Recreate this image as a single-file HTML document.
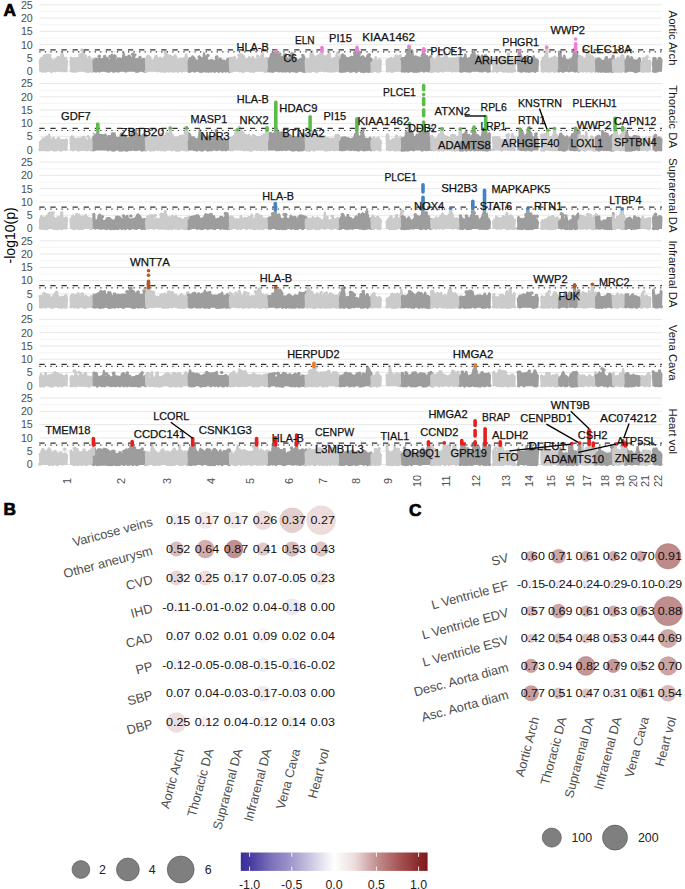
<!DOCTYPE html>
<html><head><meta charset="utf-8"><title>Figure</title>
<style>html,body{margin:0;padding:0;background:#fff;} body{width:685px;height:889px;overflow:hidden;font-family:'Liberation Sans', sans-serif;} svg{display:block;}</style>
</head><body>
<svg width="685" height="889" viewBox="0 0 685 889" font-family="'Liberation Sans', sans-serif"><line x1="39.4" x2="662.1" y1="71.26" y2="71.26" stroke="#e8e8e8" stroke-width="1.0"/>
<line x1="39.4" x2="662.1" y1="64.62" y2="64.62" stroke="#f1f1f1" stroke-width="0.8"/>
<line x1="39.4" x2="662.1" y1="57.98" y2="57.98" stroke="#e8e8e8" stroke-width="1.0"/>
<line x1="39.4" x2="662.1" y1="51.34" y2="51.34" stroke="#f1f1f1" stroke-width="0.8"/>
<line x1="39.4" x2="662.1" y1="44.70" y2="44.70" stroke="#e8e8e8" stroke-width="1.0"/>
<line x1="39.4" x2="662.1" y1="38.06" y2="38.06" stroke="#f1f1f1" stroke-width="0.8"/>
<line x1="39.4" x2="662.1" y1="31.42" y2="31.42" stroke="#e8e8e8" stroke-width="1.0"/>
<line x1="39.4" x2="662.1" y1="24.78" y2="24.78" stroke="#f1f1f1" stroke-width="0.8"/>
<line x1="39.4" x2="662.1" y1="18.14" y2="18.14" stroke="#e8e8e8" stroke-width="1.0"/>
<line x1="39.4" x2="662.1" y1="11.50" y2="11.50" stroke="#f1f1f1" stroke-width="0.8"/>
<line x1="39.4" x2="662.1" y1="4.86" y2="4.86" stroke="#e8e8e8" stroke-width="1.0"/>
<path d="M39.2,71.8 L38.7,60.8 L40.3,57.4 L41.2,57.1 L42.1,57.4 L43.0,57.5 L43.9,55.5 L44.8,54.0 L45.7,53.7 L46.6,54.0 L47.5,55.5 L48.4,55.1 L49.3,54.8 L50.2,55.1 L51.1,57.3 L52.0,57.9 L52.9,60.0 L53.8,58.7 L54.7,58.4 L55.6,58.4 L56.5,57.8 L57.5,57.6 L58.4,57.8 L59.3,58.8 L60.2,55.0 L61.1,50.7 L62.0,50.5 L62.9,50.7 L63.8,54.6 L64.7,58.2 L65.6,58.0 L66.5,58.2 L68.1,60.6 L67.5,71.8Z" fill="#cbcbcb"/>
<path d="M70.0,71.8 L69.4,60.5 L71.0,58.7 L71.9,59.0 L72.8,59.2 L73.8,57.7 L74.7,57.5 L75.6,57.7 L76.5,58.4 L77.4,57.2 L78.4,56.7 L79.3,54.7 L80.2,53.4 L81.1,53.2 L82.0,49.9 L83.0,49.6 L83.9,49.9 L84.8,54.6 L85.7,54.3 L86.6,54.6 L87.6,58.8 L88.5,58.8 L89.4,58.5 L90.3,58.5 L91.2,58.8 L92.2,58.6 L93.1,57.9 L94.0,57.6 L95.6,59.4 L95.0,71.8Z" fill="#cbcbcb"/>
<g fill="#cbcbcb"><circle cx="42.2" cy="71.0" r="1.75"/><circle cx="43.6" cy="70.9" r="1.75"/><circle cx="45.7" cy="71.1" r="1.75"/><circle cx="51.4" cy="71.4" r="1.75"/><circle cx="55.1" cy="70.8" r="1.75"/><circle cx="62.1" cy="70.8" r="1.75"/><circle cx="65.5" cy="70.8" r="1.75"/><circle cx="42.4" cy="58.7" r="1.75"/><circle cx="44.3" cy="56.2" r="1.75"/><circle cx="47.6" cy="55.2" r="1.75"/><circle cx="49.7" cy="55.4" r="1.75"/><circle cx="56.6" cy="59.4" r="1.75"/><circle cx="58.2" cy="57.6" r="1.75"/><circle cx="65.4" cy="58.5" r="1.75"/><circle cx="47.8" cy="55.9" r="1.75"/><circle cx="71.3" cy="70.8" r="1.75"/><circle cx="73.0" cy="71.1" r="1.75"/><circle cx="74.9" cy="71.0" r="1.75"/><circle cx="76.3" cy="70.9" r="1.75"/><circle cx="85.7" cy="71.0" r="1.75"/><circle cx="87.7" cy="71.3" r="1.75"/><circle cx="89.0" cy="71.3" r="1.75"/><circle cx="91.5" cy="71.0" r="1.75"/><circle cx="92.9" cy="70.9" r="1.75"/><circle cx="71.3" cy="58.3" r="1.75"/><circle cx="72.6" cy="60.1" r="1.75"/><circle cx="74.4" cy="58.9" r="1.75"/><circle cx="76.8" cy="58.7" r="1.75"/><circle cx="80.0" cy="55.1" r="1.75"/><circle cx="81.9" cy="50.0" r="1.75"/><circle cx="83.8" cy="51.9" r="1.75"/><circle cx="91.4" cy="60.2" r="1.75"/><circle cx="89.3" cy="57.5" r="1.75"/></g>
<path d="M92.9,71.8 L92.4,60.8 L94.0,59.0 L94.9,58.8 L95.8,59.1 L96.7,58.8 L97.6,58.2 L98.5,57.5 L99.4,57.3 L100.3,57.5 L101.2,60.2 L102.1,60.2 L103.0,59.4 L103.9,56.4 L104.8,56.1 L105.7,56.4 L106.7,57.2 L107.6,57.0 L108.5,57.2 L109.4,60.1 L110.3,54.9 L111.2,53.9 L112.1,53.6 L113.0,53.9 L113.9,55.2 L115.5,60.8 L114.9,71.8Z" fill="#9d9d9d"/>
<path d="M113.5,71.8 L113.0,55.8 L114.5,54.0 L115.4,54.3 L116.4,58.9 L117.3,57.5 L118.2,57.3 L119.1,57.5 L120.0,57.5 L120.9,57.8 L121.8,58.1 L122.7,52.3 L123.6,52.1 L124.5,52.3 L125.5,56.3 L126.4,56.3 L127.3,56.6 L128.2,57.6 L129.1,55.8 L130.0,55.6 L130.9,55.8 L131.8,57.3 L132.7,54.7 L133.6,54.5 L134.6,54.7 L135.5,58.6 L136.4,58.2 L137.3,57.9 L138.2,58.2 L139.1,58.0 L140.0,57.8 L140.9,58.0 L141.8,58.7 L142.8,58.4 L143.7,58.4 L144.6,58.7 L145.5,58.8 L146.4,58.6 L148.0,60.3 L147.4,71.8Z" fill="#9d9d9d"/>
<g fill="#9d9d9d"><circle cx="95.9" cy="70.9" r="1.75"/><circle cx="99.4" cy="70.9" r="1.75"/><circle cx="106.3" cy="70.8" r="1.75"/><circle cx="108.8" cy="71.3" r="1.75"/><circle cx="113.6" cy="71.3" r="1.75"/><circle cx="96.0" cy="59.2" r="1.75"/><circle cx="101.2" cy="59.9" r="1.75"/><circle cx="102.7" cy="59.5" r="1.75"/><circle cx="104.7" cy="56.6" r="1.75"/><circle cx="110.1" cy="56.4" r="1.75"/><circle cx="99.2" cy="56.3" r="1.75"/><circle cx="116.5" cy="70.8" r="1.75"/><circle cx="118.5" cy="71.0" r="1.75"/><circle cx="125.8" cy="71.0" r="1.75"/><circle cx="136.4" cy="71.3" r="1.75"/><circle cx="138.2" cy="71.0" r="1.75"/><circle cx="143.5" cy="70.8" r="1.75"/><circle cx="145.2" cy="71.2" r="1.75"/><circle cx="119.6" cy="59.5" r="1.75"/><circle cx="127.6" cy="57.4" r="1.75"/><circle cx="129.0" cy="56.2" r="1.75"/><circle cx="132.7" cy="54.3" r="1.75"/><circle cx="134.8" cy="54.9" r="1.75"/><circle cx="140.0" cy="57.4" r="1.75"/><circle cx="143.5" cy="59.5" r="1.75"/><circle cx="115.2" cy="56.5" r="1.75"/></g>
<path d="M145.3,71.8 L144.8,58.4 L146.4,55.5 L147.3,54.7 L148.3,54.5 L149.2,54.7 L150.1,56.0 L151.0,58.5 L152.0,59.9 L152.9,59.0 L153.8,58.8 L154.8,55.7 L155.7,55.4 L156.6,55.7 L157.5,56.3 L158.5,57.9 L159.4,56.8 L160.3,56.5 L161.3,56.8 L162.2,58.2 L163.1,57.8 L164.0,57.6 L165.0,50.9 L165.9,50.6 L167.5,52.4 L166.9,71.8Z" fill="#cbcbcb"/>
<path d="M165.5,71.8 L165.0,60.2 L166.6,54.3 L167.5,54.1 L168.5,54.3 L169.4,54.8 L170.3,54.5 L171.3,54.8 L172.2,56.4 L173.1,55.8 L174.1,54.5 L175.0,54.2 L175.9,54.5 L176.9,55.8 L177.8,59.1 L178.8,58.3 L179.7,58.1 L180.6,57.8 L181.6,58.1 L182.5,58.2 L183.4,57.2 L184.4,56.9 L185.3,53.5 L186.2,53.2 L187.2,53.5 L188.1,58.8 L189.1,58.6 L190.6,60.3 L190.1,71.8Z" fill="#cbcbcb"/>
<g fill="#cbcbcb"><circle cx="146.1" cy="71.2" r="1.75"/><circle cx="157.2" cy="70.8" r="1.75"/><circle cx="161.0" cy="71.1" r="1.75"/><circle cx="163.4" cy="71.1" r="1.75"/><circle cx="165.0" cy="71.2" r="1.75"/><circle cx="150.0" cy="58.1" r="1.75"/><circle cx="152.3" cy="62.0" r="1.75"/><circle cx="156.1" cy="56.4" r="1.75"/><circle cx="165.1" cy="52.5" r="1.75"/><circle cx="164.8" cy="57.3" r="1.75"/><circle cx="168.6" cy="71.0" r="1.75"/><circle cx="172.0" cy="71.0" r="1.75"/><circle cx="174.4" cy="70.9" r="1.75"/><circle cx="177.8" cy="71.2" r="1.75"/><circle cx="181.9" cy="71.1" r="1.75"/><circle cx="188.7" cy="71.0" r="1.75"/><circle cx="166.4" cy="55.8" r="1.75"/><circle cx="183.4" cy="59.2" r="1.75"/><circle cx="171.7" cy="57.8" r="1.75"/></g>
<path d="M188.0,71.8 L187.5,61.3 L189.1,57.2 L190.0,56.9 L191.0,57.2 L192.0,59.4 L192.9,57.1 L193.9,56.8 L194.9,57.1 L195.9,59.1 L196.8,59.4 L197.8,59.8 L198.8,55.9 L199.7,55.6 L201.3,57.3 L200.8,71.8Z" fill="#9d9d9d"/>
<path d="M199.3,71.8 L198.8,61.3 L200.4,59.0 L201.3,58.8 L202.2,59.0 L203.1,52.5 L204.0,52.3 L204.9,52.5 L205.8,56.0 L206.7,55.7 L207.6,56.0 L208.5,59.9 L209.4,59.6 L210.3,59.3 L211.2,59.1 L212.1,59.3 L213.1,59.4 L214.0,59.6 L214.9,60.2 L215.8,56.1 L216.7,55.9 L217.6,56.1 L218.5,59.7 L219.4,57.7 L220.3,57.5 L221.2,57.7 L222.1,59.8 L223.0,59.5 L223.9,59.6 L224.8,59.8 L225.7,60.6 L226.6,58.0 L227.5,57.7 L228.4,58.0 L229.3,57.1 L230.2,56.9 L231.8,58.6 L231.3,71.8Z" fill="#9d9d9d"/>
<g fill="#9d9d9d"><circle cx="189.3" cy="71.3" r="1.75"/><circle cx="190.8" cy="70.8" r="1.75"/><circle cx="194.5" cy="71.0" r="1.75"/><circle cx="191.2" cy="59.0" r="1.75"/><circle cx="192.7" cy="57.1" r="1.75"/><circle cx="199.1" cy="57.0" r="1.75"/><circle cx="200.1" cy="71.3" r="1.75"/><circle cx="202.2" cy="71.3" r="1.75"/><circle cx="205.8" cy="71.1" r="1.75"/><circle cx="207.9" cy="71.0" r="1.75"/><circle cx="209.1" cy="71.1" r="1.75"/><circle cx="211.3" cy="71.0" r="1.75"/><circle cx="214.7" cy="71.3" r="1.75"/><circle cx="218.7" cy="71.3" r="1.75"/><circle cx="222.4" cy="71.2" r="1.75"/><circle cx="226.0" cy="71.0" r="1.75"/><circle cx="229.4" cy="71.3" r="1.75"/><circle cx="202.3" cy="58.8" r="1.75"/><circle cx="207.9" cy="55.5" r="1.75"/><circle cx="216.6" cy="57.5" r="1.75"/><circle cx="220.1" cy="59.4" r="1.75"/><circle cx="216.8" cy="57.0" r="1.75"/></g>
<path d="M229.2,71.8 L228.7,60.2 L230.2,57.3 L231.1,57.1 L232.1,57.3 L233.0,56.8 L233.9,56.3 L234.8,56.0 L235.7,56.3 L236.6,59.6 L237.5,59.0 L238.4,55.9 L239.3,55.6 L240.2,55.9 L241.8,60.3 L241.3,71.8Z" fill="#cbcbcb"/>
<path d="M239.8,71.8 L239.3,57.3 L240.9,54.5 L241.8,54.3 L242.7,54.5 L243.6,54.8 L244.5,55.0 L245.5,58.3 L246.4,58.5 L247.3,58.3 L248.2,56.2 L249.1,55.9 L250.0,56.2 L250.9,57.6 L251.9,55.9 L252.8,55.7 L253.7,55.9 L254.6,58.2 L255.5,58.5 L256.4,58.3 L257.3,58.1 L258.2,58.3 L259.2,58.9 L260.1,54.9 L261.0,54.2 L261.9,52.6 L262.8,52.4 L263.7,52.6 L264.6,58.4 L265.6,57.4 L266.5,57.2 L267.4,57.4 L268.3,57.5 L269.2,57.2 L270.8,59.0 L270.3,71.8Z" fill="#cbcbcb"/>
<g fill="#cbcbcb"><circle cx="231.8" cy="71.1" r="1.75"/><circle cx="239.6" cy="70.8" r="1.75"/><circle cx="230.6" cy="58.4" r="1.75"/><circle cx="232.1" cy="58.5" r="1.75"/><circle cx="239.0" cy="55.2" r="1.75"/><circle cx="242.4" cy="71.2" r="1.75"/><circle cx="244.3" cy="71.1" r="1.75"/><circle cx="250.4" cy="70.9" r="1.75"/><circle cx="252.0" cy="70.8" r="1.75"/><circle cx="253.5" cy="71.3" r="1.75"/><circle cx="264.8" cy="71.3" r="1.75"/><circle cx="266.1" cy="71.0" r="1.75"/><circle cx="268.2" cy="70.8" r="1.75"/><circle cx="241.0" cy="54.8" r="1.75"/><circle cx="259.0" cy="59.5" r="1.75"/><circle cx="266.5" cy="58.4" r="1.75"/><circle cx="257.6" cy="56.2" r="1.75"/></g>
<path d="M268.2,71.8 L267.6,59.2 L269.2,57.3 L270.1,53.8 L271.0,52.5 L271.9,52.3 L272.8,52.5 L273.7,53.4 L274.6,53.1 L275.6,53.4 L276.5,54.4 L277.4,54.9 L278.3,53.8 L279.2,53.5 L280.1,53.8 L281.0,57.2 L281.9,57.1 L283.5,58.8 L282.9,71.8Z" fill="#9d9d9d"/>
<path d="M281.5,71.8 L281.0,59.7 L282.5,57.6 L283.4,55.7 L284.3,53.6 L285.2,53.3 L286.2,53.6 L287.1,56.4 L288.0,58.1 L288.9,58.3 L289.8,54.3 L290.7,53.3 L291.6,52.5 L292.5,52.2 L293.4,52.5 L294.3,53.5 L295.2,58.0 L296.1,59.1 L297.0,59.5 L297.9,59.3 L298.8,58.8 L299.7,58.3 L300.6,58.0 L301.6,57.8 L302.5,55.7 L303.4,55.4 L304.3,55.7 L305.2,59.2 L306.1,59.9 L307.7,61.8 L307.1,71.8Z" fill="#9d9d9d"/>
<g fill="#9d9d9d"><circle cx="268.8" cy="70.8" r="1.75"/><circle cx="271.0" cy="70.9" r="1.75"/><circle cx="273.0" cy="71.2" r="1.75"/><circle cx="278.3" cy="70.8" r="1.75"/><circle cx="279.8" cy="70.8" r="1.75"/><circle cx="282.1" cy="70.8" r="1.75"/><circle cx="274.3" cy="53.5" r="1.75"/><circle cx="276.4" cy="54.1" r="1.75"/><circle cx="279.9" cy="54.1" r="1.75"/><circle cx="281.9" cy="57.2" r="1.75"/><circle cx="282.2" cy="70.8" r="1.75"/><circle cx="284.7" cy="70.9" r="1.75"/><circle cx="286.5" cy="70.8" r="1.75"/><circle cx="289.8" cy="71.3" r="1.75"/><circle cx="293.3" cy="70.8" r="1.75"/><circle cx="295.3" cy="71.0" r="1.75"/><circle cx="297.0" cy="71.3" r="1.75"/><circle cx="302.9" cy="71.1" r="1.75"/><circle cx="304.6" cy="71.2" r="1.75"/><circle cx="282.5" cy="58.6" r="1.75"/><circle cx="284.6" cy="54.9" r="1.75"/><circle cx="290.0" cy="56.5" r="1.75"/><circle cx="291.9" cy="54.0" r="1.75"/><circle cx="295.4" cy="58.7" r="1.75"/><circle cx="302.8" cy="55.4" r="1.75"/><circle cx="305.9" cy="60.3" r="1.75"/><circle cx="303.6" cy="57.5" r="1.75"/></g>
<path d="M305.0,71.8 L304.5,60.0 L306.1,58.3 L307.0,58.4 L308.0,58.3 L309.0,58.0 L309.9,51.3 L310.9,49.8 L311.9,49.5 L312.8,49.8 L313.8,54.6 L314.7,57.9 L315.7,56.0 L316.7,54.9 L317.6,54.6 L318.6,54.9 L320.2,58.2 L319.6,71.8Z" fill="#cbcbcb"/>
<path d="M318.3,71.8 L317.8,55.8 L319.4,54.0 L320.3,52.4 L321.2,52.2 L322.1,52.4 L323.0,55.6 L323.9,55.4 L324.9,55.3 L325.8,55.5 L326.7,54.5 L327.6,53.8 L328.5,51.4 L329.4,51.1 L330.3,51.4 L331.2,57.9 L332.2,58.0 L333.1,58.2 L334.0,57.3 L334.9,57.0 L335.8,53.5 L336.7,53.2 L337.6,53.5 L338.5,57.4 L339.5,58.6 L340.4,58.4 L341.9,60.1 L341.4,71.8Z" fill="#cbcbcb"/>
<g fill="#cbcbcb"><circle cx="307.6" cy="71.3" r="1.75"/><circle cx="310.3" cy="71.3" r="1.75"/><circle cx="311.5" cy="70.8" r="1.75"/><circle cx="315.9" cy="71.2" r="1.75"/><circle cx="317.8" cy="71.0" r="1.75"/><circle cx="313.4" cy="56.3" r="1.75"/><circle cx="324.5" cy="70.8" r="1.75"/><circle cx="328.1" cy="70.9" r="1.75"/><circle cx="330.7" cy="70.9" r="1.75"/><circle cx="331.9" cy="70.8" r="1.75"/><circle cx="333.9" cy="70.9" r="1.75"/><circle cx="339.4" cy="71.0" r="1.75"/><circle cx="319.8" cy="55.5" r="1.75"/><circle cx="321.2" cy="52.9" r="1.75"/><circle cx="322.8" cy="57.5" r="1.75"/><circle cx="324.7" cy="57.1" r="1.75"/><circle cx="333.8" cy="58.7" r="1.75"/><circle cx="337.7" cy="53.2" r="1.75"/><circle cx="339.1" cy="58.3" r="1.75"/><circle cx="340.1" cy="56.2" r="1.75"/></g>
<path d="M339.3,71.8 L338.8,60.3 L340.4,58.0 L341.3,54.2 L342.3,53.9 L343.2,54.2 L344.1,55.7 L345.1,56.0 L346.0,56.6 L347.0,57.3 L347.9,57.6 L348.9,57.6 L349.8,57.9 L351.4,60.9 L350.9,71.8Z" fill="#9d9d9d"/>
<path d="M349.4,71.8 L348.9,58.2 L350.5,56.1 L351.4,55.8 L352.3,56.1 L353.2,55.8 L354.2,51.8 L355.1,49.6 L356.0,48.9 L357.0,48.6 L357.9,48.9 L358.8,49.4 L359.8,51.2 L360.7,56.6 L361.6,55.8 L362.6,55.5 L363.5,55.8 L364.4,56.7 L365.4,57.7 L366.3,55.5 L367.2,54.0 L368.2,53.8 L369.1,54.0 L370.0,55.4 L371.0,57.8 L371.9,58.1 L373.5,60.2 L373.0,71.8Z" fill="#9d9d9d"/>
<g fill="#9d9d9d"><circle cx="340.5" cy="71.0" r="1.75"/><circle cx="342.2" cy="71.2" r="1.75"/><circle cx="344.0" cy="70.9" r="1.75"/><circle cx="345.8" cy="70.8" r="1.75"/><circle cx="350.1" cy="71.0" r="1.75"/><circle cx="342.6" cy="55.1" r="1.75"/><circle cx="344.3" cy="56.2" r="1.75"/><circle cx="346.0" cy="58.4" r="1.75"/><circle cx="347.8" cy="59.3" r="1.75"/><circle cx="349.8" cy="58.2" r="1.75"/><circle cx="350.8" cy="71.0" r="1.75"/><circle cx="352.4" cy="70.8" r="1.75"/><circle cx="356.3" cy="71.4" r="1.75"/><circle cx="361.5" cy="71.3" r="1.75"/><circle cx="363.8" cy="71.4" r="1.75"/><circle cx="365.2" cy="71.1" r="1.75"/><circle cx="367.5" cy="71.1" r="1.75"/><circle cx="368.8" cy="71.3" r="1.75"/><circle cx="371.3" cy="70.9" r="1.75"/><circle cx="354.6" cy="53.0" r="1.75"/><circle cx="359.8" cy="52.9" r="1.75"/><circle cx="369.3" cy="54.7" r="1.75"/><circle cx="362.9" cy="57.1" r="1.75"/></g>
<path d="M370.9,71.8 L370.3,62.7 L371.9,60.9 L372.8,59.7 L373.8,59.4 L374.7,56.2 L375.6,56.0 L376.6,56.2 L377.5,60.5 L378.4,58.5 L379.4,58.2 L380.3,58.5 L381.9,60.3 L381.4,71.8Z" fill="#cbcbcb"/>
<path d="M386.0,71.8 L385.5,60.3 L387.1,58.5 L388.0,58.8 L389.0,59.9 L389.9,59.0 L390.9,58.0 L391.9,57.7 L392.8,58.0 L393.8,57.4 L394.7,56.2 L395.7,55.9 L396.6,56.2 L397.6,57.1 L398.5,55.7 L399.5,55.5 L400.4,55.7 L401.4,58.9 L402.3,59.9 L403.9,61.7 L403.4,71.8Z" fill="#cbcbcb"/>
<g fill="#cbcbcb"><circle cx="372.2" cy="70.9" r="1.75"/><circle cx="373.4" cy="70.8" r="1.75"/><circle cx="377.6" cy="71.3" r="1.75"/><circle cx="379.6" cy="71.1" r="1.75"/><circle cx="379.4" cy="59.9" r="1.75"/><circle cx="387.5" cy="70.9" r="1.75"/><circle cx="391.3" cy="71.3" r="1.75"/><circle cx="393.0" cy="71.1" r="1.75"/><circle cx="388.8" cy="59.8" r="1.75"/><circle cx="391.2" cy="58.6" r="1.75"/><circle cx="396.3" cy="56.0" r="1.75"/><circle cx="400.2" cy="56.1" r="1.75"/><circle cx="402.1" cy="61.2" r="1.75"/></g>
<path d="M401.3,71.8 L400.8,58.6 L402.3,56.9 L403.3,57.1 L404.2,57.0 L405.1,55.8 L406.1,54.0 L407.0,49.7 L408.0,49.5 L408.9,49.7 L409.8,54.2 L410.8,54.5 L412.3,56.9 L411.8,71.8Z" fill="#9d9d9d"/>
<path d="M410.4,71.8 L409.9,57.2 L411.4,50.8 L412.4,50.5 L413.3,50.8 L414.2,57.3 L415.1,55.9 L416.0,55.6 L416.9,55.9 L417.8,57.0 L418.7,56.7 L419.7,57.0 L420.6,56.6 L421.5,56.3 L422.4,51.0 L423.3,50.8 L424.2,51.0 L425.1,52.9 L426.0,55.1 L427.0,55.4 L427.9,56.4 L428.8,56.6 L429.7,55.4 L430.6,55.1 L431.5,55.4 L433.1,58.1 L432.6,71.8Z" fill="#9d9d9d"/>
<g fill="#9d9d9d"><circle cx="402.3" cy="71.1" r="1.75"/><circle cx="404.6" cy="71.1" r="1.75"/><circle cx="405.7" cy="70.8" r="1.75"/><circle cx="408.2" cy="71.3" r="1.75"/><circle cx="409.6" cy="70.8" r="1.75"/><circle cx="402.1" cy="58.9" r="1.75"/><circle cx="413.0" cy="71.0" r="1.75"/><circle cx="414.7" cy="71.2" r="1.75"/><circle cx="416.6" cy="71.2" r="1.75"/><circle cx="418.9" cy="70.9" r="1.75"/><circle cx="423.9" cy="71.1" r="1.75"/><circle cx="427.9" cy="70.8" r="1.75"/><circle cx="429.8" cy="70.8" r="1.75"/><circle cx="431.4" cy="71.0" r="1.75"/><circle cx="411.6" cy="50.7" r="1.75"/><circle cx="415.4" cy="57.1" r="1.75"/><circle cx="416.6" cy="58.0" r="1.75"/><circle cx="418.4" cy="57.9" r="1.75"/><circle cx="424.4" cy="50.6" r="1.75"/><circle cx="426.4" cy="56.5" r="1.75"/><circle cx="422.5" cy="55.3" r="1.75"/></g>
<path d="M430.5,71.8 L430.0,60.1 L431.5,57.4 L432.5,57.1 L433.4,57.4 L434.3,58.6 L435.2,58.9 L436.1,56.4 L437.1,55.0 L438.0,52.3 L438.9,52.0 L439.8,52.3 L440.8,58.6 L441.7,57.1 L442.6,56.9 L444.2,58.6 L443.7,71.8Z" fill="#cbcbcb"/>
<path d="M442.3,71.8 L441.8,58.8 L443.4,57.0 L444.3,52.7 L445.2,52.4 L446.1,52.7 L447.0,55.4 L447.9,56.6 L448.8,59.1 L449.7,59.0 L450.6,58.8 L451.5,59.0 L452.4,57.4 L453.4,57.1 L454.3,57.4 L455.2,57.4 L456.1,57.1 L457.0,57.4 L457.9,58.2 L458.8,58.4 L459.7,58.7 L460.6,59.0 L462.2,60.8 L461.7,71.8Z" fill="#cbcbcb"/>
<g fill="#cbcbcb"><circle cx="431.3" cy="71.3" r="1.75"/><circle cx="433.5" cy="71.0" r="1.75"/><circle cx="437.4" cy="71.0" r="1.75"/><circle cx="438.7" cy="70.9" r="1.75"/><circle cx="442.7" cy="71.1" r="1.75"/><circle cx="431.6" cy="59.2" r="1.75"/><circle cx="438.8" cy="51.6" r="1.75"/><circle cx="440.8" cy="59.3" r="1.75"/><circle cx="452.4" cy="71.0" r="1.75"/><circle cx="456.0" cy="70.8" r="1.75"/><circle cx="459.9" cy="70.8" r="1.75"/><circle cx="448.7" cy="59.6" r="1.75"/><circle cx="450.3" cy="58.9" r="1.75"/><circle cx="458.2" cy="58.0" r="1.75"/></g>
<path d="M459.6,71.8 L459.0,57.9 L460.6,56.1 L461.5,56.4 L462.5,57.5 L463.4,57.2 L464.4,53.5 L465.3,53.2 L466.2,53.5 L467.2,58.2 L468.1,58.2 L469.7,60.0 L469.2,71.8Z" fill="#9d9d9d"/>
<path d="M467.7,71.8 L467.2,58.9 L468.8,57.1 L469.7,57.1 L470.6,54.1 L471.6,53.2 L472.5,52.9 L473.5,50.9 L474.4,50.6 L475.3,50.9 L476.3,57.3 L477.2,57.6 L478.2,57.0 L479.1,56.7 L480.0,56.7 L481.0,56.4 L481.9,56.6 L482.9,56.9 L483.8,54.9 L484.7,54.4 L485.7,54.1 L486.6,54.4 L487.6,55.6 L488.5,58.3 L489.4,58.5 L491.0,60.2 L490.5,71.8Z" fill="#9d9d9d"/>
<g fill="#9d9d9d"><circle cx="460.7" cy="71.1" r="1.75"/><circle cx="462.4" cy="71.1" r="1.75"/><circle cx="466.1" cy="70.8" r="1.75"/><circle cx="468.4" cy="71.1" r="1.75"/><circle cx="470.3" cy="70.9" r="1.75"/><circle cx="479.9" cy="70.8" r="1.75"/><circle cx="482.2" cy="71.0" r="1.75"/><circle cx="487.4" cy="71.1" r="1.75"/><circle cx="489.1" cy="71.0" r="1.75"/><circle cx="469.1" cy="58.9" r="1.75"/><circle cx="482.3" cy="56.2" r="1.75"/><circle cx="489.1" cy="60.3" r="1.75"/><circle cx="477.9" cy="56.0" r="1.75"/></g>
<path d="M492.6,71.8 L492.0,62.3 L493.6,56.5 L494.5,56.3 L495.5,56.1 L496.4,55.9 L497.4,56.1 L498.3,58.5 L499.2,58.2 L500.2,58.5 L501.1,57.6 L502.1,57.0 L503.0,56.7 L503.9,56.4 L504.9,56.1 L505.8,56.4 L506.8,57.9 L507.7,53.1 L508.6,52.8 L509.6,53.1 L510.5,58.6 L511.4,58.3 L512.4,58.4 L513.3,58.5 L514.3,58.3 L515.8,60.0 L515.3,71.8Z" fill="#cbcbcb"/>
<g fill="#cbcbcb"><circle cx="493.2" cy="71.1" r="1.75"/><circle cx="497.1" cy="71.2" r="1.75"/><circle cx="503.0" cy="71.0" r="1.75"/><circle cx="505.2" cy="71.0" r="1.75"/><circle cx="507.1" cy="70.8" r="1.75"/><circle cx="508.3" cy="71.2" r="1.75"/><circle cx="510.6" cy="70.9" r="1.75"/><circle cx="512.2" cy="71.2" r="1.75"/><circle cx="514.6" cy="70.8" r="1.75"/><circle cx="508.3" cy="54.1" r="1.75"/><circle cx="510.7" cy="59.6" r="1.75"/><circle cx="511.4" cy="58.6" r="1.75"/></g>
<path d="M517.4,71.8 L516.8,57.0 L518.4,54.7 L519.3,53.8 L520.2,53.5 L521.1,53.8 L522.0,55.0 L522.9,57.9 L523.8,58.3 L524.7,56.8 L525.6,56.5 L526.5,55.2 L527.5,54.9 L528.4,55.2 L529.3,59.2 L530.2,59.3 L531.1,59.0 L532.0,58.1 L532.9,55.5 L533.8,55.3 L534.7,55.5 L535.6,58.5 L536.5,58.3 L537.4,58.5 L539.0,60.5 L538.4,71.8Z" fill="#9d9d9d"/>
<g fill="#9d9d9d"><circle cx="520.5" cy="71.1" r="1.75"/><circle cx="522.1" cy="71.0" r="1.75"/><circle cx="525.8" cy="71.0" r="1.75"/><circle cx="527.4" cy="70.8" r="1.75"/><circle cx="529.1" cy="71.2" r="1.75"/><circle cx="531.4" cy="70.8" r="1.75"/><circle cx="534.9" cy="71.3" r="1.75"/><circle cx="531.5" cy="60.6" r="1.75"/><circle cx="527.7" cy="57.3" r="1.75"/></g>
<path d="M540.7,71.8 L540.2,61.4 L541.8,58.7 L542.7,58.4 L543.6,58.2 L544.6,53.5 L545.5,53.3 L546.4,53.5 L547.4,57.1 L548.3,57.6 L549.2,58.2 L550.2,57.9 L551.1,57.2 L552.0,57.0 L553.0,56.6 L553.9,55.8 L554.8,55.5 L555.7,55.8 L556.7,56.9 L557.6,57.1 L558.5,57.6 L559.5,57.8 L561.1,60.5 L560.5,71.8Z" fill="#cbcbcb"/>
<g fill="#cbcbcb"><circle cx="543.3" cy="71.2" r="1.75"/><circle cx="547.5" cy="70.9" r="1.75"/><circle cx="549.1" cy="71.0" r="1.75"/><circle cx="551.0" cy="70.8" r="1.75"/><circle cx="554.6" cy="71.2" r="1.75"/><circle cx="558.3" cy="71.1" r="1.75"/><circle cx="543.6" cy="58.1" r="1.75"/><circle cx="551.4" cy="59.1" r="1.75"/></g>
<path d="M558.4,71.8 L557.9,52.0 L559.5,50.3 L560.4,50.5 L561.4,52.1 L562.3,58.2 L563.3,54.8 L564.2,54.5 L565.2,54.8 L566.1,58.8 L567.1,58.5 L568.7,60.3 L568.1,71.8Z" fill="#9d9d9d"/>
<path d="M568.4,71.8 L567.9,59.8 L569.5,58.1 L570.4,58.4 L571.4,57.4 L572.3,56.0 L573.3,48.0 L574.2,47.7 L575.2,48.0 L576.1,50.6 L577.1,51.6 L578.0,55.3 L578.9,55.0 L580.5,56.8 L580.0,71.8Z" fill="#9d9d9d"/>
<g fill="#9d9d9d"><circle cx="559.1" cy="70.8" r="1.75"/><circle cx="563.0" cy="71.3" r="1.75"/><circle cx="569.2" cy="70.8" r="1.75"/><circle cx="575.0" cy="71.1" r="1.75"/><circle cx="577.3" cy="70.8" r="1.75"/><circle cx="578.6" cy="70.9" r="1.75"/><circle cx="576.8" cy="53.5" r="1.75"/></g>
<path d="M577.9,71.8 L577.4,58.9 L578.9,55.1 L579.9,54.8 L580.9,55.1 L581.8,55.8 L582.8,56.1 L583.7,57.4 L585.3,59.1 L584.8,71.8Z" fill="#cbcbcb"/>
<path d="M583.3,71.8 L582.8,61.3 L584.4,57.8 L585.3,57.6 L586.2,52.1 L587.2,51.9 L588.1,52.1 L589.0,57.1 L589.9,56.3 L590.9,56.0 L591.8,55.9 L592.7,55.6 L593.7,55.9 L594.6,57.9 L595.5,58.3 L596.4,58.5 L598.0,61.1 L597.5,71.8Z" fill="#cbcbcb"/>
<g fill="#cbcbcb"><circle cx="579.3" cy="70.8" r="1.75"/><circle cx="582.9" cy="71.0" r="1.75"/><circle cx="586.6" cy="71.1" r="1.75"/><circle cx="590.3" cy="70.9" r="1.75"/><circle cx="591.8" cy="71.0" r="1.75"/><circle cx="595.3" cy="71.2" r="1.75"/><circle cx="588.2" cy="53.5" r="1.75"/><circle cx="590.0" cy="56.2" r="1.75"/><circle cx="591.4" cy="57.0" r="1.75"/><circle cx="595.6" cy="59.0" r="1.75"/></g>
<path d="M595.4,71.8 L594.9,60.2 L596.4,58.4 L597.5,57.6 L598.7,57.2 L599.8,57.6 L601.3,59.7 L600.8,71.8Z" fill="#9d9d9d"/>
<path d="M599.4,71.8 L598.8,60.4 L600.4,58.6 L601.3,58.9 L602.3,60.0 L603.2,59.8 L604.1,59.5 L605.0,56.5 L605.9,56.2 L606.8,55.9 L607.8,56.2 L608.7,61.4 L609.6,58.2 L610.5,57.9 L611.4,58.2 L612.3,56.2 L613.3,56.0 L614.8,57.7 L614.3,71.8Z" fill="#9d9d9d"/>
<g fill="#9d9d9d"><circle cx="598.4" cy="71.0" r="1.75"/><circle cx="600.6" cy="71.1" r="1.75"/><circle cx="602.0" cy="71.0" r="1.75"/><circle cx="604.4" cy="71.1" r="1.75"/><circle cx="606.1" cy="71.3" r="1.75"/><circle cx="608.0" cy="71.1" r="1.75"/><circle cx="609.2" cy="71.1" r="1.75"/><circle cx="611.8" cy="71.3" r="1.75"/><circle cx="613.4" cy="70.9" r="1.75"/><circle cx="602.6" cy="62.0" r="1.75"/><circle cx="609.6" cy="60.2" r="1.75"/><circle cx="613.1" cy="56.3" r="1.75"/></g>
<path d="M612.2,71.8 L611.7,60.9 L613.3,59.0 L614.3,58.6 L615.4,59.0 L616.4,58.2 L617.5,56.8 L618.5,56.5 L620.1,58.2 L619.6,71.8Z" fill="#cbcbcb"/>
<path d="M618.4,71.8 L617.8,61.4 L619.4,59.6 L620.3,55.4 L621.3,54.2 L622.2,53.9 L623.2,54.2 L624.1,55.4 L625.1,58.7 L626.0,58.4 L627.6,60.2 L627.0,71.8Z" fill="#cbcbcb"/>
<g fill="#cbcbcb"><circle cx="615.7" cy="71.0" r="1.75"/><circle cx="617.7" cy="71.3" r="1.75"/><circle cx="613.4" cy="61.1" r="1.75"/><circle cx="619.5" cy="71.0" r="1.75"/><circle cx="621.3" cy="71.3" r="1.75"/><circle cx="625.3" cy="71.3" r="1.75"/></g>
<path d="M624.9,71.8 L624.4,60.6 L626.0,58.8 L626.9,55.7 L627.9,55.5 L628.8,55.7 L629.8,59.4 L630.7,56.0 L631.7,55.7 L633.2,57.5 L632.7,71.8Z" fill="#9d9d9d"/>
<path d="M631.4,71.8 L630.8,60.5 L632.4,58.8 L633.4,58.9 L634.5,59.2 L635.5,59.6 L636.5,59.6 L637.5,59.3 L638.6,57.2 L639.6,56.9 L641.2,58.6 L640.6,71.8Z" fill="#9d9d9d"/>
<g fill="#9d9d9d"><circle cx="626.2" cy="71.1" r="1.75"/><circle cx="628.0" cy="57.1" r="1.75"/><circle cx="629.6" cy="59.4" r="1.75"/><circle cx="634.8" cy="71.3" r="1.75"/><circle cx="636.3" cy="71.4" r="1.75"/><circle cx="638.5" cy="70.8" r="1.75"/><circle cx="632.2" cy="60.6" r="1.75"/><circle cx="634.2" cy="61.4" r="1.75"/></g>
<path d="M640.7,71.8 L640.2,62.5 L641.7,60.7 L642.6,58.3 L643.6,57.4 L644.5,57.1 L645.4,56.5 L646.3,56.3 L647.2,56.5 L648.1,59.9 L649.0,59.6 L649.9,59.4 L651.5,61.1 L651.0,71.8Z" fill="#cbcbcb"/>
<g fill="#cbcbcb"><circle cx="641.9" cy="71.1" r="1.75"/><circle cx="643.7" cy="71.2" r="1.75"/><circle cx="647.0" cy="70.9" r="1.75"/><circle cx="649.0" cy="71.0" r="1.75"/><circle cx="643.7" cy="59.1" r="1.75"/><circle cx="647.2" cy="56.7" r="1.75"/></g>
<path d="M652.5,71.8 L651.9,62.6 L653.5,56.9 L654.4,56.7 L655.4,56.9 L656.3,60.3 L657.3,59.6 L658.2,59.3 L659.1,57.4 L660.1,57.2 L661.0,57.4 L662.6,59.4 L662.0,71.8Z" fill="#9d9d9d"/>
<g fill="#9d9d9d"><circle cx="653.6" cy="71.1" r="1.75"/><circle cx="655.1" cy="71.3" r="1.75"/><circle cx="657.1" cy="70.9" r="1.75"/><circle cx="653.8" cy="59.0" r="1.75"/><circle cx="655.2" cy="58.9" r="1.75"/><circle cx="659.4" cy="58.4" r="1.75"/></g>
<line x1="39.3" x2="662" y1="49.80" y2="49.80" stroke="#333" stroke-width="1.25" stroke-dasharray="5.3 5.787"/>
<line x1="39.3" x2="662" y1="51.87" y2="51.87" stroke="#333" stroke-width="1.2" stroke-dasharray="1.2 4.3435"/>
<text x="32.8" y="75.06" font-size="10.7" fill="#4d4d4d" text-anchor="end">0</text>
<text x="32.8" y="61.78" font-size="10.7" fill="#4d4d4d" text-anchor="end">5</text>
<text x="32.8" y="48.50" font-size="10.7" fill="#4d4d4d" text-anchor="end">10</text>
<text x="32.8" y="35.22" font-size="10.7" fill="#4d4d4d" text-anchor="end">15</text>
<text x="32.8" y="21.94" font-size="10.7" fill="#4d4d4d" text-anchor="end">20</text>
<text x="32.8" y="8.66" font-size="10.7" fill="#4d4d4d" text-anchor="end">25</text>
<line x1="39.4" x2="662.1" y1="149.90" y2="149.90" stroke="#e8e8e8" stroke-width="1.0"/>
<line x1="39.4" x2="662.1" y1="143.26" y2="143.26" stroke="#f1f1f1" stroke-width="0.8"/>
<line x1="39.4" x2="662.1" y1="136.62" y2="136.62" stroke="#e8e8e8" stroke-width="1.0"/>
<line x1="39.4" x2="662.1" y1="129.98" y2="129.98" stroke="#f1f1f1" stroke-width="0.8"/>
<line x1="39.4" x2="662.1" y1="123.34" y2="123.34" stroke="#e8e8e8" stroke-width="1.0"/>
<line x1="39.4" x2="662.1" y1="116.70" y2="116.70" stroke="#f1f1f1" stroke-width="0.8"/>
<line x1="39.4" x2="662.1" y1="110.06" y2="110.06" stroke="#e8e8e8" stroke-width="1.0"/>
<line x1="39.4" x2="662.1" y1="103.42" y2="103.42" stroke="#f1f1f1" stroke-width="0.8"/>
<line x1="39.4" x2="662.1" y1="96.78" y2="96.78" stroke="#e8e8e8" stroke-width="1.0"/>
<line x1="39.4" x2="662.1" y1="90.14" y2="90.14" stroke="#f1f1f1" stroke-width="0.8"/>
<line x1="39.4" x2="662.1" y1="83.50" y2="83.50" stroke="#e8e8e8" stroke-width="1.0"/>
<path d="M39.2,150.4 L38.7,142.3 L40.3,140.3 L41.2,140.1 L42.1,137.6 L43.0,137.4 L43.9,137.6 L44.8,137.7 L45.7,135.8 L46.6,135.6 L47.5,135.8 L48.4,133.7 L49.3,133.4 L50.2,133.7 L51.1,139.0 L52.0,138.8 L52.9,137.8 L53.8,137.6 L54.7,137.8 L55.6,139.3 L56.5,138.4 L57.5,138.2 L58.4,138.4 L59.3,139.4 L60.2,139.6 L61.1,139.6 L62.0,139.5 L62.9,139.2 L63.8,138.9 L64.7,139.2 L65.6,138.3 L66.5,138.0 L68.1,139.8 L67.5,150.4Z" fill="#cbcbcb"/>
<path d="M70.0,150.4 L69.4,138.3 L71.0,135.5 L71.9,135.3 L72.8,135.5 L73.8,136.1 L74.7,138.6 L75.6,138.9 L76.5,138.5 L77.4,137.5 L78.4,137.3 L79.3,137.5 L80.2,138.5 L81.1,136.8 L82.0,136.6 L83.0,135.8 L83.9,135.5 L84.8,135.8 L85.7,138.2 L86.6,138.5 L87.6,139.7 L88.5,137.6 L89.4,137.3 L90.3,137.6 L91.2,138.4 L92.2,138.1 L93.1,132.2 L94.0,132.0 L95.6,133.7 L95.0,150.4Z" fill="#cbcbcb"/>
<g fill="#cbcbcb"><circle cx="40.0" cy="149.8" r="1.75"/><circle cx="42.1" cy="149.5" r="1.75"/><circle cx="44.0" cy="149.5" r="1.75"/><circle cx="45.4" cy="149.8" r="1.75"/><circle cx="47.2" cy="149.7" r="1.75"/><circle cx="49.0" cy="149.8" r="1.75"/><circle cx="53.2" cy="149.6" r="1.75"/><circle cx="54.4" cy="149.9" r="1.75"/><circle cx="56.2" cy="149.8" r="1.75"/><circle cx="60.4" cy="149.9" r="1.75"/><circle cx="61.7" cy="149.7" r="1.75"/><circle cx="65.8" cy="149.4" r="1.75"/><circle cx="53.2" cy="138.6" r="1.75"/><circle cx="58.6" cy="138.6" r="1.75"/><circle cx="61.7" cy="140.7" r="1.75"/><circle cx="46.3" cy="138.6" r="1.75"/><circle cx="72.9" cy="149.7" r="1.75"/><circle cx="78.3" cy="150.0" r="1.75"/><circle cx="81.7" cy="149.6" r="1.75"/><circle cx="85.5" cy="149.6" r="1.75"/><circle cx="87.4" cy="149.8" r="1.75"/><circle cx="91.6" cy="149.9" r="1.75"/><circle cx="75.0" cy="139.8" r="1.75"/><circle cx="76.3" cy="140.1" r="1.75"/><circle cx="80.2" cy="139.4" r="1.75"/><circle cx="87.2" cy="142.0" r="1.75"/><circle cx="90.9" cy="140.3" r="1.75"/><circle cx="88.0" cy="136.7" r="1.75"/></g>
<path d="M92.9,150.4 L92.4,137.7 L94.0,135.9 L94.9,135.6 L95.8,134.7 L96.7,134.4 L97.6,133.6 L98.5,133.3 L99.4,133.6 L100.3,134.0 L101.2,133.8 L102.1,134.0 L103.0,134.1 L103.9,134.4 L104.8,135.5 L105.7,135.9 L106.7,136.8 L107.6,137.0 L108.5,135.8 L109.4,135.0 L110.3,134.8 L111.2,135.0 L112.1,134.2 L113.0,134.0 L113.9,134.2 L115.5,139.0 L114.9,150.4Z" fill="#9d9d9d"/>
<path d="M113.5,150.4 L113.0,134.0 L114.5,132.2 L115.4,132.5 L116.4,136.6 L117.3,136.9 L118.2,136.7 L119.1,136.9 L120.0,133.1 L120.9,132.8 L121.8,133.1 L122.7,136.6 L123.6,134.5 L124.5,134.2 L125.5,134.5 L126.4,135.6 L127.3,137.5 L128.2,137.2 L129.1,137.5 L130.0,136.3 L130.9,133.3 L131.8,132.3 L132.7,129.1 L133.6,128.8 L134.6,129.1 L135.5,129.8 L136.4,130.1 L137.3,133.0 L138.2,136.5 L139.1,136.6 L140.0,136.3 L140.9,136.6 L141.8,136.9 L142.8,134.1 L143.7,133.9 L144.6,134.1 L145.5,134.5 L146.4,134.3 L148.0,136.0 L147.4,150.4Z" fill="#9d9d9d"/>
<g fill="#9d9d9d"><circle cx="94.1" cy="149.8" r="1.75"/><circle cx="108.1" cy="149.8" r="1.75"/><circle cx="112.4" cy="150.0" r="1.75"/><circle cx="113.8" cy="149.7" r="1.75"/><circle cx="94.0" cy="137.6" r="1.75"/><circle cx="96.0" cy="135.3" r="1.75"/><circle cx="101.2" cy="135.7" r="1.75"/><circle cx="105.2" cy="135.3" r="1.75"/><circle cx="108.5" cy="136.7" r="1.75"/><circle cx="112.5" cy="133.8" r="1.75"/><circle cx="96.8" cy="136.4" r="1.75"/><circle cx="114.6" cy="149.8" r="1.75"/><circle cx="119.8" cy="149.9" r="1.75"/><circle cx="121.8" cy="150.0" r="1.75"/><circle cx="123.6" cy="149.5" r="1.75"/><circle cx="125.6" cy="149.9" r="1.75"/><circle cx="127.3" cy="149.9" r="1.75"/><circle cx="130.6" cy="149.6" r="1.75"/><circle cx="135.0" cy="149.4" r="1.75"/><circle cx="136.4" cy="149.6" r="1.75"/><circle cx="141.9" cy="149.9" r="1.75"/><circle cx="143.3" cy="149.5" r="1.75"/><circle cx="145.7" cy="149.8" r="1.75"/><circle cx="122.1" cy="134.0" r="1.75"/><circle cx="128.9" cy="138.8" r="1.75"/><circle cx="132.8" cy="131.3" r="1.75"/><circle cx="136.0" cy="130.3" r="1.75"/><circle cx="138.0" cy="136.5" r="1.75"/><circle cx="140.3" cy="136.3" r="1.75"/><circle cx="143.9" cy="135.1" r="1.75"/><circle cx="136.5" cy="134.1" r="1.75"/></g>
<path d="M145.3,150.4 L144.8,138.5 L146.4,136.4 L147.3,136.2 L148.3,136.4 L149.2,137.7 L150.1,135.8 L151.0,135.6 L152.0,135.8 L152.9,138.3 L153.8,136.7 L154.8,136.4 L155.7,136.6 L156.6,136.3 L157.5,136.6 L158.5,137.6 L159.4,133.9 L160.3,133.6 L161.3,133.9 L162.2,136.9 L163.1,134.9 L164.0,134.6 L165.0,134.9 L165.9,136.9 L167.5,138.6 L166.9,150.4Z" fill="#cbcbcb"/>
<path d="M165.5,150.4 L165.0,133.2 L166.6,131.5 L167.5,131.8 L168.5,133.1 L169.4,134.6 L170.3,134.2 L171.3,133.6 L172.2,133.3 L173.1,133.6 L174.1,136.0 L175.0,136.7 L175.9,136.6 L176.9,136.4 L177.8,136.6 L178.8,135.4 L179.7,135.1 L180.6,135.0 L181.6,135.3 L182.5,135.3 L183.4,135.1 L184.4,130.3 L185.3,129.4 L186.2,129.1 L187.2,129.4 L188.1,130.7 L189.1,133.5 L190.6,137.6 L190.1,150.4Z" fill="#cbcbcb"/>
<g fill="#cbcbcb"><circle cx="146.8" cy="149.6" r="1.75"/><circle cx="150.5" cy="150.0" r="1.75"/><circle cx="152.0" cy="149.7" r="1.75"/><circle cx="153.8" cy="149.7" r="1.75"/><circle cx="157.6" cy="149.4" r="1.75"/><circle cx="161.0" cy="149.8" r="1.75"/><circle cx="163.3" cy="149.6" r="1.75"/><circle cx="164.9" cy="150.0" r="1.75"/><circle cx="150.5" cy="137.9" r="1.75"/><circle cx="153.4" cy="138.0" r="1.75"/><circle cx="157.8" cy="137.1" r="1.75"/><circle cx="161.1" cy="134.4" r="1.75"/><circle cx="155.6" cy="136.8" r="1.75"/><circle cx="171.9" cy="149.8" r="1.75"/><circle cx="176.0" cy="149.9" r="1.75"/><circle cx="178.0" cy="149.9" r="1.75"/><circle cx="179.5" cy="150.0" r="1.75"/><circle cx="183.3" cy="149.6" r="1.75"/><circle cx="185.4" cy="149.7" r="1.75"/><circle cx="187.2" cy="149.9" r="1.75"/><circle cx="181.6" cy="136.3" r="1.75"/><circle cx="185.5" cy="130.5" r="1.75"/><circle cx="187.3" cy="136.0" r="1.75"/></g>
<path d="M188.0,150.4 L187.5,138.5 L189.1,134.0 L190.0,133.7 L191.0,134.0 L192.0,137.4 L192.9,137.9 L193.9,137.7 L194.9,137.4 L195.9,137.7 L196.8,138.6 L197.8,137.4 L198.8,128.5 L199.7,128.2 L201.3,130.0 L200.8,150.4Z" fill="#9d9d9d"/>
<path d="M199.3,150.4 L198.8,140.4 L200.4,136.6 L201.3,135.9 L202.2,135.6 L203.1,135.3 L204.0,135.6 L204.9,136.2 L205.8,138.2 L206.7,135.8 L207.6,135.6 L208.5,135.6 L209.4,135.3 L210.3,135.6 L211.2,136.2 L212.1,136.4 L213.1,137.5 L214.0,136.0 L214.9,135.8 L215.8,131.4 L216.7,131.1 L217.6,131.4 L218.5,136.8 L219.4,137.6 L220.3,138.7 L221.2,138.4 L222.1,138.7 L223.0,139.4 L223.9,139.6 L224.8,139.8 L225.7,140.0 L226.6,139.0 L227.5,138.7 L228.4,138.5 L229.3,138.7 L230.2,138.5 L231.8,140.2 L231.3,150.4Z" fill="#9d9d9d"/>
<g fill="#9d9d9d"><circle cx="194.8" cy="149.6" r="1.75"/><circle cx="196.9" cy="150.0" r="1.75"/><circle cx="188.8" cy="133.9" r="1.75"/><circle cx="193.2" cy="137.7" r="1.75"/><circle cx="200.7" cy="149.7" r="1.75"/><circle cx="202.4" cy="149.9" r="1.75"/><circle cx="207.8" cy="149.9" r="1.75"/><circle cx="209.7" cy="149.5" r="1.75"/><circle cx="211.3" cy="149.7" r="1.75"/><circle cx="216.7" cy="149.5" r="1.75"/><circle cx="222.3" cy="149.7" r="1.75"/><circle cx="225.8" cy="149.8" r="1.75"/><circle cx="202.1" cy="136.4" r="1.75"/><circle cx="206.1" cy="139.2" r="1.75"/><circle cx="215.0" cy="135.4" r="1.75"/><circle cx="216.3" cy="130.7" r="1.75"/><circle cx="218.8" cy="138.3" r="1.75"/><circle cx="220.3" cy="138.9" r="1.75"/><circle cx="223.7" cy="139.6" r="1.75"/><circle cx="214.7" cy="136.6" r="1.75"/></g>
<path d="M229.2,150.4 L228.7,138.2 L230.2,136.4 L231.1,136.7 L232.1,136.3 L233.0,135.0 L233.9,134.7 L234.8,131.8 L235.7,131.2 L236.6,130.9 L237.5,130.2 L238.4,127.9 L239.3,127.7 L240.2,127.9 L241.8,138.1 L241.3,150.4Z" fill="#cbcbcb"/>
<path d="M239.8,150.4 L239.3,129.4 L240.9,127.7 L241.8,128.0 L242.7,130.9 L243.6,136.6 L244.5,135.3 L245.5,135.1 L246.4,135.2 L247.3,135.0 L248.2,134.0 L249.1,133.7 L250.0,134.0 L250.9,136.1 L251.9,137.6 L252.8,135.9 L253.7,135.1 L254.6,134.9 L255.5,135.1 L256.4,135.7 L257.3,137.2 L258.2,136.1 L259.2,135.8 L260.1,136.1 L261.0,137.9 L261.9,136.6 L262.8,135.5 L263.7,135.3 L264.6,135.1 L265.6,135.3 L266.5,135.0 L267.4,135.1 L268.3,134.9 L269.2,135.1 L270.8,137.5 L270.3,150.4Z" fill="#cbcbcb"/>
<g fill="#cbcbcb"><circle cx="230.5" cy="149.8" r="1.75"/><circle cx="232.4" cy="149.8" r="1.75"/><circle cx="235.9" cy="133.0" r="1.75"/><circle cx="237.6" cy="130.6" r="1.75"/><circle cx="239.2" cy="127.5" r="1.75"/><circle cx="244.2" cy="149.8" r="1.75"/><circle cx="246.5" cy="149.5" r="1.75"/><circle cx="248.2" cy="149.5" r="1.75"/><circle cx="250.0" cy="149.9" r="1.75"/><circle cx="251.6" cy="149.9" r="1.75"/><circle cx="257.5" cy="149.6" r="1.75"/><circle cx="261.3" cy="149.6" r="1.75"/><circle cx="265.0" cy="149.7" r="1.75"/><circle cx="243.1" cy="133.0" r="1.75"/><circle cx="244.8" cy="135.5" r="1.75"/><circle cx="246.2" cy="135.6" r="1.75"/><circle cx="253.4" cy="135.4" r="1.75"/><circle cx="257.5" cy="137.8" r="1.75"/><circle cx="259.3" cy="137.5" r="1.75"/><circle cx="261.1" cy="137.6" r="1.75"/><circle cx="263.2" cy="136.7" r="1.75"/><circle cx="264.3" cy="134.7" r="1.75"/><circle cx="262.4" cy="136.6" r="1.75"/></g>
<path d="M268.2,150.4 L267.6,133.8 L269.2,132.1 L270.1,132.3 L271.0,133.5 L271.9,135.1 L272.8,133.5 L273.7,131.9 L274.6,131.4 L275.6,131.1 L276.5,130.2 L277.4,130.0 L278.3,130.2 L279.2,131.2 L280.1,132.1 L281.0,131.9 L281.9,131.7 L283.5,133.4 L282.9,150.4Z" fill="#9d9d9d"/>
<path d="M281.5,150.4 L281.0,134.4 L282.5,131.9 L283.4,131.7 L284.3,131.9 L285.2,133.7 L286.2,133.3 L287.1,133.1 L288.0,133.3 L288.9,134.2 L289.8,134.0 L290.7,134.2 L291.6,134.9 L292.5,136.7 L293.4,136.2 L294.3,135.9 L295.2,136.2 L296.1,136.2 L297.0,135.9 L297.9,132.8 L298.8,132.5 L299.7,132.8 L300.6,136.3 L301.6,135.1 L302.5,134.8 L303.4,135.0 L304.3,135.2 L305.2,135.8 L306.1,136.7 L307.7,138.4 L307.1,150.4Z" fill="#9d9d9d"/>
<g fill="#9d9d9d"><circle cx="276.8" cy="149.8" r="1.75"/><circle cx="279.7" cy="149.6" r="1.75"/><circle cx="282.2" cy="149.4" r="1.75"/><circle cx="271.0" cy="133.4" r="1.75"/><circle cx="272.7" cy="134.9" r="1.75"/><circle cx="276.6" cy="130.4" r="1.75"/><circle cx="281.6" cy="133.1" r="1.75"/><circle cx="286.0" cy="149.6" r="1.75"/><circle cx="291.7" cy="149.8" r="1.75"/><circle cx="293.6" cy="150.0" r="1.75"/><circle cx="295.0" cy="149.6" r="1.75"/><circle cx="297.2" cy="149.6" r="1.75"/><circle cx="298.6" cy="149.9" r="1.75"/><circle cx="300.5" cy="149.7" r="1.75"/><circle cx="302.3" cy="149.8" r="1.75"/><circle cx="306.2" cy="149.5" r="1.75"/><circle cx="284.0" cy="134.0" r="1.75"/><circle cx="293.2" cy="138.2" r="1.75"/><circle cx="302.8" cy="134.5" r="1.75"/><circle cx="304.3" cy="136.0" r="1.75"/><circle cx="306.1" cy="136.2" r="1.75"/><circle cx="285.4" cy="134.1" r="1.75"/></g>
<path d="M305.0,150.4 L304.5,135.1 L306.1,133.4 L307.0,133.1 L308.0,132.4 L309.0,132.1 L309.9,132.4 L310.9,131.0 L311.9,130.7 L312.8,131.0 L313.8,136.6 L314.7,136.1 L315.7,135.8 L316.7,136.1 L317.6,137.4 L318.6,137.7 L320.2,140.6 L319.6,150.4Z" fill="#cbcbcb"/>
<path d="M318.3,150.4 L317.8,135.3 L319.4,133.6 L320.3,133.8 L321.2,135.5 L322.1,135.8 L323.0,135.5 L323.9,135.3 L324.9,135.2 L325.8,135.5 L326.7,137.0 L327.6,137.3 L328.5,137.5 L329.4,137.3 L330.3,137.5 L331.2,139.2 L332.2,138.3 L333.1,138.1 L334.0,138.3 L334.9,134.3 L335.8,134.0 L336.7,134.3 L337.6,134.6 L338.5,134.4 L339.5,134.6 L340.4,136.0 L341.9,141.2 L341.4,150.4Z" fill="#cbcbcb"/>
<g fill="#cbcbcb"><circle cx="306.4" cy="149.7" r="1.75"/><circle cx="308.3" cy="149.9" r="1.75"/><circle cx="309.6" cy="149.9" r="1.75"/><circle cx="314.0" cy="149.9" r="1.75"/><circle cx="306.0" cy="133.9" r="1.75"/><circle cx="308.1" cy="133.6" r="1.75"/><circle cx="313.8" cy="136.7" r="1.75"/><circle cx="315.9" cy="136.5" r="1.75"/><circle cx="325.0" cy="149.7" r="1.75"/><circle cx="326.5" cy="149.9" r="1.75"/><circle cx="328.4" cy="149.6" r="1.75"/><circle cx="330.6" cy="149.5" r="1.75"/><circle cx="334.4" cy="149.8" r="1.75"/><circle cx="338.0" cy="149.6" r="1.75"/><circle cx="332.4" cy="139.1" r="1.75"/><circle cx="337.8" cy="135.3" r="1.75"/><circle cx="322.7" cy="137.0" r="1.75"/></g>
<path d="M339.3,150.4 L338.8,141.9 L340.4,139.9 L341.3,136.7 L342.3,136.4 L343.2,136.2 L344.1,136.4 L345.1,136.1 L346.0,136.4 L347.0,137.8 L347.9,138.5 L348.9,138.2 L349.8,138.4 L351.4,140.2 L350.9,150.4Z" fill="#9d9d9d"/>
<path d="M349.4,150.4 L348.9,140.6 L350.5,138.2 L351.4,138.0 L352.3,137.6 L353.2,137.3 L354.2,133.2 L355.1,132.9 L356.0,132.7 L357.0,132.4 L357.9,132.7 L358.8,135.4 L359.8,136.4 L360.7,133.2 L361.6,130.6 L362.6,130.3 L363.5,130.6 L364.4,133.7 L365.4,138.1 L366.3,137.8 L367.2,138.1 L368.2,138.2 L369.1,136.9 L370.0,136.6 L371.0,136.9 L371.9,139.1 L373.5,140.8 L373.0,150.4Z" fill="#9d9d9d"/>
<g fill="#9d9d9d"><circle cx="340.7" cy="149.6" r="1.75"/><circle cx="342.5" cy="149.7" r="1.75"/><circle cx="344.1" cy="149.6" r="1.75"/><circle cx="348.0" cy="138.8" r="1.75"/><circle cx="349.5" cy="139.7" r="1.75"/><circle cx="350.5" cy="149.4" r="1.75"/><circle cx="354.3" cy="149.4" r="1.75"/><circle cx="356.1" cy="149.5" r="1.75"/><circle cx="358.3" cy="149.9" r="1.75"/><circle cx="359.5" cy="149.5" r="1.75"/><circle cx="363.4" cy="149.8" r="1.75"/><circle cx="365.0" cy="149.8" r="1.75"/><circle cx="367.3" cy="149.5" r="1.75"/><circle cx="371.0" cy="149.7" r="1.75"/><circle cx="352.1" cy="139.6" r="1.75"/><circle cx="361.6" cy="132.5" r="1.75"/><circle cx="363.2" cy="130.3" r="1.75"/><circle cx="360.0" cy="137.0" r="1.75"/></g>
<path d="M370.9,150.4 L370.3,140.7 L371.9,139.0 L372.8,136.5 L373.8,136.2 L374.7,136.5 L375.6,137.9 L376.6,137.6 L377.5,136.9 L378.4,136.6 L379.4,136.9 L380.3,139.0 L381.9,140.8 L381.4,150.4Z" fill="#cbcbcb"/>
<path d="M386.0,150.4 L385.5,134.9 L387.1,133.1 L388.0,133.4 L389.0,134.0 L389.9,140.3 L390.9,140.0 L391.9,140.3 L392.8,139.7 L393.8,139.2 L394.7,137.6 L395.7,136.7 L396.6,136.4 L397.6,136.7 L398.5,138.1 L399.5,135.7 L400.4,135.4 L401.4,135.7 L402.3,138.3 L403.9,140.1 L403.4,150.4Z" fill="#cbcbcb"/>
<g fill="#cbcbcb"><circle cx="374.1" cy="149.8" r="1.75"/><circle cx="379.7" cy="149.9" r="1.75"/><circle cx="389.3" cy="149.8" r="1.75"/><circle cx="390.7" cy="149.6" r="1.75"/><circle cx="395.1" cy="150.0" r="1.75"/><circle cx="396.8" cy="149.6" r="1.75"/><circle cx="398.4" cy="149.7" r="1.75"/><circle cx="400.6" cy="149.8" r="1.75"/><circle cx="402.1" cy="150.0" r="1.75"/><circle cx="392.7" cy="139.7" r="1.75"/><circle cx="396.4" cy="136.3" r="1.75"/></g>
<path d="M401.3,150.4 L400.8,138.7 L402.3,136.9 L403.3,136.8 L404.2,136.8 L405.1,133.2 L406.1,133.0 L407.0,132.9 L408.0,133.2 L408.9,133.5 L409.8,133.2 L410.8,133.5 L412.3,136.3 L411.8,150.4Z" fill="#9d9d9d"/>
<path d="M410.4,150.4 L409.9,136.5 L411.4,132.0 L412.4,131.7 L413.3,132.0 L414.2,136.0 L415.1,136.3 L416.0,133.7 L416.9,133.4 L417.8,133.7 L418.7,133.0 L419.7,132.8 L420.6,133.0 L421.5,132.3 L422.4,132.0 L423.3,131.7 L424.2,129.9 L425.1,129.7 L426.0,129.9 L427.0,133.2 L427.9,132.9 L428.8,133.2 L429.7,136.1 L430.6,136.4 L431.5,137.0 L433.1,138.7 L432.6,150.4Z" fill="#9d9d9d"/>
<g fill="#9d9d9d"><circle cx="402.2" cy="149.9" r="1.75"/><circle cx="404.3" cy="150.0" r="1.75"/><circle cx="405.9" cy="149.5" r="1.75"/><circle cx="407.6" cy="150.0" r="1.75"/><circle cx="409.8" cy="149.4" r="1.75"/><circle cx="406.4" cy="132.8" r="1.75"/><circle cx="410.1" cy="133.2" r="1.75"/><circle cx="413.6" cy="149.7" r="1.75"/><circle cx="422.2" cy="149.9" r="1.75"/><circle cx="426.1" cy="149.5" r="1.75"/><circle cx="428.1" cy="149.6" r="1.75"/><circle cx="431.7" cy="149.4" r="1.75"/><circle cx="420.8" cy="133.4" r="1.75"/><circle cx="424.1" cy="130.3" r="1.75"/><circle cx="428.3" cy="133.8" r="1.75"/><circle cx="429.9" cy="138.3" r="1.75"/><circle cx="431.7" cy="136.8" r="1.75"/><circle cx="425.6" cy="136.2" r="1.75"/></g>
<path d="M430.5,150.4 L430.0,139.4 L431.5,135.9 L432.5,135.7 L433.4,135.9 L434.3,138.0 L435.2,137.7 L436.1,138.0 L437.1,137.4 L438.0,133.2 L438.9,133.0 L439.8,133.2 L440.8,131.4 L441.7,131.1 L442.6,131.4 L444.2,137.3 L443.7,150.4Z" fill="#cbcbcb"/>
<path d="M442.3,150.4 L441.8,137.8 L443.4,134.9 L444.3,134.6 L445.2,134.9 L446.1,135.8 L447.0,135.6 L447.9,135.8 L448.8,137.3 L449.7,137.0 L450.6,134.4 L451.5,134.1 L452.4,134.4 L453.4,137.8 L454.3,135.4 L455.2,135.2 L456.1,135.4 L457.0,136.2 L457.9,135.8 L458.8,135.2 L459.7,134.3 L460.6,134.0 L462.2,135.8 L461.7,150.4Z" fill="#cbcbcb"/>
<g fill="#cbcbcb"><circle cx="433.3" cy="149.8" r="1.75"/><circle cx="435.0" cy="149.4" r="1.75"/><circle cx="436.7" cy="149.6" r="1.75"/><circle cx="439.1" cy="149.9" r="1.75"/><circle cx="442.2" cy="149.6" r="1.75"/><circle cx="431.4" cy="136.8" r="1.75"/><circle cx="435.1" cy="139.5" r="1.75"/><circle cx="437.4" cy="138.4" r="1.75"/><circle cx="443.1" cy="149.9" r="1.75"/><circle cx="446.9" cy="149.5" r="1.75"/><circle cx="450.9" cy="149.6" r="1.75"/><circle cx="452.3" cy="149.7" r="1.75"/><circle cx="454.6" cy="149.9" r="1.75"/><circle cx="455.8" cy="149.7" r="1.75"/><circle cx="457.6" cy="149.7" r="1.75"/><circle cx="459.3" cy="149.5" r="1.75"/><circle cx="443.3" cy="135.5" r="1.75"/><circle cx="448.4" cy="138.4" r="1.75"/><circle cx="452.2" cy="135.6" r="1.75"/><circle cx="454.4" cy="135.8" r="1.75"/></g>
<path d="M459.6,150.4 L459.0,135.7 L460.6,133.9 L461.5,134.2 L462.5,134.1 L463.4,133.0 L464.4,132.8 L465.3,129.5 L466.2,129.2 L467.2,129.5 L468.1,136.9 L469.7,138.6 L469.2,150.4Z" fill="#9d9d9d"/>
<path d="M467.7,150.4 L467.2,138.1 L468.8,136.3 L469.7,136.6 L470.6,136.0 L471.6,134.4 L472.5,131.7 L473.5,131.4 L474.4,131.7 L475.3,134.3 L476.3,134.8 L477.2,134.5 L478.2,134.5 L479.1,134.8 L480.0,136.4 L481.0,135.3 L481.9,129.3 L482.9,129.1 L483.8,129.3 L484.7,129.2 L485.7,129.5 L486.6,130.8 L487.6,134.3 L488.5,132.2 L489.4,131.9 L491.0,133.7 L490.5,150.4Z" fill="#9d9d9d"/>
<g fill="#9d9d9d"><circle cx="460.4" cy="149.9" r="1.75"/><circle cx="462.6" cy="149.9" r="1.75"/><circle cx="466.2" cy="149.9" r="1.75"/><circle cx="467.8" cy="149.5" r="1.75"/><circle cx="470.6" cy="149.8" r="1.75"/><circle cx="474.7" cy="149.7" r="1.75"/><circle cx="476.3" cy="149.5" r="1.75"/><circle cx="478.2" cy="149.8" r="1.75"/><circle cx="480.4" cy="149.4" r="1.75"/><circle cx="482.3" cy="149.6" r="1.75"/><circle cx="484.2" cy="149.8" r="1.75"/><circle cx="485.8" cy="149.7" r="1.75"/><circle cx="487.5" cy="150.0" r="1.75"/><circle cx="489.8" cy="149.5" r="1.75"/><circle cx="472.2" cy="131.6" r="1.75"/><circle cx="474.7" cy="132.5" r="1.75"/><circle cx="476.4" cy="135.3" r="1.75"/><circle cx="480.2" cy="138.5" r="1.75"/><circle cx="483.9" cy="129.6" r="1.75"/><circle cx="487.8" cy="135.5" r="1.75"/><circle cx="468.9" cy="135.4" r="1.75"/></g>
<path d="M492.6,150.4 L492.0,137.5 L493.6,135.8 L494.5,136.0 L495.5,136.5 L496.4,136.2 L497.4,136.5 L498.3,136.8 L499.2,136.5 L500.2,136.8 L501.1,139.0 L502.1,138.8 L503.0,138.5 L503.9,138.8 L504.9,139.2 L505.8,138.9 L506.8,135.2 L507.7,135.0 L508.6,135.2 L509.6,138.6 L510.5,138.3 L511.4,132.9 L512.4,132.6 L513.3,132.9 L514.3,137.6 L515.8,140.4 L515.3,150.4Z" fill="#cbcbcb"/>
<g fill="#cbcbcb"><circle cx="493.5" cy="149.5" r="1.75"/><circle cx="501.4" cy="150.0" r="1.75"/><circle cx="508.7" cy="149.5" r="1.75"/><circle cx="510.8" cy="149.5" r="1.75"/><circle cx="514.0" cy="149.4" r="1.75"/><circle cx="497.6" cy="137.7" r="1.75"/><circle cx="507.0" cy="135.2" r="1.75"/><circle cx="508.6" cy="135.1" r="1.75"/><circle cx="514.1" cy="139.5" r="1.75"/><circle cx="514.2" cy="137.8" r="1.75"/></g>
<path d="M517.4,150.4 L516.8,137.9 L518.4,135.7 L519.3,134.3 L520.2,134.1 L521.1,134.3 L522.0,132.6 L522.9,132.4 L523.8,132.6 L524.7,135.5 L525.6,135.2 L526.5,132.9 L527.5,132.6 L528.4,127.6 L529.3,127.3 L530.2,127.6 L531.1,131.9 L532.0,132.2 L532.9,136.6 L533.8,136.8 L534.7,133.2 L535.6,133.0 L536.5,133.2 L537.4,136.8 L539.0,139.6 L538.4,150.4Z" fill="#9d9d9d"/>
<g fill="#9d9d9d"><circle cx="521.7" cy="149.6" r="1.75"/><circle cx="524.1" cy="149.4" r="1.75"/><circle cx="525.9" cy="149.8" r="1.75"/><circle cx="529.1" cy="149.6" r="1.75"/><circle cx="531.4" cy="149.9" r="1.75"/><circle cx="521.9" cy="132.2" r="1.75"/><circle cx="526.0" cy="136.0" r="1.75"/><circle cx="529.1" cy="127.7" r="1.75"/><circle cx="532.5" cy="138.7" r="1.75"/><circle cx="536.2" cy="134.1" r="1.75"/><circle cx="527.4" cy="135.4" r="1.75"/></g>
<path d="M540.7,150.4 L540.2,136.0 L541.8,134.3 L542.7,134.5 L543.6,134.8 L544.6,136.1 L545.5,133.1 L546.4,132.8 L547.4,133.1 L548.3,137.3 L549.2,137.0 L550.2,136.9 L551.1,136.3 L552.0,136.0 L553.0,132.4 L553.9,132.2 L554.8,132.4 L555.7,133.5 L556.7,133.8 L557.6,134.5 L558.5,138.1 L559.5,139.3 L561.1,141.2 L560.5,150.4Z" fill="#cbcbcb"/>
<g fill="#cbcbcb"><circle cx="541.9" cy="149.9" r="1.75"/><circle cx="543.9" cy="150.0" r="1.75"/><circle cx="549.6" cy="149.4" r="1.75"/><circle cx="552.6" cy="149.7" r="1.75"/><circle cx="554.5" cy="149.4" r="1.75"/><circle cx="556.6" cy="149.8" r="1.75"/><circle cx="541.7" cy="135.2" r="1.75"/><circle cx="543.7" cy="135.2" r="1.75"/><circle cx="545.5" cy="134.5" r="1.75"/><circle cx="547.5" cy="134.7" r="1.75"/><circle cx="550.8" cy="137.5" r="1.75"/><circle cx="556.4" cy="136.0" r="1.75"/></g>
<path d="M558.4,150.4 L557.9,137.6 L559.5,133.3 L560.4,133.0 L561.4,133.3 L562.3,135.2 L563.3,135.0 L564.2,135.2 L565.2,137.9 L566.1,135.4 L567.1,135.1 L568.7,136.8 L568.1,150.4Z" fill="#9d9d9d"/>
<path d="M568.4,150.4 L567.9,138.5 L569.5,136.7 L570.4,135.9 L571.4,133.3 L572.3,133.1 L573.3,133.3 L574.2,129.7 L575.2,129.1 L576.1,128.8 L577.1,129.1 L578.0,129.7 L578.9,129.5 L580.5,131.3 L580.0,150.4Z" fill="#9d9d9d"/>
<g fill="#9d9d9d"><circle cx="559.3" cy="149.5" r="1.75"/><circle cx="561.1" cy="149.5" r="1.75"/><circle cx="563.0" cy="150.0" r="1.75"/><circle cx="564.9" cy="149.9" r="1.75"/><circle cx="561.0" cy="134.3" r="1.75"/><circle cx="565.2" cy="138.3" r="1.75"/><circle cx="571.6" cy="149.6" r="1.75"/><circle cx="573.2" cy="149.4" r="1.75"/><circle cx="574.9" cy="149.7" r="1.75"/><circle cx="577.5" cy="149.6" r="1.75"/><circle cx="579.2" cy="150.0" r="1.75"/><circle cx="576.8" cy="130.0" r="1.75"/></g>
<path d="M577.9,150.4 L577.4,136.0 L578.9,134.3 L579.9,134.6 L580.9,139.3 L581.8,138.3 L582.8,135.2 L583.7,135.0 L585.3,136.7 L584.8,150.4Z" fill="#cbcbcb"/>
<path d="M583.3,150.4 L582.8,140.3 L584.4,137.6 L585.3,131.0 L586.2,130.8 L587.2,131.0 L588.1,137.8 L589.0,138.8 L589.9,138.4 L590.9,138.1 L591.8,137.1 L592.7,136.8 L593.7,137.1 L594.6,138.2 L595.5,137.5 L596.4,137.2 L598.0,139.0 L597.5,150.4Z" fill="#cbcbcb"/>
<g fill="#cbcbcb"><circle cx="579.1" cy="135.8" r="1.75"/><circle cx="581.2" cy="139.3" r="1.75"/><circle cx="582.5" cy="136.3" r="1.75"/><circle cx="584.4" cy="149.9" r="1.75"/><circle cx="585.8" cy="149.8" r="1.75"/><circle cx="593.5" cy="150.0" r="1.75"/><circle cx="595.5" cy="149.9" r="1.75"/><circle cx="591.5" cy="137.1" r="1.75"/></g>
<path d="M595.4,150.4 L594.9,137.2 L596.4,135.5 L597.5,135.5 L598.7,135.9 L599.8,137.4 L601.3,139.6 L600.8,150.4Z" fill="#9d9d9d"/>
<path d="M599.4,150.4 L598.8,139.2 L600.4,136.4 L601.3,133.1 L602.3,131.9 L603.2,131.7 L604.1,131.9 L605.0,133.1 L605.9,133.1 L606.8,132.8 L607.8,133.1 L608.7,133.7 L609.6,136.3 L610.5,136.6 L611.4,134.3 L612.3,134.0 L613.3,134.3 L614.8,136.4 L614.3,150.4Z" fill="#9d9d9d"/>
<g fill="#9d9d9d"><circle cx="598.8" cy="149.9" r="1.75"/><circle cx="598.7" cy="136.2" r="1.75"/><circle cx="600.4" cy="149.6" r="1.75"/><circle cx="604.2" cy="149.6" r="1.75"/><circle cx="606.3" cy="149.5" r="1.75"/><circle cx="607.8" cy="149.5" r="1.75"/><circle cx="609.8" cy="149.5" r="1.75"/><circle cx="611.3" cy="149.9" r="1.75"/><circle cx="613.1" cy="150.0" r="1.75"/><circle cx="602.4" cy="131.8" r="1.75"/><circle cx="605.7" cy="133.8" r="1.75"/><circle cx="611.5" cy="136.5" r="1.75"/></g>
<path d="M612.2,150.4 L611.7,137.0 L613.3,133.2 L614.3,132.9 L615.4,129.8 L616.4,129.4 L617.5,129.8 L618.5,135.6 L620.1,138.9 L619.6,150.4Z" fill="#cbcbcb"/>
<path d="M618.4,150.4 L617.8,137.2 L619.4,134.3 L620.3,134.0 L621.3,134.3 L622.2,134.0 L623.2,133.7 L624.1,127.7 L625.1,127.4 L626.0,127.7 L627.6,137.2 L627.0,150.4Z" fill="#cbcbcb"/>
<g fill="#cbcbcb"><circle cx="613.5" cy="149.4" r="1.75"/><circle cx="615.5" cy="149.4" r="1.75"/><circle cx="615.5" cy="130.0" r="1.75"/><circle cx="619.8" cy="149.5" r="1.75"/><circle cx="621.0" cy="149.8" r="1.75"/><circle cx="623.5" cy="149.6" r="1.75"/><circle cx="625.2" cy="149.7" r="1.75"/><circle cx="624.7" cy="129.1" r="1.75"/></g>
<path d="M624.9,150.4 L624.4,137.0 L626.0,131.0 L626.9,130.7 L627.9,131.0 L628.8,135.4 L629.8,136.8 L630.7,136.6 L631.7,136.8 L633.2,139.7 L632.7,150.4Z" fill="#9d9d9d"/>
<path d="M631.4,150.4 L630.8,138.4 L632.4,136.6 L633.4,135.4 L634.5,135.0 L635.5,135.4 L636.5,136.2 L637.5,135.8 L638.6,135.5 L639.6,135.8 L641.2,140.0 L640.6,150.4Z" fill="#9d9d9d"/>
<g fill="#9d9d9d"><circle cx="626.4" cy="149.9" r="1.75"/><circle cx="627.6" cy="149.9" r="1.75"/><circle cx="629.5" cy="150.0" r="1.75"/><circle cx="631.4" cy="149.9" r="1.75"/><circle cx="632.6" cy="149.5" r="1.75"/><circle cx="634.2" cy="149.5" r="1.75"/><circle cx="638.8" cy="149.4" r="1.75"/><circle cx="634.2" cy="136.5" r="1.75"/><circle cx="636.2" cy="136.8" r="1.75"/></g>
<path d="M640.7,150.4 L640.2,139.5 L641.7,137.8 L642.6,137.8 L643.6,138.0 L644.5,137.2 L645.4,136.9 L646.3,137.2 L647.2,137.9 L648.1,137.8 L649.0,137.5 L649.9,137.8 L651.5,140.6 L651.0,150.4Z" fill="#cbcbcb"/>
<g fill="#cbcbcb"><circle cx="642.1" cy="149.4" r="1.75"/><circle cx="643.8" cy="149.4" r="1.75"/><circle cx="647.2" cy="149.9" r="1.75"/><circle cx="645.6" cy="138.7" r="1.75"/><circle cx="649.4" cy="137.4" r="1.75"/></g>
<path d="M652.5,150.4 L651.9,139.7 L653.5,135.2 L654.4,134.9 L655.4,135.2 L656.3,138.2 L657.3,138.8 L658.2,138.5 L659.1,137.6 L660.1,137.4 L661.0,137.3 L662.6,139.1 L662.0,150.4Z" fill="#9d9d9d"/>
<g fill="#9d9d9d"><circle cx="655.7" cy="149.9" r="1.75"/><circle cx="656.9" cy="149.7" r="1.75"/><circle cx="658.9" cy="149.4" r="1.75"/><circle cx="660.7" cy="149.7" r="1.75"/><circle cx="655.5" cy="135.5" r="1.75"/><circle cx="656.9" cy="138.5" r="1.75"/><circle cx="658.8" cy="138.0" r="1.75"/></g>
<line x1="39.3" x2="662" y1="128.44" y2="128.44" stroke="#333" stroke-width="1.25" stroke-dasharray="5.3 5.787"/>
<line x1="39.3" x2="662" y1="130.51" y2="130.51" stroke="#333" stroke-width="1.2" stroke-dasharray="1.2 4.3435"/>
<text x="32.8" y="153.70" font-size="10.7" fill="#4d4d4d" text-anchor="end">0</text>
<text x="32.8" y="140.42" font-size="10.7" fill="#4d4d4d" text-anchor="end">5</text>
<text x="32.8" y="127.14" font-size="10.7" fill="#4d4d4d" text-anchor="end">10</text>
<text x="32.8" y="113.86" font-size="10.7" fill="#4d4d4d" text-anchor="end">15</text>
<text x="32.8" y="100.58" font-size="10.7" fill="#4d4d4d" text-anchor="end">20</text>
<text x="32.8" y="87.30" font-size="10.7" fill="#4d4d4d" text-anchor="end">25</text>
<line x1="39.4" x2="662.1" y1="228.54" y2="228.54" stroke="#e8e8e8" stroke-width="1.0"/>
<line x1="39.4" x2="662.1" y1="221.90" y2="221.90" stroke="#f1f1f1" stroke-width="0.8"/>
<line x1="39.4" x2="662.1" y1="215.26" y2="215.26" stroke="#e8e8e8" stroke-width="1.0"/>
<line x1="39.4" x2="662.1" y1="208.62" y2="208.62" stroke="#f1f1f1" stroke-width="0.8"/>
<line x1="39.4" x2="662.1" y1="201.98" y2="201.98" stroke="#e8e8e8" stroke-width="1.0"/>
<line x1="39.4" x2="662.1" y1="195.34" y2="195.34" stroke="#f1f1f1" stroke-width="0.8"/>
<line x1="39.4" x2="662.1" y1="188.70" y2="188.70" stroke="#e8e8e8" stroke-width="1.0"/>
<line x1="39.4" x2="662.1" y1="182.06" y2="182.06" stroke="#f1f1f1" stroke-width="0.8"/>
<line x1="39.4" x2="662.1" y1="175.42" y2="175.42" stroke="#e8e8e8" stroke-width="1.0"/>
<line x1="39.4" x2="662.1" y1="168.78" y2="168.78" stroke="#f1f1f1" stroke-width="0.8"/>
<line x1="39.4" x2="662.1" y1="162.14" y2="162.14" stroke="#e8e8e8" stroke-width="1.0"/>
<path d="M39.2,229.0 L38.7,220.7 L40.3,215.3 L41.2,215.1 L42.1,215.3 L43.0,216.7 L43.9,216.5 L44.8,216.7 L45.7,215.9 L46.6,214.4 L47.5,214.2 L48.4,214.4 L49.3,212.9 L50.2,212.6 L51.1,211.5 L52.0,211.2 L52.9,211.5 L53.8,216.3 L54.7,216.6 L55.6,218.0 L56.5,217.7 L57.5,217.4 L58.4,217.7 L59.3,217.6 L60.2,214.1 L61.1,213.6 L62.0,213.4 L62.9,213.6 L63.8,217.8 L64.7,217.0 L65.6,216.4 L66.5,216.2 L68.1,217.9 L67.5,229.0Z" fill="#cbcbcb"/>
<path d="M70.0,229.0 L69.4,218.8 L71.0,217.1 L71.9,214.7 L72.8,214.5 L73.8,214.7 L74.7,216.6 L75.6,213.1 L76.5,212.9 L77.4,213.1 L78.4,213.8 L79.3,213.5 L80.2,213.8 L81.1,216.8 L82.0,217.0 L83.0,216.9 L83.9,216.6 L84.8,213.9 L85.7,213.7 L86.6,213.9 L87.6,216.6 L88.5,216.9 L89.4,217.9 L90.3,217.7 L91.2,217.9 L92.2,217.9 L93.1,214.6 L94.0,214.4 L95.6,216.1 L95.0,229.0Z" fill="#cbcbcb"/>
<g fill="#cbcbcb"><circle cx="40.4" cy="228.1" r="1.75"/><circle cx="42.5" cy="228.2" r="1.75"/><circle cx="43.7" cy="228.3" r="1.75"/><circle cx="46.1" cy="228.5" r="1.75"/><circle cx="47.2" cy="228.4" r="1.75"/><circle cx="53.0" cy="228.1" r="1.75"/><circle cx="54.8" cy="228.5" r="1.75"/><circle cx="56.9" cy="228.4" r="1.75"/><circle cx="58.1" cy="228.6" r="1.75"/><circle cx="60.1" cy="228.1" r="1.75"/><circle cx="61.9" cy="228.5" r="1.75"/><circle cx="65.5" cy="228.1" r="1.75"/><circle cx="49.5" cy="213.2" r="1.75"/><circle cx="53.2" cy="213.0" r="1.75"/><circle cx="58.2" cy="217.5" r="1.75"/><circle cx="61.8" cy="213.0" r="1.75"/><circle cx="48.9" cy="215.1" r="1.75"/><circle cx="73.1" cy="228.2" r="1.75"/><circle cx="74.8" cy="228.4" r="1.75"/><circle cx="78.4" cy="228.6" r="1.75"/><circle cx="79.9" cy="228.5" r="1.75"/><circle cx="82.2" cy="228.5" r="1.75"/><circle cx="91.1" cy="228.4" r="1.75"/><circle cx="87.2" cy="218.0" r="1.75"/><circle cx="89.3" cy="218.6" r="1.75"/><circle cx="82.9" cy="217.0" r="1.75"/></g>
<path d="M92.9,229.0 L92.4,216.2 L94.0,214.4 L94.9,214.7 L95.8,220.1 L96.7,219.3 L97.6,215.6 L98.5,215.4 L99.4,215.6 L100.3,215.9 L101.2,216.2 L102.1,217.2 L103.0,219.3 L103.9,220.3 L104.8,220.0 L105.7,218.6 L106.7,217.1 L107.6,216.9 L108.5,217.1 L109.4,217.0 L110.3,217.3 L111.2,218.4 L112.1,219.0 L113.0,219.7 L113.9,220.0 L115.5,222.5 L114.9,229.0Z" fill="#9d9d9d"/>
<path d="M113.5,229.0 L113.0,221.3 L114.5,219.3 L115.4,215.7 L116.4,215.4 L117.3,215.7 L118.2,217.6 L119.1,217.4 L120.0,217.6 L120.9,218.3 L121.8,218.5 L122.7,218.2 L123.6,216.0 L124.5,215.7 L125.5,216.0 L126.4,215.0 L127.3,214.8 L128.2,215.0 L129.1,218.5 L130.0,218.7 L130.9,218.9 L131.8,217.9 L132.7,217.7 L133.6,217.9 L134.6,217.6 L135.5,216.2 L136.4,215.1 L137.3,214.8 L138.2,214.9 L139.1,214.6 L140.0,214.9 L140.9,215.6 L141.8,217.4 L142.8,219.1 L143.7,218.1 L144.6,217.9 L145.5,218.1 L146.4,219.4 L148.0,221.4 L147.4,229.0Z" fill="#9d9d9d"/>
<g fill="#9d9d9d"><circle cx="95.4" cy="228.1" r="1.75"/><circle cx="99.3" cy="228.1" r="1.75"/><circle cx="101.5" cy="228.3" r="1.75"/><circle cx="104.5" cy="228.1" r="1.75"/><circle cx="106.7" cy="228.4" r="1.75"/><circle cx="110.2" cy="228.4" r="1.75"/><circle cx="111.9" cy="228.5" r="1.75"/><circle cx="93.8" cy="214.5" r="1.75"/><circle cx="99.7" cy="215.3" r="1.75"/><circle cx="102.4" cy="216.8" r="1.75"/><circle cx="114.4" cy="228.6" r="1.75"/><circle cx="116.1" cy="228.3" r="1.75"/><circle cx="118.0" cy="228.4" r="1.75"/><circle cx="121.9" cy="228.6" r="1.75"/><circle cx="125.4" cy="228.5" r="1.75"/><circle cx="129.4" cy="228.2" r="1.75"/><circle cx="130.7" cy="228.2" r="1.75"/><circle cx="134.4" cy="228.1" r="1.75"/><circle cx="136.4" cy="228.2" r="1.75"/><circle cx="141.9" cy="228.4" r="1.75"/><circle cx="143.6" cy="228.1" r="1.75"/><circle cx="145.2" cy="228.2" r="1.75"/><circle cx="114.3" cy="220.9" r="1.75"/><circle cx="118.4" cy="217.2" r="1.75"/><circle cx="119.9" cy="218.1" r="1.75"/><circle cx="121.5" cy="219.6" r="1.75"/><circle cx="123.6" cy="216.1" r="1.75"/><circle cx="129.3" cy="219.7" r="1.75"/><circle cx="137.9" cy="215.0" r="1.75"/><circle cx="143.5" cy="220.1" r="1.75"/><circle cx="130.8" cy="216.0" r="1.75"/></g>
<path d="M145.3,229.0 L144.8,221.5 L146.4,215.9 L147.3,215.4 L148.3,215.1 L149.2,214.5 L150.1,214.2 L151.0,214.5 L152.0,215.0 L152.9,214.7 L153.8,215.0 L154.8,219.5 L155.7,217.7 L156.6,217.4 L157.5,217.7 L158.5,218.4 L159.4,217.9 L160.3,212.9 L161.3,212.6 L162.2,212.9 L163.1,213.2 L164.0,212.4 L165.0,212.1 L165.9,212.4 L167.5,214.4 L166.9,229.0Z" fill="#cbcbcb"/>
<path d="M165.5,229.0 L165.0,219.1 L166.6,217.4 L167.5,216.2 L168.5,215.9 L169.4,216.2 L170.3,217.8 L171.3,214.9 L172.2,214.6 L173.1,214.9 L174.1,216.6 L175.0,215.2 L175.9,215.0 L176.9,215.2 L177.8,216.8 L178.8,218.0 L179.7,218.3 L180.6,218.7 L181.6,218.5 L182.5,218.7 L183.4,218.8 L184.4,219.0 L185.3,217.3 L186.2,217.1 L187.2,216.8 L188.1,215.9 L189.1,215.6 L190.6,217.4 L190.1,229.0Z" fill="#cbcbcb"/>
<g fill="#cbcbcb"><circle cx="148.6" cy="228.1" r="1.75"/><circle cx="153.9" cy="228.3" r="1.75"/><circle cx="159.0" cy="228.3" r="1.75"/><circle cx="161.3" cy="228.1" r="1.75"/><circle cx="162.9" cy="228.1" r="1.75"/><circle cx="165.3" cy="228.1" r="1.75"/><circle cx="151.7" cy="215.8" r="1.75"/><circle cx="153.8" cy="217.0" r="1.75"/><circle cx="161.1" cy="214.4" r="1.75"/><circle cx="165.2" cy="211.8" r="1.75"/><circle cx="155.0" cy="215.5" r="1.75"/><circle cx="166.2" cy="228.2" r="1.75"/><circle cx="168.5" cy="228.5" r="1.75"/><circle cx="170.1" cy="228.1" r="1.75"/><circle cx="172.2" cy="228.4" r="1.75"/><circle cx="175.7" cy="228.1" r="1.75"/><circle cx="178.0" cy="228.5" r="1.75"/><circle cx="179.7" cy="228.2" r="1.75"/><circle cx="183.7" cy="228.3" r="1.75"/><circle cx="185.5" cy="228.4" r="1.75"/><circle cx="186.9" cy="228.6" r="1.75"/><circle cx="179.7" cy="218.8" r="1.75"/><circle cx="185.3" cy="218.6" r="1.75"/><circle cx="170.7" cy="217.9" r="1.75"/></g>
<path d="M188.0,229.0 L187.5,220.2 L189.1,218.5 L190.0,217.2 L191.0,216.9 L192.0,216.2 L192.9,215.3 L193.9,215.0 L194.9,215.3 L195.9,215.2 L196.8,214.5 L197.8,214.2 L198.8,214.5 L199.7,215.8 L201.3,219.9 L200.8,229.0Z" fill="#9d9d9d"/>
<path d="M199.3,229.0 L198.8,219.6 L200.4,217.9 L201.3,217.9 L202.2,217.4 L203.1,217.1 L204.0,214.5 L204.9,213.4 L205.8,213.1 L206.7,213.4 L207.6,214.1 L208.5,214.8 L209.4,213.6 L210.3,213.3 L211.2,213.6 L212.1,214.8 L213.1,215.4 L214.0,215.1 L214.9,215.4 L215.8,218.5 L216.7,217.9 L217.6,217.7 L218.5,217.9 L219.4,217.8 L220.3,217.5 L221.2,217.4 L222.1,217.7 L223.0,217.6 L223.9,217.3 L224.8,214.0 L225.7,212.5 L226.6,212.2 L227.5,212.2 L228.4,212.5 L229.3,217.6 L230.2,217.3 L231.8,219.1 L231.3,229.0Z" fill="#9d9d9d"/>
<g fill="#9d9d9d"><circle cx="188.8" cy="228.4" r="1.75"/><circle cx="190.7" cy="228.1" r="1.75"/><circle cx="197.1" cy="228.2" r="1.75"/><circle cx="191.2" cy="217.5" r="1.75"/><circle cx="196.8" cy="216.0" r="1.75"/><circle cx="200.3" cy="228.2" r="1.75"/><circle cx="201.9" cy="228.4" r="1.75"/><circle cx="203.8" cy="228.1" r="1.75"/><circle cx="207.4" cy="228.2" r="1.75"/><circle cx="209.4" cy="228.1" r="1.75"/><circle cx="212.8" cy="228.1" r="1.75"/><circle cx="214.8" cy="228.5" r="1.75"/><circle cx="220.6" cy="228.3" r="1.75"/><circle cx="224.1" cy="228.2" r="1.75"/><circle cx="225.8" cy="228.1" r="1.75"/><circle cx="227.4" cy="228.6" r="1.75"/><circle cx="229.6" cy="228.2" r="1.75"/><circle cx="202.0" cy="219.3" r="1.75"/><circle cx="208.0" cy="215.3" r="1.75"/><circle cx="211.1" cy="214.6" r="1.75"/><circle cx="218.2" cy="219.4" r="1.75"/><circle cx="220.6" cy="217.6" r="1.75"/><circle cx="221.8" cy="217.5" r="1.75"/><circle cx="224.0" cy="218.7" r="1.75"/><circle cx="225.4" cy="213.6" r="1.75"/><circle cx="229.2" cy="218.8" r="1.75"/><circle cx="206.4" cy="215.7" r="1.75"/></g>
<path d="M229.2,229.0 L228.7,219.0 L230.2,215.4 L231.1,215.2 L232.1,215.4 L233.0,216.0 L233.9,217.1 L234.8,217.9 L235.7,218.2 L236.6,218.4 L237.5,218.1 L238.4,218.4 L239.3,218.5 L240.2,218.3 L241.8,220.0 L241.3,229.0Z" fill="#cbcbcb"/>
<path d="M239.8,229.0 L239.3,216.4 L240.9,214.7 L241.8,214.9 L242.7,218.0 L243.6,217.7 L244.5,217.4 L245.5,217.2 L246.4,217.4 L247.3,216.8 L248.2,216.2 L249.1,215.9 L250.0,216.2 L250.9,213.8 L251.9,213.6 L252.8,213.8 L253.7,218.8 L254.6,216.7 L255.5,213.1 L256.4,212.9 L257.3,213.0 L258.2,213.2 L259.2,216.3 L260.1,216.1 L261.0,216.3 L261.9,216.2 L262.8,216.5 L263.7,217.8 L264.6,217.5 L265.6,217.8 L266.5,217.5 L267.4,217.8 L268.3,217.4 L269.2,217.2 L270.8,218.9 L270.3,229.0Z" fill="#cbcbcb"/>
<g fill="#cbcbcb"><circle cx="230.2" cy="228.1" r="1.75"/><circle cx="231.8" cy="228.1" r="1.75"/><circle cx="237.3" cy="228.4" r="1.75"/><circle cx="239.2" cy="220.5" r="1.75"/><circle cx="240.6" cy="228.4" r="1.75"/><circle cx="246.5" cy="228.5" r="1.75"/><circle cx="250.3" cy="228.1" r="1.75"/><circle cx="253.5" cy="228.6" r="1.75"/><circle cx="255.3" cy="228.6" r="1.75"/><circle cx="257.5" cy="228.1" r="1.75"/><circle cx="259.5" cy="228.4" r="1.75"/><circle cx="261.2" cy="228.1" r="1.75"/><circle cx="263.0" cy="228.5" r="1.75"/><circle cx="268.5" cy="228.1" r="1.75"/><circle cx="244.9" cy="218.4" r="1.75"/><circle cx="249.9" cy="218.2" r="1.75"/><circle cx="257.4" cy="214.5" r="1.75"/><circle cx="258.9" cy="216.6" r="1.75"/><circle cx="261.0" cy="216.3" r="1.75"/><circle cx="268.5" cy="218.8" r="1.75"/><circle cx="260.1" cy="217.6" r="1.75"/></g>
<path d="M268.2,229.0 L267.6,219.5 L269.2,216.5 L270.1,216.2 L271.0,216.5 L271.9,213.9 L272.8,213.6 L273.7,213.9 L274.6,213.9 L275.6,213.6 L276.5,213.9 L277.4,214.1 L278.3,213.5 L279.2,213.2 L280.1,213.5 L281.0,217.6 L281.9,217.9 L283.5,219.6 L282.9,229.0Z" fill="#9d9d9d"/>
<path d="M281.5,229.0 L281.0,219.5 L282.5,217.8 L283.4,218.0 L284.3,213.3 L285.2,213.1 L286.2,213.3 L287.1,217.6 L288.0,217.8 L288.9,218.2 L289.8,214.9 L290.7,214.6 L291.6,214.9 L292.5,215.9 L293.4,216.1 L294.3,217.6 L295.2,217.4 L296.1,217.6 L297.0,218.8 L297.9,215.8 L298.8,215.6 L299.7,215.8 L300.6,215.2 L301.6,214.9 L302.5,215.2 L303.4,215.7 L304.3,215.4 L305.2,215.7 L306.1,215.7 L307.7,217.5 L307.1,229.0Z" fill="#9d9d9d"/>
<g fill="#9d9d9d"><circle cx="269.4" cy="228.1" r="1.75"/><circle cx="270.9" cy="228.1" r="1.75"/><circle cx="276.4" cy="228.3" r="1.75"/><circle cx="278.5" cy="228.2" r="1.75"/><circle cx="279.9" cy="228.2" r="1.75"/><circle cx="269.3" cy="218.2" r="1.75"/><circle cx="272.6" cy="213.7" r="1.75"/><circle cx="282.4" cy="228.5" r="1.75"/><circle cx="284.5" cy="228.5" r="1.75"/><circle cx="286.1" cy="228.3" r="1.75"/><circle cx="291.4" cy="228.3" r="1.75"/><circle cx="295.1" cy="228.4" r="1.75"/><circle cx="297.3" cy="228.4" r="1.75"/><circle cx="302.6" cy="228.5" r="1.75"/><circle cx="284.2" cy="214.5" r="1.75"/><circle cx="285.8" cy="214.7" r="1.75"/><circle cx="295.0" cy="217.6" r="1.75"/><circle cx="300.3" cy="215.9" r="1.75"/><circle cx="302.2" cy="216.3" r="1.75"/><circle cx="302.0" cy="216.9" r="1.75"/></g>
<path d="M305.0,229.0 L304.5,221.3 L306.1,219.5 L307.0,219.8 L308.0,219.0 L309.0,218.7 L309.9,219.0 L310.9,218.9 L311.9,216.2 L312.8,215.9 L313.8,216.2 L314.7,217.5 L315.7,217.8 L316.7,217.7 L317.6,218.0 L318.6,218.6 L320.2,221.5 L319.6,229.0Z" fill="#cbcbcb"/>
<path d="M318.3,229.0 L317.8,220.0 L319.4,218.2 L320.3,218.5 L321.2,219.0 L322.1,219.3 L323.0,219.3 L323.9,211.8 L324.9,211.5 L325.8,211.8 L326.7,219.8 L327.6,219.9 L328.5,219.8 L329.4,219.3 L330.3,219.0 L331.2,219.3 L332.2,216.4 L333.1,216.1 L334.0,216.4 L334.9,219.5 L335.8,219.1 L336.7,217.0 L337.6,216.8 L338.5,217.0 L339.5,217.4 L340.4,217.7 L341.9,221.4 L341.4,229.0Z" fill="#cbcbcb"/>
<g fill="#cbcbcb"><circle cx="307.8" cy="228.6" r="1.75"/><circle cx="310.2" cy="228.6" r="1.75"/><circle cx="311.8" cy="228.1" r="1.75"/><circle cx="315.5" cy="228.6" r="1.75"/><circle cx="317.4" cy="228.2" r="1.75"/><circle cx="306.4" cy="220.1" r="1.75"/><circle cx="308.3" cy="219.9" r="1.75"/><circle cx="309.8" cy="219.3" r="1.75"/><circle cx="317.3" cy="217.9" r="1.75"/><circle cx="319.3" cy="228.4" r="1.75"/><circle cx="324.7" cy="228.3" r="1.75"/><circle cx="330.4" cy="228.1" r="1.75"/><circle cx="332.0" cy="228.5" r="1.75"/><circle cx="337.9" cy="228.5" r="1.75"/><circle cx="339.8" cy="228.2" r="1.75"/><circle cx="319.1" cy="218.9" r="1.75"/><circle cx="326.9" cy="219.4" r="1.75"/><circle cx="330.1" cy="221.2" r="1.75"/><circle cx="332.2" cy="216.2" r="1.75"/><circle cx="335.7" cy="219.8" r="1.75"/><circle cx="327.0" cy="217.2" r="1.75"/></g>
<path d="M339.3,229.0 L338.8,220.1 L340.4,216.3 L341.3,216.1 L342.3,213.9 L343.2,213.6 L344.1,213.9 L345.1,216.8 L346.0,216.4 L347.0,214.0 L347.9,213.7 L348.9,214.0 L349.8,217.0 L351.4,218.7 L350.9,229.0Z" fill="#9d9d9d"/>
<path d="M349.4,229.0 L348.9,220.2 L350.5,218.4 L351.4,218.7 L352.3,218.8 L353.2,218.4 L354.2,217.4 L355.1,217.2 L356.0,217.4 L357.0,218.0 L357.9,213.0 L358.8,212.7 L359.8,213.0 L360.7,213.9 L361.6,212.5 L362.6,212.2 L363.5,212.5 L364.4,213.4 L365.4,214.3 L366.3,212.4 L367.2,212.1 L368.2,212.4 L369.1,217.5 L370.0,217.2 L371.0,217.1 L371.9,217.3 L373.5,219.1 L373.0,229.0Z" fill="#9d9d9d"/>
<g fill="#9d9d9d"><circle cx="340.4" cy="228.4" r="1.75"/><circle cx="345.7" cy="228.2" r="1.75"/><circle cx="347.8" cy="228.2" r="1.75"/><circle cx="349.9" cy="228.1" r="1.75"/><circle cx="342.4" cy="214.4" r="1.75"/><circle cx="352.5" cy="228.3" r="1.75"/><circle cx="359.7" cy="228.1" r="1.75"/><circle cx="362.0" cy="228.3" r="1.75"/><circle cx="363.9" cy="228.4" r="1.75"/><circle cx="365.1" cy="228.6" r="1.75"/><circle cx="367.6" cy="228.1" r="1.75"/><circle cx="370.8" cy="228.3" r="1.75"/><circle cx="350.7" cy="218.7" r="1.75"/><circle cx="356.1" cy="217.1" r="1.75"/><circle cx="365.2" cy="214.7" r="1.75"/><circle cx="366.8" cy="211.7" r="1.75"/><circle cx="367.5" cy="216.1" r="1.75"/></g>
<path d="M370.9,229.0 L370.3,217.5 L371.9,215.0 L372.8,214.8 L373.8,215.0 L374.7,216.2 L375.6,217.2 L376.6,216.9 L377.5,217.2 L378.4,217.7 L379.4,217.6 L380.3,217.9 L381.9,220.0 L381.4,229.0Z" fill="#cbcbcb"/>
<path d="M386.0,229.0 L385.5,221.5 L387.1,219.0 L388.0,218.1 L389.0,217.0 L389.9,216.7 L390.9,217.0 L391.9,217.9 L392.8,218.3 L393.8,218.0 L394.7,217.0 L395.7,214.9 L396.6,214.7 L397.6,214.9 L398.5,217.8 L399.5,217.2 L400.4,209.1 L401.4,208.8 L402.3,209.1 L403.9,216.0 L403.4,229.0Z" fill="#cbcbcb"/>
<g fill="#cbcbcb"><circle cx="373.5" cy="228.4" r="1.75"/><circle cx="377.7" cy="228.2" r="1.75"/><circle cx="379.7" cy="228.6" r="1.75"/><circle cx="377.6" cy="217.3" r="1.75"/><circle cx="389.4" cy="228.2" r="1.75"/><circle cx="391.0" cy="228.4" r="1.75"/><circle cx="392.6" cy="228.5" r="1.75"/><circle cx="395.1" cy="228.4" r="1.75"/><circle cx="396.8" cy="228.1" r="1.75"/><circle cx="402.4" cy="228.2" r="1.75"/><circle cx="391.1" cy="216.7" r="1.75"/><circle cx="396.6" cy="215.6" r="1.75"/><circle cx="402.7" cy="211.2" r="1.75"/></g>
<path d="M401.3,229.0 L400.8,220.2 L402.3,215.7 L403.3,215.4 L404.2,215.7 L405.1,218.3 L406.1,218.2 L407.0,218.0 L408.0,216.5 L408.9,216.2 L409.8,216.5 L410.8,218.8 L412.3,221.1 L411.8,229.0Z" fill="#9d9d9d"/>
<path d="M410.4,229.0 L409.9,221.5 L411.4,219.8 L412.4,220.0 L413.3,218.4 L414.2,215.0 L415.1,214.7 L416.0,214.9 L416.9,214.7 L417.8,214.9 L418.7,215.6 L419.7,215.4 L420.6,215.0 L421.5,210.7 L422.4,210.4 L423.3,210.7 L424.2,212.0 L425.1,211.9 L426.0,211.7 L427.0,211.9 L427.9,213.1 L428.8,218.4 L429.7,218.1 L430.6,217.8 L431.5,218.1 L433.1,219.9 L432.6,229.0Z" fill="#9d9d9d"/>
<g fill="#9d9d9d"><circle cx="402.0" cy="228.4" r="1.75"/><circle cx="404.4" cy="228.4" r="1.75"/><circle cx="406.3" cy="228.2" r="1.75"/><circle cx="408.2" cy="228.3" r="1.75"/><circle cx="410.1" cy="228.1" r="1.75"/><circle cx="402.2" cy="216.9" r="1.75"/><circle cx="404.2" cy="217.4" r="1.75"/><circle cx="413.3" cy="228.1" r="1.75"/><circle cx="420.4" cy="228.5" r="1.75"/><circle cx="422.2" cy="228.3" r="1.75"/><circle cx="425.9" cy="228.5" r="1.75"/><circle cx="430.0" cy="228.2" r="1.75"/><circle cx="431.5" cy="228.1" r="1.75"/><circle cx="413.5" cy="220.2" r="1.75"/><circle cx="415.3" cy="214.7" r="1.75"/><circle cx="422.3" cy="210.1" r="1.75"/><circle cx="426.1" cy="212.7" r="1.75"/><circle cx="429.7" cy="220.1" r="1.75"/><circle cx="428.4" cy="216.7" r="1.75"/></g>
<path d="M430.5,229.0 L430.0,219.7 L431.5,217.9 L432.5,218.0 L433.4,218.3 L434.3,218.2 L435.2,216.5 L436.1,216.2 L437.1,216.5 L438.0,218.1 L438.9,216.7 L439.8,215.2 L440.8,214.8 L441.7,212.5 L442.6,212.2 L444.2,214.0 L443.7,229.0Z" fill="#cbcbcb"/>
<path d="M442.3,229.0 L441.8,216.2 L443.4,214.4 L444.3,214.7 L445.2,215.8 L446.1,215.5 L447.0,215.4 L447.9,214.0 L448.8,213.8 L449.7,213.4 L450.6,212.3 L451.5,212.0 L452.4,212.3 L453.4,213.5 L454.3,217.6 L455.2,217.4 L456.1,217.4 L457.0,217.3 L457.9,217.6 L458.8,218.3 L459.7,217.4 L460.6,217.2 L462.2,218.9 L461.7,229.0Z" fill="#cbcbcb"/>
<g fill="#cbcbcb"><circle cx="435.6" cy="228.2" r="1.75"/><circle cx="439.1" cy="228.1" r="1.75"/><circle cx="443.2" cy="228.2" r="1.75"/><circle cx="452.7" cy="228.1" r="1.75"/><circle cx="457.9" cy="228.3" r="1.75"/><circle cx="444.9" cy="216.5" r="1.75"/><circle cx="459.8" cy="219.0" r="1.75"/></g>
<path d="M459.6,229.0 L459.0,218.0 L460.6,216.2 L461.5,216.5 L462.5,217.1 L463.4,218.2 L464.4,218.8 L465.3,217.2 L466.2,216.3 L467.2,216.1 L468.1,216.3 L469.7,218.4 L469.2,229.0Z" fill="#9d9d9d"/>
<path d="M467.7,229.0 L467.2,220.5 L468.8,218.7 L469.7,216.5 L470.6,214.2 L471.6,213.9 L472.5,212.0 L473.5,211.7 L474.4,212.0 L475.3,215.4 L476.3,215.1 L477.2,214.9 L478.2,215.2 L479.1,218.6 L480.0,218.5 L481.0,216.8 L481.9,214.6 L482.9,213.8 L483.8,213.5 L484.7,213.8 L485.7,212.7 L486.6,212.4 L487.6,212.7 L488.5,217.7 L489.4,218.0 L491.0,221.2 L490.5,229.0Z" fill="#9d9d9d"/>
<g fill="#9d9d9d"><circle cx="460.7" cy="228.2" r="1.75"/><circle cx="462.5" cy="228.4" r="1.75"/><circle cx="466.3" cy="228.2" r="1.75"/><circle cx="468.3" cy="228.4" r="1.75"/><circle cx="460.4" cy="216.1" r="1.75"/><circle cx="466.3" cy="215.9" r="1.75"/><circle cx="468.6" cy="228.3" r="1.75"/><circle cx="470.8" cy="228.2" r="1.75"/><circle cx="479.7" cy="228.2" r="1.75"/><circle cx="482.0" cy="228.3" r="1.75"/><circle cx="484.1" cy="228.2" r="1.75"/><circle cx="485.7" cy="228.2" r="1.75"/><circle cx="487.5" cy="228.2" r="1.75"/><circle cx="469.1" cy="218.8" r="1.75"/><circle cx="472.4" cy="211.8" r="1.75"/><circle cx="474.3" cy="212.9" r="1.75"/><circle cx="483.8" cy="213.4" r="1.75"/><circle cx="486.1" cy="218.5" r="1.75"/></g>
<path d="M492.6,229.0 L492.0,221.8 L493.6,218.8 L494.5,218.5 L495.5,218.8 L496.4,218.1 L497.4,217.8 L498.3,217.3 L499.2,217.0 L500.2,217.3 L501.1,218.0 L502.1,215.5 L503.0,215.3 L503.9,215.5 L504.9,216.6 L505.8,214.1 L506.8,213.8 L507.7,214.1 L508.6,216.1 L509.6,214.6 L510.5,214.4 L511.4,214.6 L512.4,215.6 L513.3,215.9 L514.3,219.0 L515.8,220.7 L515.3,229.0Z" fill="#cbcbcb"/>
<g fill="#cbcbcb"><circle cx="497.3" cy="228.3" r="1.75"/><circle cx="500.7" cy="228.2" r="1.75"/><circle cx="507.1" cy="228.4" r="1.75"/><circle cx="508.8" cy="228.5" r="1.75"/><circle cx="512.2" cy="228.5" r="1.75"/><circle cx="514.3" cy="228.6" r="1.75"/><circle cx="500.7" cy="219.7" r="1.75"/><circle cx="503.3" cy="217.1" r="1.75"/><circle cx="506.9" cy="213.8" r="1.75"/><circle cx="514.3" cy="220.3" r="1.75"/><circle cx="496.4" cy="217.2" r="1.75"/></g>
<path d="M517.4,229.0 L516.8,217.4 L518.4,215.6 L519.3,215.9 L520.2,218.0 L521.1,217.7 L522.0,218.0 L522.9,218.3 L523.8,217.7 L524.7,216.8 L525.6,214.6 L526.5,214.3 L527.5,214.6 L528.4,212.7 L529.3,212.4 L530.2,212.5 L531.1,212.2 L532.0,212.5 L532.9,215.2 L533.8,214.8 L534.7,214.6 L535.6,214.8 L536.5,218.3 L537.4,218.6 L539.0,222.2 L538.4,229.0Z" fill="#9d9d9d"/>
<g fill="#9d9d9d"><circle cx="518.1" cy="228.2" r="1.75"/><circle cx="520.2" cy="228.2" r="1.75"/><circle cx="522.4" cy="228.5" r="1.75"/><circle cx="526.0" cy="228.4" r="1.75"/><circle cx="527.4" cy="228.4" r="1.75"/><circle cx="528.9" cy="228.5" r="1.75"/><circle cx="531.5" cy="228.5" r="1.75"/><circle cx="532.8" cy="228.2" r="1.75"/><circle cx="525.9" cy="214.8" r="1.75"/><circle cx="527.6" cy="214.2" r="1.75"/><circle cx="533.1" cy="217.4" r="1.75"/><circle cx="537.2" cy="216.3" r="1.75"/></g>
<path d="M540.7,229.0 L540.2,222.6 L541.8,219.2 L542.7,218.9 L543.6,219.2 L544.6,219.7 L545.5,219.6 L546.4,218.6 L547.4,217.3 L548.3,216.1 L549.2,215.8 L550.2,216.1 L551.1,217.1 L552.0,216.2 L553.0,216.0 L553.9,216.2 L554.8,217.5 L555.7,217.2 L556.7,217.5 L557.6,218.1 L558.5,219.3 L559.5,220.1 L561.1,221.8 L560.5,229.0Z" fill="#cbcbcb"/>
<g fill="#cbcbcb"><circle cx="541.8" cy="228.3" r="1.75"/><circle cx="543.8" cy="228.3" r="1.75"/><circle cx="547.0" cy="228.2" r="1.75"/><circle cx="549.5" cy="228.5" r="1.75"/><circle cx="550.8" cy="228.2" r="1.75"/><circle cx="552.7" cy="228.6" r="1.75"/><circle cx="555.0" cy="228.3" r="1.75"/><circle cx="545.6" cy="220.0" r="1.75"/><circle cx="552.8" cy="216.4" r="1.75"/><circle cx="555.0" cy="219.4" r="1.75"/><circle cx="557.1" cy="218.0" r="1.75"/><circle cx="558.5" cy="219.7" r="1.75"/></g>
<path d="M558.4,229.0 L557.9,221.8 L559.5,219.9 L560.4,219.6 L561.4,213.0 L562.3,212.8 L563.3,213.0 L564.2,218.2 L565.2,214.5 L566.1,214.3 L567.1,214.5 L568.7,222.2 L568.1,229.0Z" fill="#9d9d9d"/>
<path d="M568.4,229.0 L567.9,221.2 L569.5,219.5 L570.4,219.6 L571.4,218.5 L572.3,217.2 L573.3,216.9 L574.2,217.2 L575.2,216.3 L576.1,214.8 L577.1,212.8 L578.0,212.5 L578.9,212.8 L580.5,218.4 L580.0,229.0Z" fill="#9d9d9d"/>
<g fill="#9d9d9d"><circle cx="561.5" cy="228.1" r="1.75"/><circle cx="565.2" cy="228.2" r="1.75"/><circle cx="567.0" cy="228.6" r="1.75"/><circle cx="561.3" cy="213.8" r="1.75"/><circle cx="563.0" cy="215.3" r="1.75"/><circle cx="569.6" cy="228.6" r="1.75"/><circle cx="571.6" cy="228.4" r="1.75"/><circle cx="575.3" cy="228.4" r="1.75"/><circle cx="577.2" cy="228.1" r="1.75"/><circle cx="573.2" cy="216.6" r="1.75"/></g>
<path d="M577.9,229.0 L577.4,220.4 L578.9,218.7 L579.9,214.8 L580.9,214.5 L581.8,214.8 L582.8,215.0 L583.7,215.3 L585.3,220.4 L584.8,229.0Z" fill="#cbcbcb"/>
<path d="M583.3,229.0 L582.8,220.0 L584.4,216.0 L585.3,215.7 L586.2,216.0 L587.2,216.8 L588.1,213.8 L589.0,213.5 L589.9,213.8 L590.9,216.8 L591.8,216.5 L592.7,216.8 L593.7,215.3 L594.6,214.6 L595.5,213.1 L596.4,212.8 L598.0,214.5 L597.5,229.0Z" fill="#cbcbcb"/>
<g fill="#cbcbcb"><circle cx="581.0" cy="228.2" r="1.75"/><circle cx="583.1" cy="228.0" r="1.75"/><circle cx="586.1" cy="228.3" r="1.75"/><circle cx="588.0" cy="228.1" r="1.75"/><circle cx="592.2" cy="228.4" r="1.75"/><circle cx="594.0" cy="228.6" r="1.75"/><circle cx="595.4" cy="228.6" r="1.75"/><circle cx="587.7" cy="214.6" r="1.75"/><circle cx="590.3" cy="215.2" r="1.75"/><circle cx="591.4" cy="218.4" r="1.75"/></g>
<path d="M595.4,229.0 L594.9,218.9 L596.4,217.2 L597.5,216.4 L598.7,216.0 L599.8,216.4 L601.3,222.0 L600.8,229.0Z" fill="#9d9d9d"/>
<path d="M599.4,229.0 L598.8,222.4 L600.4,220.7 L601.3,220.7 L602.3,220.6 L603.2,219.4 L604.1,219.1 L605.0,219.4 L605.9,219.7 L606.8,217.0 L607.8,216.8 L608.7,217.0 L609.6,217.7 L610.5,218.2 L611.4,218.5 L612.3,212.1 L613.3,211.9 L614.8,213.6 L614.3,229.0Z" fill="#9d9d9d"/>
<g fill="#9d9d9d"><circle cx="598.5" cy="228.1" r="1.75"/><circle cx="596.6" cy="217.7" r="1.75"/><circle cx="598.8" cy="217.1" r="1.75"/><circle cx="600.4" cy="228.1" r="1.75"/><circle cx="603.8" cy="228.0" r="1.75"/><circle cx="605.7" cy="228.2" r="1.75"/><circle cx="607.6" cy="228.5" r="1.75"/><circle cx="609.4" cy="228.5" r="1.75"/><circle cx="611.8" cy="228.4" r="1.75"/><circle cx="602.4" cy="222.7" r="1.75"/><circle cx="609.6" cy="218.4" r="1.75"/><circle cx="611.6" cy="218.5" r="1.75"/></g>
<path d="M612.2,229.0 L611.7,217.9 L613.3,216.1 L614.3,216.5 L615.4,218.7 L616.4,215.8 L617.5,215.5 L618.5,215.8 L620.1,220.3 L619.6,229.0Z" fill="#cbcbcb"/>
<path d="M618.4,229.0 L617.8,219.4 L619.4,213.4 L620.3,213.1 L621.3,211.8 L622.2,211.5 L623.2,211.8 L624.1,214.1 L625.1,215.5 L626.0,217.9 L627.6,220.6 L627.0,229.0Z" fill="#cbcbcb"/>
<g fill="#cbcbcb"><circle cx="615.0" cy="228.4" r="1.75"/><circle cx="613.4" cy="216.1" r="1.75"/><circle cx="621.6" cy="228.6" r="1.75"/><circle cx="622.8" cy="228.4" r="1.75"/><circle cx="624.7" cy="228.6" r="1.75"/><circle cx="621.6" cy="212.3" r="1.75"/></g>
<path d="M624.9,229.0 L624.4,221.3 L626.0,219.3 L626.9,219.1 L627.9,218.9 L628.8,216.9 L629.8,216.6 L630.7,216.9 L631.7,218.1 L633.2,220.7 L632.7,229.0Z" fill="#9d9d9d"/>
<path d="M631.4,229.0 L630.8,221.2 L632.4,219.4 L633.4,215.6 L634.5,215.3 L635.5,215.6 L636.5,216.5 L637.5,216.9 L638.6,216.6 L639.6,216.9 L641.2,219.3 L640.6,229.0Z" fill="#9d9d9d"/>
<g fill="#9d9d9d"><circle cx="626.3" cy="228.2" r="1.75"/><circle cx="631.5" cy="228.5" r="1.75"/><circle cx="627.8" cy="219.1" r="1.75"/><circle cx="629.5" cy="218.6" r="1.75"/><circle cx="634.2" cy="228.3" r="1.75"/><circle cx="636.7" cy="228.1" r="1.75"/></g>
<path d="M640.7,229.0 L640.2,221.7 L641.7,215.7 L642.6,215.4 L643.6,215.7 L644.5,219.0 L645.4,218.6 L646.3,217.7 L647.2,217.5 L648.1,217.3 L649.0,217.0 L649.9,216.8 L651.5,218.5 L651.0,229.0Z" fill="#cbcbcb"/>
<g fill="#cbcbcb"><circle cx="647.0" cy="228.1" r="1.75"/><circle cx="648.7" cy="228.4" r="1.75"/><circle cx="645.5" cy="220.0" r="1.75"/></g>
<path d="M652.5,229.0 L651.9,217.3 L653.5,215.2 L654.4,213.7 L655.4,213.5 L656.3,213.7 L657.3,216.6 L658.2,216.3 L659.1,216.6 L660.1,215.4 L661.0,215.2 L662.6,216.9 L662.0,229.0Z" fill="#9d9d9d"/>
<g fill="#9d9d9d"><circle cx="653.6" cy="228.6" r="1.75"/><circle cx="655.3" cy="228.2" r="1.75"/><circle cx="657.6" cy="228.5" r="1.75"/><circle cx="655.5" cy="214.3" r="1.75"/><circle cx="659.4" cy="216.8" r="1.75"/></g>
<line x1="39.3" x2="662" y1="207.08" y2="207.08" stroke="#333" stroke-width="1.25" stroke-dasharray="5.3 5.787"/>
<line x1="39.3" x2="662" y1="209.15" y2="209.15" stroke="#333" stroke-width="1.2" stroke-dasharray="1.2 4.3435"/>
<text x="32.8" y="232.34" font-size="10.7" fill="#4d4d4d" text-anchor="end">0</text>
<text x="32.8" y="219.06" font-size="10.7" fill="#4d4d4d" text-anchor="end">5</text>
<text x="32.8" y="205.78" font-size="10.7" fill="#4d4d4d" text-anchor="end">10</text>
<text x="32.8" y="192.50" font-size="10.7" fill="#4d4d4d" text-anchor="end">15</text>
<text x="32.8" y="179.22" font-size="10.7" fill="#4d4d4d" text-anchor="end">20</text>
<text x="32.8" y="165.94" font-size="10.7" fill="#4d4d4d" text-anchor="end">25</text>
<line x1="39.4" x2="662.1" y1="307.18" y2="307.18" stroke="#e8e8e8" stroke-width="1.0"/>
<line x1="39.4" x2="662.1" y1="300.54" y2="300.54" stroke="#f1f1f1" stroke-width="0.8"/>
<line x1="39.4" x2="662.1" y1="293.90" y2="293.90" stroke="#e8e8e8" stroke-width="1.0"/>
<line x1="39.4" x2="662.1" y1="287.26" y2="287.26" stroke="#f1f1f1" stroke-width="0.8"/>
<line x1="39.4" x2="662.1" y1="280.62" y2="280.62" stroke="#e8e8e8" stroke-width="1.0"/>
<line x1="39.4" x2="662.1" y1="273.98" y2="273.98" stroke="#f1f1f1" stroke-width="0.8"/>
<line x1="39.4" x2="662.1" y1="267.34" y2="267.34" stroke="#e8e8e8" stroke-width="1.0"/>
<line x1="39.4" x2="662.1" y1="260.70" y2="260.70" stroke="#f1f1f1" stroke-width="0.8"/>
<line x1="39.4" x2="662.1" y1="254.06" y2="254.06" stroke="#e8e8e8" stroke-width="1.0"/>
<line x1="39.4" x2="662.1" y1="247.42" y2="247.42" stroke="#f1f1f1" stroke-width="0.8"/>
<line x1="39.4" x2="662.1" y1="240.78" y2="240.78" stroke="#e8e8e8" stroke-width="1.0"/>
<path d="M39.2,307.7 L38.7,298.8 L40.3,295.5 L41.2,295.3 L42.1,295.5 L43.0,293.6 L43.9,293.4 L44.8,293.0 L45.7,292.7 L46.6,293.0 L47.5,294.1 L48.4,293.8 L49.3,294.1 L50.2,296.4 L51.1,296.8 L52.0,296.5 L52.9,294.0 L53.8,293.4 L54.7,292.2 L55.6,291.9 L56.5,292.2 L57.5,293.7 L58.4,293.9 L59.3,296.3 L60.2,296.6 L61.1,295.9 L62.0,295.6 L62.9,295.9 L63.8,295.8 L64.7,295.6 L65.6,295.4 L66.5,295.6 L68.1,297.4 L67.5,307.7Z" fill="#cbcbcb"/>
<path d="M70.0,307.7 L69.4,297.7 L71.0,296.0 L71.9,294.9 L72.8,294.6 L73.8,294.9 L74.7,296.4 L75.6,294.0 L76.5,293.7 L77.4,292.2 L78.4,291.9 L79.3,292.2 L80.2,296.2 L81.1,295.9 L82.0,292.7 L83.0,292.5 L83.9,292.7 L84.8,297.5 L85.7,296.0 L86.6,295.8 L87.6,296.0 L88.5,296.8 L89.4,296.6 L90.3,295.1 L91.2,294.9 L92.2,295.1 L93.1,293.3 L94.0,293.1 L95.6,294.8 L95.0,307.7Z" fill="#cbcbcb"/>
<g fill="#cbcbcb"><circle cx="40.6" cy="307.1" r="1.75"/><circle cx="42.2" cy="306.7" r="1.75"/><circle cx="45.5" cy="306.9" r="1.75"/><circle cx="51.2" cy="306.9" r="1.75"/><circle cx="52.9" cy="307.2" r="1.75"/><circle cx="58.5" cy="306.7" r="1.75"/><circle cx="60.2" cy="307.0" r="1.75"/><circle cx="61.9" cy="307.2" r="1.75"/><circle cx="65.4" cy="307.3" r="1.75"/><circle cx="40.2" cy="296.6" r="1.75"/><circle cx="44.0" cy="293.7" r="1.75"/><circle cx="49.1" cy="295.8" r="1.75"/><circle cx="50.9" cy="299.0" r="1.75"/><circle cx="56.6" cy="292.2" r="1.75"/><circle cx="65.8" cy="295.7" r="1.75"/><circle cx="47.8" cy="295.5" r="1.75"/><circle cx="71.2" cy="306.8" r="1.75"/><circle cx="74.8" cy="307.1" r="1.75"/><circle cx="78.1" cy="307.2" r="1.75"/><circle cx="83.9" cy="306.9" r="1.75"/><circle cx="85.5" cy="307.3" r="1.75"/><circle cx="93.4" cy="306.8" r="1.75"/><circle cx="71.3" cy="296.3" r="1.75"/><circle cx="72.7" cy="295.1" r="1.75"/><circle cx="74.8" cy="296.0" r="1.75"/><circle cx="80.5" cy="298.0" r="1.75"/><circle cx="82.1" cy="294.8" r="1.75"/><circle cx="85.8" cy="296.6" r="1.75"/><circle cx="81.7" cy="294.2" r="1.75"/></g>
<path d="M92.9,307.7 L92.4,296.1 L94.0,294.0 L94.9,293.8 L95.8,293.7 L96.7,293.7 L97.6,292.8 L98.5,292.3 L99.4,291.4 L100.3,291.1 L101.2,291.4 L102.1,291.3 L103.0,291.1 L103.9,291.3 L104.8,291.9 L105.7,292.1 L106.7,294.4 L107.6,291.2 L108.5,291.0 L109.4,291.2 L110.3,291.3 L111.2,291.6 L112.1,294.9 L113.0,295.1 L113.9,295.0 L115.5,296.8 L114.9,307.7Z" fill="#9d9d9d"/>
<path d="M113.5,307.7 L113.0,295.3 L114.5,293.6 L115.4,293.8 L116.4,293.7 L117.3,293.7 L118.2,293.4 L119.1,293.7 L120.0,294.6 L120.9,293.8 L121.8,293.5 L122.7,293.8 L123.6,293.6 L124.5,293.4 L125.5,293.6 L126.4,293.9 L127.3,291.5 L128.2,291.2 L129.1,288.2 L130.0,288.0 L130.9,288.2 L131.8,289.7 L132.7,289.4 L133.6,289.7 L134.6,290.7 L135.5,292.4 L136.4,292.1 L137.3,291.7 L138.2,291.5 L139.1,291.7 L140.0,293.8 L140.9,293.9 L141.8,293.6 L142.8,293.5 L143.7,289.7 L144.6,289.5 L145.5,287.6 L146.4,287.4 L148.0,289.1 L147.4,307.7Z" fill="#9d9d9d"/>
<g fill="#9d9d9d"><circle cx="93.9" cy="306.8" r="1.75"/><circle cx="95.8" cy="306.9" r="1.75"/><circle cx="99.4" cy="307.2" r="1.75"/><circle cx="101.0" cy="307.3" r="1.75"/><circle cx="103.2" cy="306.9" r="1.75"/><circle cx="108.7" cy="307.2" r="1.75"/><circle cx="110.1" cy="307.2" r="1.75"/><circle cx="112.0" cy="306.8" r="1.75"/><circle cx="114.0" cy="306.8" r="1.75"/><circle cx="97.9" cy="294.3" r="1.75"/><circle cx="104.5" cy="291.8" r="1.75"/><circle cx="114.0" cy="296.3" r="1.75"/><circle cx="101.0" cy="291.5" r="1.75"/><circle cx="114.9" cy="307.0" r="1.75"/><circle cx="118.4" cy="306.7" r="1.75"/><circle cx="122.0" cy="306.8" r="1.75"/><circle cx="123.5" cy="307.3" r="1.75"/><circle cx="132.5" cy="307.2" r="1.75"/><circle cx="134.5" cy="307.2" r="1.75"/><circle cx="138.3" cy="307.0" r="1.75"/><circle cx="140.0" cy="306.8" r="1.75"/><circle cx="142.2" cy="306.8" r="1.75"/><circle cx="145.4" cy="307.2" r="1.75"/><circle cx="114.4" cy="293.9" r="1.75"/><circle cx="127.0" cy="291.7" r="1.75"/><circle cx="130.8" cy="288.6" r="1.75"/><circle cx="138.1" cy="292.1" r="1.75"/><circle cx="144.0" cy="291.0" r="1.75"/><circle cx="145.3" cy="289.0" r="1.75"/><circle cx="145.9" cy="293.0" r="1.75"/></g>
<path d="M145.3,307.7 L144.8,294.3 L146.4,288.8 L147.3,284.2 L148.3,283.9 L149.2,284.2 L150.1,289.3 L151.0,289.6 L152.0,290.8 L152.9,290.5 L153.8,290.8 L154.8,295.0 L155.7,295.3 L156.6,295.8 L157.5,296.1 L158.5,296.5 L159.4,296.5 L160.3,295.9 L161.3,295.6 L162.2,293.4 L163.1,293.1 L164.0,293.4 L165.0,293.3 L165.9,293.0 L167.5,294.8 L166.9,307.7Z" fill="#cbcbcb"/>
<path d="M165.5,307.7 L165.0,298.5 L166.6,296.8 L167.5,292.3 L168.5,291.1 L169.4,290.8 L170.3,291.1 L171.3,291.7 L172.2,292.4 L173.1,292.1 L174.1,292.4 L175.0,295.6 L175.9,295.6 L176.9,295.8 L177.8,295.8 L178.8,294.9 L179.7,294.6 L180.6,293.2 L181.6,293.0 L182.5,293.2 L183.4,294.8 L184.4,295.3 L185.3,295.4 L186.2,293.0 L187.2,291.8 L188.1,291.5 L189.1,291.8 L190.6,294.3 L190.1,307.7Z" fill="#cbcbcb"/>
<g fill="#cbcbcb"><circle cx="147.9" cy="307.0" r="1.75"/><circle cx="152.1" cy="306.8" r="1.75"/><circle cx="163.3" cy="307.2" r="1.75"/><circle cx="165.0" cy="306.8" r="1.75"/><circle cx="146.0" cy="288.7" r="1.75"/><circle cx="148.1" cy="284.1" r="1.75"/><circle cx="153.7" cy="292.6" r="1.75"/><circle cx="157.4" cy="297.6" r="1.75"/><circle cx="159.7" cy="298.1" r="1.75"/><circle cx="161.1" cy="295.3" r="1.75"/><circle cx="164.9" cy="294.2" r="1.75"/><circle cx="163.5" cy="295.2" r="1.75"/><circle cx="166.8" cy="307.1" r="1.75"/><circle cx="168.3" cy="307.1" r="1.75"/><circle cx="171.8" cy="306.7" r="1.75"/><circle cx="178.2" cy="307.0" r="1.75"/><circle cx="179.5" cy="307.1" r="1.75"/><circle cx="181.6" cy="307.2" r="1.75"/><circle cx="183.7" cy="307.2" r="1.75"/><circle cx="185.0" cy="306.9" r="1.75"/><circle cx="168.5" cy="292.0" r="1.75"/><circle cx="172.0" cy="292.4" r="1.75"/><circle cx="175.9" cy="296.7" r="1.75"/><circle cx="187.5" cy="293.0" r="1.75"/><circle cx="175.6" cy="295.2" r="1.75"/></g>
<path d="M188.0,307.7 L187.5,298.4 L189.1,295.1 L190.0,294.8 L191.0,293.7 L192.0,292.6 L192.9,292.3 L193.9,292.6 L194.9,293.1 L195.9,294.3 L196.8,293.2 L197.8,292.6 L198.8,292.3 L199.7,292.6 L201.3,294.8 L200.8,307.7Z" fill="#9d9d9d"/>
<path d="M199.3,307.7 L198.8,298.5 L200.4,295.7 L201.3,292.7 L202.2,292.4 L203.1,292.7 L204.0,289.7 L204.9,289.5 L205.8,289.7 L206.7,291.9 L207.6,292.1 L208.5,293.1 L209.4,292.9 L210.3,293.1 L211.2,294.9 L212.1,294.8 L213.1,294.6 L214.0,294.8 L214.9,294.8 L215.8,294.7 L216.7,294.5 L217.6,294.7 L218.5,293.6 L219.4,293.3 L220.3,293.6 L221.2,291.8 L222.1,291.5 L223.0,291.8 L223.9,296.1 L224.8,295.1 L225.7,294.9 L226.6,295.1 L227.5,295.0 L228.4,294.8 L229.3,294.7 L230.2,295.0 L231.8,297.9 L231.3,307.7Z" fill="#9d9d9d"/>
<g fill="#9d9d9d"><circle cx="189.3" cy="306.8" r="1.75"/><circle cx="190.9" cy="307.1" r="1.75"/><circle cx="192.7" cy="306.7" r="1.75"/><circle cx="196.9" cy="306.9" r="1.75"/><circle cx="198.9" cy="306.8" r="1.75"/><circle cx="188.8" cy="295.3" r="1.75"/><circle cx="191.3" cy="295.7" r="1.75"/><circle cx="194.6" cy="293.2" r="1.75"/><circle cx="200.3" cy="307.1" r="1.75"/><circle cx="204.1" cy="307.1" r="1.75"/><circle cx="205.4" cy="306.9" r="1.75"/><circle cx="207.7" cy="306.9" r="1.75"/><circle cx="209.1" cy="307.2" r="1.75"/><circle cx="216.6" cy="307.3" r="1.75"/><circle cx="218.7" cy="307.2" r="1.75"/><circle cx="220.4" cy="307.0" r="1.75"/><circle cx="222.3" cy="307.1" r="1.75"/><circle cx="225.9" cy="307.0" r="1.75"/><circle cx="227.4" cy="307.1" r="1.75"/><circle cx="229.7" cy="307.0" r="1.75"/><circle cx="202.1" cy="294.7" r="1.75"/><circle cx="207.6" cy="293.3" r="1.75"/><circle cx="209.7" cy="292.5" r="1.75"/><circle cx="211.0" cy="295.4" r="1.75"/><circle cx="214.9" cy="296.2" r="1.75"/><circle cx="224.3" cy="296.6" r="1.75"/><circle cx="225.6" cy="296.2" r="1.75"/><circle cx="227.4" cy="294.7" r="1.75"/></g>
<path d="M229.2,307.7 L228.7,298.6 L230.2,293.4 L231.1,293.1 L232.1,293.4 L233.0,295.2 L233.9,294.9 L234.8,295.2 L235.7,293.2 L236.6,292.9 L237.5,293.2 L238.4,293.6 L239.3,292.0 L240.2,291.7 L241.8,293.5 L241.3,307.7Z" fill="#cbcbcb"/>
<path d="M239.8,307.7 L239.3,298.4 L240.9,296.7 L241.8,295.1 L242.7,294.9 L243.6,293.1 L244.5,292.8 L245.5,293.1 L246.4,295.2 L247.3,294.7 L248.2,294.4 L249.1,294.7 L250.0,295.7 L250.9,295.2 L251.9,295.0 L252.8,295.2 L253.7,295.8 L254.6,295.5 L255.5,292.0 L256.4,291.7 L257.3,289.8 L258.2,288.7 L259.2,287.5 L260.1,287.3 L261.0,287.5 L261.9,294.2 L262.8,293.9 L263.7,294.2 L264.6,295.1 L265.6,295.7 L266.5,295.4 L267.4,295.7 L268.3,296.3 L269.2,296.0 L270.8,297.8 L270.3,307.7Z" fill="#cbcbcb"/>
<g fill="#cbcbcb"><circle cx="237.2" cy="306.7" r="1.75"/><circle cx="239.0" cy="306.8" r="1.75"/><circle cx="230.0" cy="293.2" r="1.75"/><circle cx="231.8" cy="294.4" r="1.75"/><circle cx="235.6" cy="293.3" r="1.75"/><circle cx="239.2" cy="291.6" r="1.75"/><circle cx="243.0" cy="307.2" r="1.75"/><circle cx="244.9" cy="306.8" r="1.75"/><circle cx="248.2" cy="307.1" r="1.75"/><circle cx="250.0" cy="306.9" r="1.75"/><circle cx="253.8" cy="306.8" r="1.75"/><circle cx="255.6" cy="306.8" r="1.75"/><circle cx="259.5" cy="307.2" r="1.75"/><circle cx="260.8" cy="307.0" r="1.75"/><circle cx="262.9" cy="306.8" r="1.75"/><circle cx="266.2" cy="307.2" r="1.75"/><circle cx="268.2" cy="306.8" r="1.75"/><circle cx="242.9" cy="296.4" r="1.75"/><circle cx="244.8" cy="292.4" r="1.75"/><circle cx="253.5" cy="297.1" r="1.75"/><circle cx="255.5" cy="291.8" r="1.75"/><circle cx="259.0" cy="289.6" r="1.75"/><circle cx="262.6" cy="295.0" r="1.75"/><circle cx="266.2" cy="295.5" r="1.75"/><circle cx="247.7" cy="293.3" r="1.75"/></g>
<path d="M268.2,307.7 L267.6,296.6 L269.2,294.9 L270.1,295.1 L271.0,294.9 L271.9,294.4 L272.8,294.1 L273.7,292.9 L274.6,289.7 L275.6,289.4 L276.5,289.2 L277.4,288.9 L278.3,289.2 L279.2,293.4 L280.1,290.4 L281.0,290.2 L281.9,290.4 L283.5,292.7 L282.9,307.7Z" fill="#9d9d9d"/>
<path d="M281.5,307.7 L281.0,297.3 L282.5,295.6 L283.4,295.4 L284.3,295.3 L285.2,295.5 L286.2,295.6 L287.1,294.4 L288.0,293.6 L288.9,293.3 L289.8,293.6 L290.7,294.5 L291.6,295.1 L292.5,295.7 L293.4,295.5 L294.3,294.4 L295.2,294.1 L296.1,294.4 L297.0,295.3 L297.9,295.7 L298.8,291.6 L299.7,291.3 L300.6,291.6 L301.6,293.1 L302.5,294.9 L303.4,295.8 L304.3,292.0 L305.2,290.6 L306.1,290.3 L307.7,292.1 L307.1,307.7Z" fill="#9d9d9d"/>
<g fill="#9d9d9d"><circle cx="276.4" cy="307.1" r="1.75"/><circle cx="278.4" cy="306.7" r="1.75"/><circle cx="268.9" cy="296.6" r="1.75"/><circle cx="272.9" cy="293.9" r="1.75"/><circle cx="276.8" cy="290.4" r="1.75"/><circle cx="278.5" cy="291.4" r="1.75"/><circle cx="279.8" cy="290.3" r="1.75"/><circle cx="282.6" cy="307.2" r="1.75"/><circle cx="286.1" cy="307.3" r="1.75"/><circle cx="289.5" cy="307.1" r="1.75"/><circle cx="291.6" cy="306.9" r="1.75"/><circle cx="293.6" cy="307.0" r="1.75"/><circle cx="295.2" cy="307.1" r="1.75"/><circle cx="298.9" cy="307.1" r="1.75"/><circle cx="300.3" cy="306.8" r="1.75"/><circle cx="302.6" cy="306.9" r="1.75"/><circle cx="285.8" cy="297.4" r="1.75"/><circle cx="297.3" cy="296.2" r="1.75"/><circle cx="302.7" cy="295.1" r="1.75"/><circle cx="304.1" cy="293.8" r="1.75"/><circle cx="302.4" cy="293.5" r="1.75"/></g>
<path d="M305.0,307.7 L304.5,295.2 L306.1,292.6 L307.0,289.3 L308.0,289.0 L309.0,289.3 L309.9,291.0 L310.9,290.7 L311.9,291.0 L312.8,294.2 L313.8,293.9 L314.7,294.2 L315.7,294.7 L316.7,294.3 L317.6,294.0 L318.6,293.7 L320.2,295.5 L319.6,307.7Z" fill="#cbcbcb"/>
<path d="M318.3,307.7 L317.8,297.8 L319.4,294.4 L320.3,294.1 L321.2,294.4 L322.1,294.9 L323.0,294.6 L323.9,292.6 L324.9,292.1 L325.8,291.9 L326.7,292.1 L327.6,294.7 L328.5,294.1 L329.4,293.8 L330.3,293.9 L331.2,293.6 L332.2,293.4 L333.1,293.6 L334.0,294.7 L334.9,294.5 L335.8,294.8 L336.7,294.6 L337.6,294.9 L338.5,292.8 L339.5,291.0 L340.4,290.7 L341.9,292.5 L341.4,307.7Z" fill="#cbcbcb"/>
<g fill="#cbcbcb"><circle cx="306.4" cy="306.8" r="1.75"/><circle cx="308.2" cy="306.9" r="1.75"/><circle cx="311.9" cy="307.0" r="1.75"/><circle cx="313.5" cy="307.2" r="1.75"/><circle cx="315.3" cy="307.2" r="1.75"/><circle cx="308.4" cy="288.7" r="1.75"/><circle cx="309.6" cy="290.8" r="1.75"/><circle cx="312.0" cy="292.5" r="1.75"/><circle cx="314.1" cy="295.6" r="1.75"/><circle cx="315.6" cy="295.9" r="1.75"/><circle cx="317.2" cy="293.9" r="1.75"/><circle cx="319.8" cy="307.0" r="1.75"/><circle cx="321.5" cy="307.1" r="1.75"/><circle cx="324.7" cy="306.9" r="1.75"/><circle cx="326.4" cy="307.1" r="1.75"/><circle cx="328.2" cy="307.1" r="1.75"/><circle cx="330.4" cy="307.0" r="1.75"/><circle cx="332.4" cy="306.8" r="1.75"/><circle cx="336.0" cy="306.9" r="1.75"/><circle cx="337.4" cy="307.0" r="1.75"/><circle cx="339.6" cy="307.1" r="1.75"/><circle cx="320.8" cy="295.6" r="1.75"/><circle cx="326.5" cy="293.0" r="1.75"/><circle cx="330.4" cy="293.8" r="1.75"/><circle cx="332.1" cy="295.5" r="1.75"/><circle cx="336.1" cy="297.0" r="1.75"/><circle cx="337.6" cy="297.0" r="1.75"/><circle cx="321.2" cy="292.7" r="1.75"/></g>
<path d="M339.3,307.7 L338.8,298.6 L340.4,292.3 L341.3,290.7 L342.3,287.6 L343.2,287.3 L344.1,287.6 L345.1,290.7 L346.0,296.9 L347.0,296.3 L347.9,296.0 L348.9,296.3 L349.8,296.4 L351.4,298.1 L350.9,307.7Z" fill="#9d9d9d"/>
<path d="M349.4,307.7 L348.9,294.1 L350.5,292.0 L351.4,291.7 L352.3,292.0 L353.2,292.7 L354.2,293.0 L355.1,297.0 L356.0,296.8 L357.0,296.9 L357.9,297.2 L358.8,298.6 L359.8,293.8 L360.7,293.5 L361.6,293.8 L362.6,290.3 L363.5,290.0 L364.4,290.3 L365.4,296.3 L366.3,293.4 L367.2,293.1 L368.2,293.4 L369.1,296.4 L370.0,296.2 L371.0,296.4 L371.9,296.2 L373.5,298.0 L373.0,307.7Z" fill="#9d9d9d"/>
<g fill="#9d9d9d"><circle cx="340.7" cy="307.1" r="1.75"/><circle cx="344.1" cy="307.2" r="1.75"/><circle cx="348.3" cy="307.2" r="1.75"/><circle cx="349.7" cy="306.9" r="1.75"/><circle cx="342.4" cy="289.0" r="1.75"/><circle cx="344.0" cy="287.8" r="1.75"/><circle cx="347.7" cy="297.6" r="1.75"/><circle cx="350.5" cy="307.1" r="1.75"/><circle cx="353.9" cy="306.7" r="1.75"/><circle cx="361.4" cy="307.3" r="1.75"/><circle cx="363.8" cy="307.1" r="1.75"/><circle cx="367.5" cy="307.2" r="1.75"/><circle cx="350.5" cy="292.3" r="1.75"/><circle cx="352.3" cy="293.1" r="1.75"/><circle cx="354.4" cy="294.9" r="1.75"/><circle cx="361.3" cy="294.7" r="1.75"/><circle cx="363.2" cy="291.5" r="1.75"/><circle cx="365.1" cy="297.9" r="1.75"/><circle cx="367.1" cy="295.3" r="1.75"/><circle cx="353.4" cy="294.5" r="1.75"/></g>
<path d="M370.9,307.7 L370.3,296.7 L371.9,294.0 L372.8,293.4 L373.8,293.2 L374.7,293.4 L375.6,295.6 L376.6,295.9 L377.5,296.9 L378.4,296.3 L379.4,296.0 L380.3,296.3 L381.9,298.2 L381.4,307.7Z" fill="#cbcbcb"/>
<path d="M386.0,307.7 L385.5,298.7 L387.1,296.9 L388.0,297.2 L389.0,296.0 L389.9,295.7 L390.9,292.9 L391.9,292.7 L392.8,292.7 L393.8,293.0 L394.7,293.3 L395.7,293.6 L396.6,292.9 L397.6,292.6 L398.5,292.9 L399.5,294.1 L400.4,288.7 L401.4,288.4 L402.3,288.7 L403.9,298.2 L403.4,307.7Z" fill="#cbcbcb"/>
<g fill="#cbcbcb"><circle cx="371.6" cy="306.9" r="1.75"/><circle cx="373.9" cy="306.8" r="1.75"/><circle cx="377.9" cy="306.8" r="1.75"/><circle cx="379.3" cy="306.7" r="1.75"/><circle cx="372.1" cy="296.1" r="1.75"/><circle cx="374.0" cy="293.8" r="1.75"/><circle cx="387.1" cy="307.1" r="1.75"/><circle cx="391.3" cy="307.1" r="1.75"/><circle cx="393.1" cy="307.2" r="1.75"/><circle cx="394.8" cy="307.0" r="1.75"/><circle cx="396.3" cy="307.2" r="1.75"/><circle cx="400.8" cy="307.1" r="1.75"/></g>
<path d="M401.3,307.7 L400.8,296.4 L402.3,294.6 L403.3,294.9 L404.2,294.7 L405.1,295.0 L406.1,295.3 L407.0,294.3 L408.0,293.0 L408.9,292.7 L409.8,290.8 L410.8,290.5 L412.3,292.3 L411.8,307.7Z" fill="#9d9d9d"/>
<path d="M410.4,307.7 L409.9,293.1 L411.4,291.4 L412.4,291.6 L413.3,292.5 L414.2,296.2 L415.1,295.5 L416.0,293.1 L416.9,292.8 L417.8,293.1 L418.7,292.4 L419.7,292.2 L420.6,292.2 L421.5,291.9 L422.4,292.2 L423.3,294.7 L424.2,291.9 L425.1,291.6 L426.0,291.9 L427.0,295.1 L427.9,294.8 L428.8,295.1 L429.7,296.3 L430.6,296.6 L431.5,296.8 L433.1,299.2 L432.6,307.7Z" fill="#9d9d9d"/>
<g fill="#9d9d9d"><circle cx="402.5" cy="306.8" r="1.75"/><circle cx="404.2" cy="306.8" r="1.75"/><circle cx="408.1" cy="306.8" r="1.75"/><circle cx="409.6" cy="291.5" r="1.75"/><circle cx="411.1" cy="307.1" r="1.75"/><circle cx="413.5" cy="307.3" r="1.75"/><circle cx="418.9" cy="307.2" r="1.75"/><circle cx="422.2" cy="307.0" r="1.75"/><circle cx="425.7" cy="307.1" r="1.75"/><circle cx="427.7" cy="307.2" r="1.75"/><circle cx="429.6" cy="307.2" r="1.75"/><circle cx="413.2" cy="294.6" r="1.75"/><circle cx="414.7" cy="296.0" r="1.75"/><circle cx="430.0" cy="298.3" r="1.75"/><circle cx="418.7" cy="292.9" r="1.75"/></g>
<path d="M430.5,307.7 L430.0,291.2 L431.5,289.5 L432.5,289.7 L433.4,290.1 L434.3,290.4 L435.2,294.1 L436.1,293.4 L437.1,293.1 L438.0,293.4 L438.9,293.2 L439.8,293.2 L440.8,293.5 L441.7,294.2 L442.6,294.7 L444.2,296.4 L443.7,307.7Z" fill="#cbcbcb"/>
<path d="M442.3,307.7 L441.8,297.4 L443.4,294.6 L444.3,294.3 L445.2,294.0 L446.1,294.3 L447.0,294.9 L447.9,289.5 L448.8,289.2 L449.7,288.2 L450.6,287.9 L451.5,288.2 L452.4,292.1 L453.4,292.3 L454.3,292.6 L455.2,292.3 L456.1,292.6 L457.0,294.1 L457.9,295.4 L458.8,295.6 L459.7,295.6 L460.6,295.5 L462.2,297.2 L461.7,307.7Z" fill="#cbcbcb"/>
<g fill="#cbcbcb"><circle cx="431.4" cy="306.7" r="1.75"/><circle cx="433.1" cy="306.8" r="1.75"/><circle cx="437.1" cy="307.2" r="1.75"/><circle cx="442.6" cy="306.7" r="1.75"/><circle cx="437.2" cy="293.4" r="1.75"/><circle cx="440.9" cy="293.4" r="1.75"/><circle cx="443.2" cy="307.0" r="1.75"/><circle cx="446.7" cy="307.2" r="1.75"/><circle cx="449.2" cy="307.1" r="1.75"/><circle cx="450.3" cy="307.2" r="1.75"/><circle cx="452.4" cy="306.9" r="1.75"/><circle cx="454.5" cy="307.1" r="1.75"/><circle cx="458.3" cy="307.2" r="1.75"/><circle cx="459.9" cy="306.9" r="1.75"/><circle cx="450.4" cy="290.1" r="1.75"/></g>
<path d="M459.6,307.7 L459.0,297.4 L460.6,295.6 L461.5,295.5 L462.5,295.8 L463.4,296.1 L464.4,295.8 L465.3,295.6 L466.2,292.3 L467.2,292.0 L468.1,292.3 L469.7,297.8 L469.2,307.7Z" fill="#9d9d9d"/>
<path d="M467.7,307.7 L467.2,297.6 L468.8,289.7 L469.7,289.4 L470.6,289.7 L471.6,290.1 L472.5,290.4 L473.5,291.1 L474.4,295.6 L475.3,295.9 L476.3,294.9 L477.2,294.6 L478.2,294.9 L479.1,296.2 L480.0,296.3 L481.0,295.4 L481.9,295.1 L482.9,295.4 L483.8,292.8 L484.7,292.5 L485.7,292.8 L486.6,295.5 L487.6,294.8 L488.5,292.4 L489.4,292.1 L491.0,293.8 L490.5,307.7Z" fill="#9d9d9d"/>
<g fill="#9d9d9d"><circle cx="460.3" cy="307.1" r="1.75"/><circle cx="464.5" cy="307.2" r="1.75"/><circle cx="466.3" cy="307.0" r="1.75"/><circle cx="468.4" cy="307.0" r="1.75"/><circle cx="466.2" cy="291.9" r="1.75"/><circle cx="468.1" cy="291.9" r="1.75"/><circle cx="470.5" cy="307.1" r="1.75"/><circle cx="474.8" cy="307.1" r="1.75"/><circle cx="475.9" cy="306.8" r="1.75"/><circle cx="482.3" cy="307.3" r="1.75"/><circle cx="483.9" cy="307.1" r="1.75"/><circle cx="485.9" cy="307.1" r="1.75"/><circle cx="489.2" cy="306.9" r="1.75"/><circle cx="474.4" cy="297.0" r="1.75"/><circle cx="476.5" cy="297.1" r="1.75"/><circle cx="478.3" cy="296.3" r="1.75"/><circle cx="480.0" cy="295.9" r="1.75"/><circle cx="482.1" cy="296.8" r="1.75"/><circle cx="471.4" cy="294.2" r="1.75"/></g>
<path d="M492.6,307.7 L492.0,297.4 L493.6,295.6 L494.5,295.9 L495.5,296.2 L496.4,295.9 L497.4,296.2 L498.3,296.8 L499.2,294.4 L500.2,293.9 L501.1,293.6 L502.1,293.9 L503.0,295.4 L503.9,295.9 L504.9,294.9 L505.8,292.0 L506.8,291.7 L507.7,292.0 L508.6,292.3 L509.6,288.8 L510.5,288.6 L511.4,288.8 L512.4,294.9 L513.3,292.1 L514.3,291.8 L515.8,293.5 L515.3,307.7Z" fill="#cbcbcb"/>
<g fill="#cbcbcb"><circle cx="493.7" cy="306.7" r="1.75"/><circle cx="495.2" cy="306.8" r="1.75"/><circle cx="497.4" cy="306.9" r="1.75"/><circle cx="501.2" cy="307.1" r="1.75"/><circle cx="503.0" cy="307.1" r="1.75"/><circle cx="504.7" cy="306.8" r="1.75"/><circle cx="507.0" cy="307.2" r="1.75"/><circle cx="508.7" cy="307.2" r="1.75"/><circle cx="510.4" cy="306.9" r="1.75"/><circle cx="514.4" cy="306.8" r="1.75"/><circle cx="493.3" cy="297.5" r="1.75"/><circle cx="502.8" cy="295.7" r="1.75"/><circle cx="506.9" cy="292.0" r="1.75"/><circle cx="508.3" cy="293.2" r="1.75"/><circle cx="510.2" cy="289.8" r="1.75"/><circle cx="493.9" cy="294.8" r="1.75"/></g>
<path d="M517.4,307.7 L516.8,298.5 L518.4,295.8 L519.3,294.6 L520.2,294.4 L521.1,294.6 L522.0,294.2 L522.9,293.5 L523.8,293.2 L524.7,293.5 L525.6,294.1 L526.5,291.8 L527.5,291.6 L528.4,291.8 L529.3,292.2 L530.2,292.5 L531.1,293.6 L532.0,296.1 L532.9,296.0 L533.8,295.7 L534.7,296.0 L535.6,294.5 L536.5,294.2 L537.4,294.5 L539.0,298.0 L538.4,307.7Z" fill="#9d9d9d"/>
<g fill="#9d9d9d"><circle cx="520.0" cy="306.9" r="1.75"/><circle cx="532.9" cy="307.2" r="1.75"/><circle cx="534.4" cy="307.0" r="1.75"/><circle cx="536.1" cy="306.7" r="1.75"/><circle cx="529.5" cy="293.6" r="1.75"/><circle cx="536.4" cy="295.6" r="1.75"/><circle cx="531.9" cy="293.1" r="1.75"/></g>
<path d="M540.7,307.7 L540.2,296.8 L541.8,295.0 L542.7,295.3 L543.6,296.0 L544.6,296.6 L545.5,294.2 L546.4,292.8 L547.4,291.9 L548.3,291.6 L549.2,291.9 L550.2,296.0 L551.1,295.8 L552.0,295.4 L553.0,292.8 L553.9,291.2 L554.8,291.0 L555.7,291.2 L556.7,292.2 L557.6,294.0 L558.5,294.9 L559.5,296.1 L561.1,298.9 L560.5,307.7Z" fill="#cbcbcb"/>
<g fill="#cbcbcb"><circle cx="541.6" cy="307.1" r="1.75"/><circle cx="543.3" cy="307.1" r="1.75"/><circle cx="545.3" cy="307.0" r="1.75"/><circle cx="547.7" cy="307.0" r="1.75"/><circle cx="549.1" cy="307.1" r="1.75"/><circle cx="553.3" cy="307.2" r="1.75"/><circle cx="556.4" cy="306.9" r="1.75"/><circle cx="558.3" cy="307.1" r="1.75"/><circle cx="547.0" cy="294.1" r="1.75"/><circle cx="549.3" cy="291.5" r="1.75"/></g>
<path d="M558.4,307.7 L557.9,298.0 L559.5,296.2 L560.4,296.2 L561.4,295.9 L562.3,296.1 L563.3,295.6 L564.2,291.1 L565.2,290.9 L566.1,291.1 L567.1,294.2 L568.7,296.0 L568.1,307.7Z" fill="#9d9d9d"/>
<path d="M568.4,307.7 L567.9,292.7 L569.5,290.9 L570.4,291.2 L571.4,293.4 L572.3,293.8 L573.3,293.5 L574.2,292.7 L575.2,292.4 L576.1,292.7 L577.1,292.3 L578.0,291.4 L578.9,291.1 L580.5,292.8 L580.0,307.7Z" fill="#9d9d9d"/>
<g fill="#9d9d9d"><circle cx="559.5" cy="307.0" r="1.75"/><circle cx="566.8" cy="306.7" r="1.75"/><circle cx="561.5" cy="297.3" r="1.75"/><circle cx="575.0" cy="306.8" r="1.75"/><circle cx="577.1" cy="292.8" r="1.75"/><circle cx="578.8" cy="290.8" r="1.75"/></g>
<path d="M577.9,307.7 L577.4,298.2 L578.9,296.2 L579.9,295.9 L580.9,296.2 L581.8,291.3 L582.8,291.0 L583.7,291.3 L585.3,294.9 L584.8,307.7Z" fill="#cbcbcb"/>
<path d="M583.3,307.7 L582.8,297.9 L584.4,293.4 L585.3,293.2 L586.2,293.4 L587.2,295.7 L588.1,290.0 L589.0,289.7 L589.9,290.0 L590.9,293.3 L591.8,293.6 L592.7,293.6 L593.7,293.3 L594.6,293.6 L595.5,293.2 L596.4,292.9 L598.0,294.7 L597.5,307.7Z" fill="#cbcbcb"/>
<g fill="#cbcbcb"><circle cx="579.0" cy="306.8" r="1.75"/><circle cx="583.0" cy="306.9" r="1.75"/><circle cx="584.4" cy="307.0" r="1.75"/><circle cx="586.1" cy="306.7" r="1.75"/><circle cx="587.8" cy="306.7" r="1.75"/><circle cx="595.5" cy="307.1" r="1.75"/><circle cx="584.6" cy="293.8" r="1.75"/><circle cx="586.0" cy="294.1" r="1.75"/><circle cx="593.7" cy="294.5" r="1.75"/><circle cx="595.7" cy="292.9" r="1.75"/></g>
<path d="M595.4,307.7 L594.9,297.1 L596.4,295.3 L597.5,292.1 L598.7,291.7 L599.8,292.1 L601.3,297.5 L600.8,307.7Z" fill="#9d9d9d"/>
<path d="M599.4,307.7 L598.8,297.7 L600.4,296.0 L601.3,295.9 L602.3,296.1 L603.2,295.9 L604.1,295.6 L605.0,295.3 L605.9,295.2 L606.8,293.1 L607.8,292.8 L608.7,293.1 L609.6,292.9 L610.5,293.1 L611.4,295.0 L612.3,294.7 L613.3,295.0 L614.8,297.1 L614.3,307.7Z" fill="#9d9d9d"/>
<g fill="#9d9d9d"><circle cx="596.7" cy="307.1" r="1.75"/><circle cx="598.5" cy="307.2" r="1.75"/><circle cx="600.6" cy="307.0" r="1.75"/><circle cx="602.2" cy="307.2" r="1.75"/><circle cx="605.9" cy="307.1" r="1.75"/><circle cx="611.5" cy="307.0" r="1.75"/><circle cx="604.3" cy="297.8" r="1.75"/><circle cx="609.4" cy="295.1" r="1.75"/></g>
<path d="M612.2,307.7 L611.7,297.9 L613.3,295.7 L614.3,295.3 L615.4,295.3 L616.4,292.7 L617.5,292.3 L618.5,292.7 L620.1,299.1 L619.6,307.7Z" fill="#cbcbcb"/>
<path d="M618.4,307.7 L617.8,296.5 L619.4,294.7 L620.3,293.7 L621.3,293.4 L622.2,293.7 L623.2,294.2 L624.1,295.2 L625.1,295.5 L626.0,296.1 L627.6,298.0 L627.0,307.7Z" fill="#cbcbcb"/>
<g fill="#cbcbcb"><circle cx="615.7" cy="306.9" r="1.75"/><circle cx="617.6" cy="307.2" r="1.75"/><circle cx="613.1" cy="296.6" r="1.75"/><circle cx="623.1" cy="306.8" r="1.75"/><circle cx="621.7" cy="295.2" r="1.75"/></g>
<path d="M624.9,307.7 L624.4,297.2 L626.0,294.5 L626.9,294.2 L627.9,294.5 L628.8,295.4 L629.8,295.7 L630.7,295.0 L631.7,294.7 L633.2,296.4 L632.7,307.7Z" fill="#9d9d9d"/>
<path d="M631.4,307.7 L630.8,294.6 L632.4,292.9 L633.4,293.2 L634.5,295.2 L635.5,294.9 L636.5,295.2 L637.5,295.9 L638.6,296.2 L639.6,296.6 L641.2,299.9 L640.6,307.7Z" fill="#9d9d9d"/>
<g fill="#9d9d9d"><circle cx="625.8" cy="306.8" r="1.75"/><circle cx="629.6" cy="306.8" r="1.75"/><circle cx="631.4" cy="306.8" r="1.75"/><circle cx="626.0" cy="295.0" r="1.75"/><circle cx="627.6" cy="294.7" r="1.75"/><circle cx="632.7" cy="306.8" r="1.75"/><circle cx="636.6" cy="307.2" r="1.75"/></g>
<path d="M640.7,307.7 L640.2,296.6 L641.7,291.7 L642.6,291.4 L643.6,291.7 L644.5,295.4 L645.4,294.8 L646.3,294.5 L647.2,294.8 L648.1,296.0 L649.0,296.3 L649.9,296.1 L651.5,297.8 L651.0,307.7Z" fill="#cbcbcb"/>
<g fill="#cbcbcb"><circle cx="641.6" cy="307.2" r="1.75"/><circle cx="647.3" cy="306.9" r="1.75"/><circle cx="643.9" cy="291.7" r="1.75"/></g>
<path d="M652.5,307.7 L651.9,289.9 L653.5,288.2 L654.4,288.5 L655.4,294.7 L656.3,295.0 L657.3,294.1 L658.2,293.9 L659.1,294.1 L660.1,289.7 L661.0,289.5 L662.6,291.2 L662.0,307.7Z" fill="#9d9d9d"/>
<g fill="#9d9d9d"><circle cx="655.7" cy="306.9" r="1.75"/><circle cx="657.6" cy="307.0" r="1.75"/><circle cx="661.3" cy="306.7" r="1.75"/></g>
<line x1="39.3" x2="662" y1="285.72" y2="285.72" stroke="#333" stroke-width="1.25" stroke-dasharray="5.3 5.787"/>
<line x1="39.3" x2="662" y1="287.79" y2="287.79" stroke="#333" stroke-width="1.2" stroke-dasharray="1.2 4.3435"/>
<text x="32.8" y="310.98" font-size="10.7" fill="#4d4d4d" text-anchor="end">0</text>
<text x="32.8" y="297.70" font-size="10.7" fill="#4d4d4d" text-anchor="end">5</text>
<text x="32.8" y="284.42" font-size="10.7" fill="#4d4d4d" text-anchor="end">10</text>
<text x="32.8" y="271.14" font-size="10.7" fill="#4d4d4d" text-anchor="end">15</text>
<text x="32.8" y="257.86" font-size="10.7" fill="#4d4d4d" text-anchor="end">20</text>
<text x="32.8" y="244.58" font-size="10.7" fill="#4d4d4d" text-anchor="end">25</text>
<line x1="39.4" x2="662.1" y1="385.82" y2="385.82" stroke="#e8e8e8" stroke-width="1.0"/>
<line x1="39.4" x2="662.1" y1="379.18" y2="379.18" stroke="#f1f1f1" stroke-width="0.8"/>
<line x1="39.4" x2="662.1" y1="372.54" y2="372.54" stroke="#e8e8e8" stroke-width="1.0"/>
<line x1="39.4" x2="662.1" y1="365.90" y2="365.90" stroke="#f1f1f1" stroke-width="0.8"/>
<line x1="39.4" x2="662.1" y1="359.26" y2="359.26" stroke="#e8e8e8" stroke-width="1.0"/>
<line x1="39.4" x2="662.1" y1="352.62" y2="352.62" stroke="#f1f1f1" stroke-width="0.8"/>
<line x1="39.4" x2="662.1" y1="345.98" y2="345.98" stroke="#e8e8e8" stroke-width="1.0"/>
<line x1="39.4" x2="662.1" y1="339.34" y2="339.34" stroke="#f1f1f1" stroke-width="0.8"/>
<line x1="39.4" x2="662.1" y1="332.70" y2="332.70" stroke="#e8e8e8" stroke-width="1.0"/>
<line x1="39.4" x2="662.1" y1="326.06" y2="326.06" stroke="#f1f1f1" stroke-width="0.8"/>
<line x1="39.4" x2="662.1" y1="319.42" y2="319.42" stroke="#e8e8e8" stroke-width="1.0"/>
<path d="M39.2,386.3 L38.7,377.5 L40.3,373.1 L41.2,372.9 L42.1,373.1 L43.0,376.3 L43.9,376.0 L44.8,372.1 L45.7,371.9 L46.6,372.1 L47.5,375.5 L48.4,375.3 L49.3,375.5 L50.2,375.2 L51.1,373.4 L52.0,373.1 L52.9,373.4 L53.8,373.9 L54.7,373.3 L55.6,373.0 L56.5,372.4 L57.5,372.1 L58.4,372.4 L59.3,373.7 L60.2,373.5 L61.1,373.3 L62.0,373.5 L62.9,375.0 L63.8,375.3 L64.7,375.5 L65.6,374.0 L66.5,373.7 L68.1,375.5 L67.5,386.3Z" fill="#cbcbcb"/>
<path d="M70.0,386.3 L69.4,377.6 L71.0,375.1 L71.9,374.9 L72.8,375.1 L73.8,376.0 L74.7,370.8 L75.6,370.5 L76.5,370.8 L77.4,375.0 L78.4,375.2 L79.3,374.9 L80.2,372.4 L81.1,372.2 L82.0,372.4 L83.0,375.3 L83.9,373.1 L84.8,372.1 L85.7,371.9 L86.6,372.1 L87.6,375.7 L88.5,375.8 L89.4,375.6 L90.3,375.8 L91.2,376.0 L92.2,375.1 L93.1,370.9 L94.0,370.7 L95.6,372.4 L95.0,386.3Z" fill="#cbcbcb"/>
<g fill="#cbcbcb"><circle cx="40.6" cy="385.7" r="1.75"/><circle cx="43.6" cy="385.9" r="1.75"/><circle cx="49.5" cy="385.6" r="1.75"/><circle cx="51.2" cy="385.9" r="1.75"/><circle cx="52.9" cy="385.7" r="1.75"/><circle cx="58.2" cy="385.7" r="1.75"/><circle cx="61.8" cy="385.7" r="1.75"/><circle cx="44.3" cy="376.4" r="1.75"/><circle cx="45.6" cy="373.7" r="1.75"/><circle cx="49.1" cy="375.7" r="1.75"/><circle cx="63.5" cy="376.9" r="1.75"/><circle cx="54.9" cy="372.8" r="1.75"/><circle cx="71.4" cy="385.7" r="1.75"/><circle cx="73.0" cy="385.6" r="1.75"/><circle cx="76.1" cy="385.7" r="1.75"/><circle cx="79.9" cy="385.3" r="1.75"/><circle cx="82.2" cy="385.3" r="1.75"/><circle cx="85.5" cy="385.4" r="1.75"/><circle cx="87.3" cy="385.5" r="1.75"/><circle cx="89.4" cy="385.9" r="1.75"/><circle cx="74.3" cy="370.9" r="1.75"/><circle cx="84.1" cy="375.3" r="1.75"/><circle cx="91.3" cy="377.7" r="1.75"/><circle cx="79.0" cy="372.4" r="1.75"/></g>
<path d="M92.9,386.3 L92.4,378.5 L94.0,373.2 L94.9,373.0 L95.8,373.1 L96.7,372.8 L97.6,373.1 L98.5,376.3 L99.4,375.7 L100.3,375.4 L101.2,375.2 L102.1,375.3 L103.0,370.0 L103.9,369.7 L104.8,370.0 L105.7,375.7 L106.7,375.5 L107.6,375.2 L108.5,375.0 L109.4,375.2 L110.3,376.5 L111.2,376.2 L112.1,376.5 L113.0,372.0 L113.9,371.7 L115.5,373.5 L114.9,386.3Z" fill="#9d9d9d"/>
<path d="M113.5,386.3 L113.0,376.5 L114.5,374.7 L115.4,375.0 L116.4,376.2 L117.3,375.7 L118.2,375.4 L119.1,375.7 L120.0,377.4 L120.9,373.2 L121.8,373.0 L122.7,373.2 L123.6,372.9 L124.5,373.2 L125.5,374.2 L126.4,373.1 L127.3,372.9 L128.2,373.1 L129.1,374.9 L130.0,374.6 L130.9,374.9 L131.8,376.4 L132.7,376.3 L133.6,376.0 L134.6,375.7 L135.5,376.0 L136.4,376.3 L137.3,376.1 L138.2,375.2 L139.1,374.1 L140.0,373.8 L140.9,372.2 L141.8,371.9 L142.8,372.2 L143.7,376.7 L144.6,374.7 L145.5,374.4 L146.4,374.7 L148.0,378.5 L147.4,386.3Z" fill="#9d9d9d"/>
<g fill="#9d9d9d"><circle cx="97.3" cy="385.9" r="1.75"/><circle cx="101.5" cy="385.4" r="1.75"/><circle cx="102.7" cy="385.6" r="1.75"/><circle cx="104.6" cy="385.7" r="1.75"/><circle cx="110.0" cy="385.6" r="1.75"/><circle cx="112.1" cy="385.5" r="1.75"/><circle cx="94.1" cy="373.8" r="1.75"/><circle cx="96.0" cy="373.4" r="1.75"/><circle cx="108.5" cy="376.0" r="1.75"/><circle cx="110.3" cy="378.6" r="1.75"/><circle cx="112.1" cy="377.9" r="1.75"/><circle cx="113.6" cy="373.3" r="1.75"/><circle cx="106.5" cy="373.8" r="1.75"/><circle cx="114.9" cy="385.6" r="1.75"/><circle cx="116.3" cy="385.5" r="1.75"/><circle cx="119.9" cy="385.8" r="1.75"/><circle cx="123.8" cy="385.7" r="1.75"/><circle cx="127.2" cy="385.8" r="1.75"/><circle cx="130.8" cy="385.5" r="1.75"/><circle cx="132.9" cy="385.4" r="1.75"/><circle cx="134.9" cy="385.5" r="1.75"/><circle cx="138.0" cy="385.9" r="1.75"/><circle cx="140.0" cy="385.8" r="1.75"/><circle cx="145.5" cy="385.4" r="1.75"/><circle cx="116.5" cy="377.0" r="1.75"/><circle cx="120.0" cy="377.6" r="1.75"/><circle cx="123.4" cy="373.7" r="1.75"/><circle cx="127.3" cy="372.9" r="1.75"/><circle cx="136.6" cy="376.6" r="1.75"/><circle cx="138.2" cy="376.5" r="1.75"/><circle cx="140.4" cy="375.6" r="1.75"/><circle cx="142.1" cy="372.7" r="1.75"/><circle cx="140.2" cy="375.0" r="1.75"/></g>
<path d="M145.3,386.3 L144.8,374.5 L146.4,372.7 L147.3,372.6 L148.3,372.8 L149.2,377.0 L150.1,376.7 L151.0,371.1 L152.0,370.9 L152.9,371.1 L153.8,377.2 L154.8,376.3 L155.7,372.2 L156.6,372.0 L157.5,372.2 L158.5,374.3 L159.4,375.9 L160.3,376.2 L161.3,375.9 L162.2,375.4 L163.1,374.7 L164.0,374.4 L165.0,374.7 L165.9,375.5 L167.5,377.4 L166.9,386.3Z" fill="#cbcbcb"/>
<path d="M165.5,386.3 L165.0,376.5 L166.6,372.5 L167.5,372.2 L168.5,372.5 L169.4,372.9 L170.3,375.1 L171.3,375.1 L172.2,372.3 L173.1,372.0 L174.1,372.3 L175.0,375.0 L175.9,374.7 L176.9,373.2 L177.8,372.0 L178.8,371.7 L179.7,372.0 L180.6,373.2 L181.6,374.7 L182.5,375.1 L183.4,374.1 L184.4,372.6 L185.3,372.4 L186.2,372.6 L187.2,373.0 L188.1,373.2 L189.1,375.5 L190.6,377.3 L190.1,386.3Z" fill="#cbcbcb"/>
<g fill="#cbcbcb"><circle cx="150.3" cy="385.4" r="1.75"/><circle cx="153.5" cy="385.4" r="1.75"/><circle cx="155.3" cy="385.8" r="1.75"/><circle cx="157.9" cy="385.6" r="1.75"/><circle cx="159.1" cy="385.9" r="1.75"/><circle cx="161.3" cy="385.8" r="1.75"/><circle cx="148.2" cy="373.6" r="1.75"/><circle cx="150.4" cy="378.8" r="1.75"/><circle cx="153.5" cy="379.4" r="1.75"/><circle cx="157.3" cy="373.0" r="1.75"/><circle cx="164.7" cy="375.8" r="1.75"/><circle cx="150.8" cy="375.2" r="1.75"/><circle cx="170.1" cy="385.9" r="1.75"/><circle cx="172.5" cy="385.5" r="1.75"/><circle cx="174.1" cy="385.3" r="1.75"/><circle cx="176.0" cy="385.9" r="1.75"/><circle cx="177.6" cy="385.5" r="1.75"/><circle cx="179.5" cy="385.7" r="1.75"/><circle cx="181.4" cy="385.9" r="1.75"/><circle cx="189.3" cy="385.9" r="1.75"/><circle cx="166.2" cy="374.3" r="1.75"/><circle cx="168.8" cy="374.6" r="1.75"/><circle cx="170.1" cy="375.7" r="1.75"/><circle cx="174.1" cy="373.5" r="1.75"/><circle cx="175.6" cy="374.4" r="1.75"/><circle cx="185.7" cy="373.1" r="1.75"/><circle cx="180.0" cy="374.0" r="1.75"/></g>
<path d="M188.0,386.3 L187.5,376.3 L189.1,369.6 L190.0,369.3 L191.0,369.6 L192.0,373.0 L192.9,373.3 L193.9,374.1 L194.9,373.6 L195.9,372.9 L196.8,372.6 L197.8,372.9 L198.8,374.1 L199.7,375.1 L201.3,376.8 L200.8,386.3Z" fill="#9d9d9d"/>
<path d="M199.3,386.3 L198.8,376.2 L200.4,374.4 L201.3,374.7 L202.2,375.5 L203.1,376.2 L204.0,375.7 L204.9,372.1 L205.8,371.0 L206.7,370.7 L207.6,371.0 L208.5,372.0 L209.4,372.2 L210.3,372.4 L211.2,372.2 L212.1,372.4 L213.1,372.3 L214.0,372.1 L214.9,372.3 L215.8,370.9 L216.7,370.7 L217.6,370.9 L218.5,375.0 L219.4,374.8 L220.3,375.0 L221.2,374.9 L222.1,375.0 L223.0,375.0 L223.9,374.8 L224.8,374.2 L225.7,373.9 L226.6,374.2 L227.5,375.3 L228.4,375.5 L229.3,375.3 L230.2,375.6 L231.8,378.3 L231.3,386.3Z" fill="#9d9d9d"/>
<g fill="#9d9d9d"><circle cx="191.4" cy="385.8" r="1.75"/><circle cx="193.1" cy="385.8" r="1.75"/><circle cx="194.5" cy="385.5" r="1.75"/><circle cx="193.2" cy="373.7" r="1.75"/><circle cx="198.5" cy="374.9" r="1.75"/><circle cx="200.8" cy="385.9" r="1.75"/><circle cx="202.1" cy="385.4" r="1.75"/><circle cx="204.3" cy="385.4" r="1.75"/><circle cx="205.5" cy="385.4" r="1.75"/><circle cx="210.9" cy="385.8" r="1.75"/><circle cx="215.0" cy="385.5" r="1.75"/><circle cx="218.4" cy="385.8" r="1.75"/><circle cx="222.4" cy="385.8" r="1.75"/><circle cx="223.7" cy="385.7" r="1.75"/><circle cx="227.3" cy="385.5" r="1.75"/><circle cx="203.6" cy="375.4" r="1.75"/><circle cx="209.7" cy="374.2" r="1.75"/><circle cx="214.9" cy="374.0" r="1.75"/><circle cx="218.3" cy="377.1" r="1.75"/><circle cx="221.7" cy="372.4" r="1.75"/></g>
<path d="M229.2,386.3 L228.7,374.4 L230.2,372.7 L231.1,372.9 L232.1,373.9 L233.0,372.3 L233.9,372.0 L234.8,372.3 L235.7,373.6 L236.6,373.3 L237.5,373.5 L238.4,368.5 L239.3,368.3 L240.2,368.5 L241.8,374.3 L241.3,386.3Z" fill="#cbcbcb"/>
<path d="M239.8,386.3 L239.3,370.9 L240.9,369.1 L241.8,369.4 L242.7,370.6 L243.6,370.8 L244.5,370.0 L245.5,369.8 L246.4,370.0 L247.3,373.0 L248.2,374.2 L249.1,374.0 L250.0,374.0 L250.9,374.3 L251.9,373.7 L252.8,372.6 L253.7,372.4 L254.6,372.6 L255.5,374.6 L256.4,374.7 L257.3,374.5 L258.2,374.7 L259.2,375.1 L260.1,374.8 L261.0,375.1 L261.9,375.3 L262.8,373.9 L263.7,373.7 L264.6,373.9 L265.6,373.6 L266.5,373.9 L267.4,373.6 L268.3,373.9 L269.2,375.4 L270.8,377.1 L270.3,386.3Z" fill="#cbcbcb"/>
<g fill="#cbcbcb"><circle cx="230.3" cy="385.7" r="1.75"/><circle cx="231.7" cy="385.5" r="1.75"/><circle cx="233.8" cy="385.7" r="1.75"/><circle cx="237.7" cy="385.6" r="1.75"/><circle cx="239.0" cy="385.6" r="1.75"/><circle cx="232.3" cy="373.6" r="1.75"/><circle cx="233.8" cy="372.2" r="1.75"/><circle cx="241.2" cy="385.4" r="1.75"/><circle cx="244.4" cy="385.5" r="1.75"/><circle cx="246.3" cy="385.6" r="1.75"/><circle cx="253.5" cy="385.9" r="1.75"/><circle cx="257.0" cy="385.7" r="1.75"/><circle cx="258.9" cy="385.5" r="1.75"/><circle cx="264.8" cy="385.5" r="1.75"/><circle cx="266.3" cy="385.3" r="1.75"/><circle cx="268.3" cy="385.8" r="1.75"/><circle cx="255.6" cy="375.6" r="1.75"/><circle cx="257.2" cy="376.3" r="1.75"/><circle cx="259.5" cy="375.7" r="1.75"/><circle cx="266.4" cy="375.1" r="1.75"/><circle cx="241.4" cy="374.4" r="1.75"/></g>
<path d="M268.2,386.3 L267.6,374.4 L269.2,372.6 L270.1,372.9 L271.0,373.0 L271.9,372.5 L272.8,372.2 L273.7,372.5 L274.6,374.0 L275.6,376.6 L276.5,376.8 L277.4,372.2 L278.3,371.9 L279.2,372.2 L280.1,373.8 L281.0,374.0 L281.9,374.3 L283.5,376.1 L282.9,386.3Z" fill="#9d9d9d"/>
<path d="M281.5,386.3 L281.0,374.7 L282.5,371.9 L283.4,371.6 L284.3,371.9 L285.2,373.2 L286.2,375.2 L287.1,374.7 L288.0,374.4 L288.9,374.2 L289.8,374.4 L290.7,374.9 L291.6,375.1 L292.5,374.8 L293.4,375.1 L294.3,372.8 L295.2,372.5 L296.1,372.8 L297.0,373.8 L297.9,372.5 L298.8,372.3 L299.7,372.5 L300.6,376.0 L301.6,374.5 L302.5,374.2 L303.4,374.5 L304.3,376.6 L305.2,375.3 L306.1,375.0 L307.7,376.8 L307.1,386.3Z" fill="#9d9d9d"/>
<g fill="#9d9d9d"><circle cx="269.6" cy="385.8" r="1.75"/><circle cx="276.6" cy="385.8" r="1.75"/><circle cx="279.7" cy="385.7" r="1.75"/><circle cx="281.9" cy="385.9" r="1.75"/><circle cx="274.8" cy="373.8" r="1.75"/><circle cx="277.9" cy="373.2" r="1.75"/><circle cx="282.9" cy="385.9" r="1.75"/><circle cx="290.0" cy="385.5" r="1.75"/><circle cx="291.3" cy="385.6" r="1.75"/><circle cx="293.2" cy="385.7" r="1.75"/><circle cx="295.5" cy="385.7" r="1.75"/><circle cx="298.8" cy="385.9" r="1.75"/><circle cx="300.4" cy="385.4" r="1.75"/><circle cx="302.7" cy="385.3" r="1.75"/><circle cx="304.4" cy="385.5" r="1.75"/><circle cx="305.7" cy="385.7" r="1.75"/><circle cx="284.3" cy="373.9" r="1.75"/><circle cx="286.4" cy="375.2" r="1.75"/><circle cx="289.8" cy="374.7" r="1.75"/><circle cx="293.3" cy="375.6" r="1.75"/><circle cx="298.9" cy="373.8" r="1.75"/><circle cx="304.3" cy="376.5" r="1.75"/><circle cx="285.3" cy="373.9" r="1.75"/></g>
<path d="M305.0,386.3 L304.5,376.6 L306.1,374.5 L307.0,374.2 L308.0,374.1 L309.0,369.7 L309.9,369.5 L310.9,369.7 L311.9,369.8 L312.8,370.1 L313.8,367.5 L314.7,367.2 L315.7,367.5 L316.7,371.1 L317.6,371.4 L318.6,372.5 L320.2,376.4 L319.6,386.3Z" fill="#cbcbcb"/>
<path d="M318.3,386.3 L317.8,375.9 L319.4,374.1 L320.3,374.4 L321.2,372.0 L322.1,371.7 L323.0,372.0 L323.9,372.4 L324.9,372.2 L325.8,372.0 L326.7,371.1 L327.6,369.8 L328.5,369.6 L329.4,369.8 L330.3,370.5 L331.2,373.9 L332.2,372.1 L333.1,371.5 L334.0,371.2 L334.9,371.5 L335.8,372.4 L336.7,373.3 L337.6,373.0 L338.5,373.3 L339.5,374.1 L340.4,375.0 L341.9,376.7 L341.4,386.3Z" fill="#cbcbcb"/>
<g fill="#cbcbcb"><circle cx="306.1" cy="385.7" r="1.75"/><circle cx="308.0" cy="385.4" r="1.75"/><circle cx="310.1" cy="385.3" r="1.75"/><circle cx="312.0" cy="385.8" r="1.75"/><circle cx="314.1" cy="385.6" r="1.75"/><circle cx="316.0" cy="385.8" r="1.75"/><circle cx="317.8" cy="385.7" r="1.75"/><circle cx="306.3" cy="376.2" r="1.75"/><circle cx="309.6" cy="371.7" r="1.75"/><circle cx="311.8" cy="370.4" r="1.75"/><circle cx="316.0" cy="367.7" r="1.75"/><circle cx="317.8" cy="372.9" r="1.75"/><circle cx="323.0" cy="385.9" r="1.75"/><circle cx="324.5" cy="385.4" r="1.75"/><circle cx="326.9" cy="385.8" r="1.75"/><circle cx="336.2" cy="385.8" r="1.75"/><circle cx="337.4" cy="385.4" r="1.75"/><circle cx="339.7" cy="385.6" r="1.75"/><circle cx="320.9" cy="372.9" r="1.75"/><circle cx="324.5" cy="372.8" r="1.75"/><circle cx="327.0" cy="373.1" r="1.75"/><circle cx="333.8" cy="372.8" r="1.75"/><circle cx="336.0" cy="372.7" r="1.75"/><circle cx="322.5" cy="373.5" r="1.75"/></g>
<path d="M339.3,386.3 L338.8,378.0 L340.4,374.8 L341.3,374.5 L342.3,374.5 L343.2,374.3 L344.1,372.2 L345.1,372.0 L346.0,372.2 L347.0,374.1 L347.9,372.6 L348.9,372.4 L349.8,372.6 L351.4,375.4 L350.9,386.3Z" fill="#9d9d9d"/>
<path d="M349.4,386.3 L348.9,376.8 L350.5,374.4 L351.4,374.1 L352.3,374.4 L353.2,374.4 L354.2,374.7 L355.1,374.6 L356.0,372.5 L357.0,372.2 L357.9,372.2 L358.8,371.9 L359.8,372.2 L360.7,374.9 L361.6,375.2 L362.6,375.3 L363.5,375.0 L364.4,373.9 L365.4,373.0 L366.3,368.6 L367.2,367.5 L368.2,367.2 L369.1,367.5 L370.0,368.3 L371.0,371.2 L371.9,371.5 L373.5,377.1 L373.0,386.3Z" fill="#9d9d9d"/>
<g fill="#9d9d9d"><circle cx="340.3" cy="385.8" r="1.75"/><circle cx="342.0" cy="385.4" r="1.75"/><circle cx="344.4" cy="385.5" r="1.75"/><circle cx="349.6" cy="385.7" r="1.75"/><circle cx="346.3" cy="373.2" r="1.75"/><circle cx="350.2" cy="374.1" r="1.75"/><circle cx="350.7" cy="385.6" r="1.75"/><circle cx="353.9" cy="385.7" r="1.75"/><circle cx="360.0" cy="385.9" r="1.75"/><circle cx="362.0" cy="385.6" r="1.75"/><circle cx="363.3" cy="385.6" r="1.75"/><circle cx="370.9" cy="385.8" r="1.75"/><circle cx="352.2" cy="376.1" r="1.75"/><circle cx="359.7" cy="373.3" r="1.75"/><circle cx="361.3" cy="376.0" r="1.75"/><circle cx="367.6" cy="367.7" r="1.75"/><circle cx="363.5" cy="374.1" r="1.75"/></g>
<path d="M370.9,386.3 L370.3,376.6 L371.9,374.9 L372.8,374.7 L373.8,374.9 L374.7,374.3 L375.6,372.9 L376.6,372.6 L377.5,372.9 L378.4,373.7 L379.4,374.0 L380.3,374.6 L381.9,376.3 L381.4,386.3Z" fill="#cbcbcb"/>
<path d="M386.0,386.3 L385.5,376.6 L387.1,374.9 L388.0,374.6 L389.0,365.2 L389.9,365.0 L390.9,365.2 L391.9,372.1 L392.8,372.4 L393.8,374.0 L394.7,373.5 L395.7,372.7 L396.6,372.4 L397.6,372.7 L398.5,374.5 L399.5,374.2 L400.4,374.5 L401.4,376.4 L402.3,376.7 L403.9,378.4 L403.4,386.3Z" fill="#cbcbcb"/>
<g fill="#cbcbcb"><circle cx="371.6" cy="385.7" r="1.75"/><circle cx="373.8" cy="385.5" r="1.75"/><circle cx="377.1" cy="385.9" r="1.75"/><circle cx="379.0" cy="385.5" r="1.75"/><circle cx="377.6" cy="372.7" r="1.75"/><circle cx="398.6" cy="385.4" r="1.75"/><circle cx="400.2" cy="385.4" r="1.75"/><circle cx="387.2" cy="375.2" r="1.75"/><circle cx="396.6" cy="373.9" r="1.75"/><circle cx="398.4" cy="374.5" r="1.75"/><circle cx="400.6" cy="375.2" r="1.75"/></g>
<path d="M401.3,386.3 L400.8,375.0 L402.3,373.2 L403.3,373.5 L404.2,374.5 L405.1,374.2 L406.1,373.1 L407.0,372.9 L408.0,373.1 L408.9,374.7 L409.8,374.2 L410.8,373.9 L412.3,375.6 L411.8,386.3Z" fill="#9d9d9d"/>
<path d="M410.4,386.3 L409.9,376.3 L411.4,372.7 L412.4,371.6 L413.3,371.4 L414.2,371.6 L415.1,371.5 L416.0,371.7 L416.9,373.6 L417.8,373.4 L418.7,373.3 L419.7,373.5 L420.6,374.0 L421.5,374.0 L422.4,372.6 L423.3,372.4 L424.2,372.6 L425.1,373.2 L426.0,373.5 L427.0,375.5 L427.9,372.0 L428.8,371.8 L429.7,372.0 L430.6,372.4 L431.5,372.6 L433.1,378.0 L432.6,386.3Z" fill="#9d9d9d"/>
<g fill="#9d9d9d"><circle cx="402.2" cy="385.6" r="1.75"/><circle cx="403.9" cy="385.8" r="1.75"/><circle cx="406.3" cy="385.7" r="1.75"/><circle cx="402.3" cy="373.4" r="1.75"/><circle cx="406.0" cy="372.7" r="1.75"/><circle cx="411.2" cy="385.7" r="1.75"/><circle cx="413.0" cy="385.7" r="1.75"/><circle cx="415.2" cy="385.8" r="1.75"/><circle cx="416.7" cy="385.5" r="1.75"/><circle cx="422.8" cy="385.5" r="1.75"/><circle cx="423.9" cy="385.9" r="1.75"/><circle cx="426.3" cy="385.8" r="1.75"/><circle cx="431.8" cy="385.5" r="1.75"/><circle cx="415.4" cy="373.1" r="1.75"/><circle cx="420.6" cy="373.7" r="1.75"/><circle cx="431.7" cy="374.3" r="1.75"/><circle cx="431.0" cy="372.5" r="1.75"/></g>
<path d="M430.5,386.3 L430.0,375.7 L431.5,374.0 L432.5,373.6 L433.4,373.3 L434.3,373.6 L435.2,373.8 L436.1,374.0 L437.1,372.6 L438.0,372.4 L438.9,370.5 L439.8,370.2 L440.8,370.2 L441.7,370.5 L442.6,371.7 L444.2,375.7 L443.7,386.3Z" fill="#cbcbcb"/>
<path d="M442.3,386.3 L441.8,376.1 L443.4,373.9 L444.3,373.6 L445.2,373.9 L446.1,374.8 L447.0,375.3 L447.9,375.2 L448.8,375.0 L449.7,374.1 L450.6,373.8 L451.5,369.8 L452.4,369.6 L453.4,369.8 L454.3,370.2 L455.2,370.4 L456.1,373.7 L457.0,371.6 L457.9,371.4 L458.8,371.6 L459.7,374.1 L460.6,373.8 L462.2,375.6 L461.7,386.3Z" fill="#cbcbcb"/>
<g fill="#cbcbcb"><circle cx="431.9" cy="385.7" r="1.75"/><circle cx="433.1" cy="385.9" r="1.75"/><circle cx="439.0" cy="385.8" r="1.75"/><circle cx="443.0" cy="385.6" r="1.75"/><circle cx="448.9" cy="385.6" r="1.75"/><circle cx="454.0" cy="385.4" r="1.75"/><circle cx="457.8" cy="385.8" r="1.75"/><circle cx="456.3" cy="375.1" r="1.75"/><circle cx="458.0" cy="372.2" r="1.75"/></g>
<path d="M459.6,386.3 L459.0,376.7 L460.6,374.0 L461.5,372.6 L462.5,372.4 L463.4,372.6 L464.4,373.0 L465.3,371.1 L466.2,370.8 L467.2,371.1 L468.1,374.5 L469.7,376.3 L469.2,386.3Z" fill="#9d9d9d"/>
<path d="M467.7,386.3 L467.2,377.1 L468.8,375.3 L469.7,374.6 L470.6,374.3 L471.6,373.4 L472.5,368.8 L473.5,368.5 L474.4,368.8 L475.3,369.7 L476.3,369.9 L477.2,372.2 L478.2,373.9 L479.1,374.5 L480.0,374.8 L481.0,371.4 L481.9,371.2 L482.9,371.4 L483.8,373.8 L484.7,373.5 L485.7,373.8 L486.6,374.1 L487.6,372.5 L488.5,372.3 L489.4,372.5 L491.0,375.2 L490.5,386.3Z" fill="#9d9d9d"/>
<g fill="#9d9d9d"><circle cx="460.4" cy="385.5" r="1.75"/><circle cx="464.6" cy="385.9" r="1.75"/><circle cx="462.3" cy="372.1" r="1.75"/><circle cx="468.8" cy="385.8" r="1.75"/><circle cx="470.9" cy="385.5" r="1.75"/><circle cx="474.5" cy="385.6" r="1.75"/><circle cx="476.1" cy="385.4" r="1.75"/><circle cx="478.0" cy="385.8" r="1.75"/><circle cx="480.1" cy="385.9" r="1.75"/><circle cx="484.0" cy="385.8" r="1.75"/><circle cx="485.6" cy="385.3" r="1.75"/><circle cx="489.7" cy="385.6" r="1.75"/><circle cx="476.3" cy="371.4" r="1.75"/><circle cx="482.1" cy="372.7" r="1.75"/><circle cx="483.7" cy="374.4" r="1.75"/><circle cx="485.7" cy="374.4" r="1.75"/><circle cx="480.0" cy="375.1" r="1.75"/></g>
<path d="M492.6,386.3 L492.0,372.3 L493.6,370.5 L494.5,370.8 L495.5,371.9 L496.4,375.3 L497.4,372.3 L498.3,372.0 L499.2,369.4 L500.2,369.2 L501.1,369.4 L502.1,370.3 L503.0,370.0 L503.9,370.3 L504.9,370.4 L505.8,370.6 L506.8,371.2 L507.7,375.0 L508.6,375.3 L509.6,375.0 L510.5,375.3 L511.4,374.5 L512.4,374.2 L513.3,374.5 L514.3,374.5 L515.8,376.3 L515.3,386.3Z" fill="#cbcbcb"/>
<g fill="#cbcbcb"><circle cx="497.5" cy="385.4" r="1.75"/><circle cx="499.4" cy="385.5" r="1.75"/><circle cx="501.3" cy="385.4" r="1.75"/><circle cx="503.2" cy="385.7" r="1.75"/><circle cx="507.0" cy="385.4" r="1.75"/><circle cx="508.6" cy="385.9" r="1.75"/><circle cx="512.2" cy="385.4" r="1.75"/><circle cx="513.9" cy="385.5" r="1.75"/><circle cx="497.7" cy="373.9" r="1.75"/><circle cx="499.3" cy="371.0" r="1.75"/><circle cx="509.0" cy="376.2" r="1.75"/><circle cx="512.2" cy="375.1" r="1.75"/><circle cx="504.1" cy="372.1" r="1.75"/></g>
<path d="M517.4,386.3 L516.8,374.9 L518.4,370.7 L519.3,370.4 L520.2,370.6 L521.1,370.9 L522.0,373.1 L522.9,372.6 L523.8,372.3 L524.7,372.6 L525.6,373.2 L526.5,373.6 L527.5,371.5 L528.4,371.3 L529.3,371.5 L530.2,373.2 L531.1,373.5 L532.0,373.8 L532.9,372.1 L533.8,369.5 L534.7,369.3 L535.6,369.5 L536.5,370.6 L537.4,373.5 L539.0,375.3 L538.4,386.3Z" fill="#9d9d9d"/>
<g fill="#9d9d9d"><circle cx="518.7" cy="385.8" r="1.75"/><circle cx="524.0" cy="385.7" r="1.75"/><circle cx="534.8" cy="385.8" r="1.75"/><circle cx="536.4" cy="385.7" r="1.75"/><circle cx="518.2" cy="372.3" r="1.75"/><circle cx="521.8" cy="375.2" r="1.75"/><circle cx="529.3" cy="371.3" r="1.75"/><circle cx="530.8" cy="374.7" r="1.75"/><circle cx="526.0" cy="373.7" r="1.75"/></g>
<path d="M540.7,386.3 L540.2,377.1 L541.8,375.3 L542.7,375.6 L543.6,375.6 L544.6,375.4 L545.5,372.1 L546.4,371.8 L547.4,372.1 L548.3,372.1 L549.2,371.8 L550.2,372.1 L551.1,375.4 L552.0,375.3 L553.0,375.1 L553.9,375.2 L554.8,375.4 L555.7,373.4 L556.7,373.2 L557.6,373.4 L558.5,375.6 L559.5,375.8 L561.1,377.7 L560.5,386.3Z" fill="#cbcbcb"/>
<g fill="#cbcbcb"><circle cx="542.1" cy="385.7" r="1.75"/><circle cx="545.3" cy="385.5" r="1.75"/><circle cx="549.3" cy="385.5" r="1.75"/><circle cx="551.3" cy="385.4" r="1.75"/><circle cx="555.0" cy="385.7" r="1.75"/><circle cx="556.7" cy="385.7" r="1.75"/><circle cx="558.2" cy="385.6" r="1.75"/><circle cx="541.6" cy="376.2" r="1.75"/><circle cx="551.1" cy="377.5" r="1.75"/><circle cx="553.1" cy="376.0" r="1.75"/><circle cx="555.0" cy="376.0" r="1.75"/></g>
<path d="M558.4,386.3 L557.9,378.4 L559.5,376.7 L560.4,375.4 L561.4,373.2 L562.3,371.2 L563.3,371.0 L564.2,371.2 L565.2,374.5 L566.1,375.0 L567.1,375.2 L568.7,377.9 L568.1,386.3Z" fill="#9d9d9d"/>
<path d="M568.4,386.3 L567.9,378.0 L569.5,374.9 L570.4,374.3 L571.4,374.0 L572.3,371.3 L573.3,371.1 L574.2,371.3 L575.2,371.1 L576.1,370.8 L577.1,371.1 L578.0,371.7 L578.9,376.1 L580.5,377.8 L580.0,386.3Z" fill="#9d9d9d"/>
<g fill="#9d9d9d"><circle cx="561.2" cy="385.5" r="1.75"/><circle cx="565.2" cy="385.8" r="1.75"/><circle cx="566.8" cy="385.5" r="1.75"/><circle cx="565.3" cy="376.4" r="1.75"/><circle cx="571.5" cy="385.9" r="1.75"/><circle cx="573.3" cy="385.9" r="1.75"/><circle cx="575.2" cy="385.7" r="1.75"/><circle cx="577.3" cy="385.8" r="1.75"/><circle cx="571.4" cy="374.6" r="1.75"/></g>
<path d="M577.9,386.3 L577.4,375.6 L578.9,373.9 L579.9,374.2 L580.9,375.3 L581.8,376.7 L582.8,376.2 L583.7,375.9 L585.3,377.7 L584.8,386.3Z" fill="#cbcbcb"/>
<path d="M583.3,386.3 L582.8,376.1 L584.4,374.4 L585.3,374.7 L586.2,376.6 L587.2,378.1 L588.1,374.6 L589.0,374.4 L589.9,374.1 L590.9,374.4 L591.8,376.0 L592.7,376.9 L593.7,376.3 L594.6,371.3 L595.5,371.0 L596.4,371.3 L598.0,378.2 L597.5,386.3Z" fill="#cbcbcb"/>
<g fill="#cbcbcb"><circle cx="581.1" cy="385.5" r="1.75"/><circle cx="583.1" cy="385.7" r="1.75"/><circle cx="582.6" cy="375.9" r="1.75"/><circle cx="588.5" cy="385.5" r="1.75"/><circle cx="593.4" cy="385.3" r="1.75"/><circle cx="586.4" cy="377.8" r="1.75"/><circle cx="591.7" cy="377.7" r="1.75"/></g>
<path d="M595.4,386.3 L594.9,376.0 L596.4,374.0 L597.5,373.6 L598.7,371.5 L599.8,371.1 L601.3,372.9 L600.8,386.3Z" fill="#9d9d9d"/>
<path d="M599.4,386.3 L598.8,377.7 L600.4,375.8 L601.3,372.5 L602.3,369.1 L603.2,368.8 L604.1,369.1 L605.0,374.3 L605.9,374.6 L606.8,375.7 L607.8,375.2 L608.7,372.8 L609.6,372.5 L610.5,372.8 L611.4,373.0 L612.3,375.5 L613.3,375.2 L614.8,377.0 L614.3,386.3Z" fill="#9d9d9d"/>
<g fill="#9d9d9d"><circle cx="598.3" cy="385.6" r="1.75"/><circle cx="596.2" cy="376.0" r="1.75"/><circle cx="604.4" cy="385.4" r="1.75"/><circle cx="607.6" cy="385.9" r="1.75"/><circle cx="611.7" cy="385.4" r="1.75"/><circle cx="613.1" cy="385.7" r="1.75"/><circle cx="602.0" cy="368.7" r="1.75"/><circle cx="604.0" cy="370.0" r="1.75"/></g>
<path d="M612.2,386.3 L611.7,373.2 L613.3,371.4 L614.3,371.8 L615.4,375.7 L616.4,376.1 L617.5,376.3 L618.5,376.7 L620.1,378.7 L619.6,386.3Z" fill="#cbcbcb"/>
<path d="M618.4,386.3 L617.8,376.7 L619.4,372.8 L620.3,372.5 L621.3,372.8 L622.2,368.4 L623.2,368.1 L624.1,368.4 L625.1,374.7 L626.0,375.0 L627.6,377.3 L627.0,386.3Z" fill="#cbcbcb"/>
<g fill="#cbcbcb"><circle cx="617.1" cy="376.5" r="1.75"/><circle cx="619.0" cy="385.6" r="1.75"/><circle cx="621.5" cy="385.4" r="1.75"/><circle cx="625.1" cy="385.8" r="1.75"/></g>
<path d="M624.9,386.3 L624.4,374.2 L626.0,372.5 L626.9,372.2 L627.9,372.0 L628.8,372.2 L629.8,374.5 L630.7,374.4 L631.7,374.6 L633.2,376.4 L632.7,386.3Z" fill="#9d9d9d"/>
<path d="M631.4,386.3 L630.8,376.5 L632.4,373.9 L633.4,373.6 L634.5,373.9 L635.5,375.3 L636.5,376.1 L637.5,375.3 L638.6,375.0 L639.6,375.3 L641.2,377.8 L640.6,386.3Z" fill="#9d9d9d"/>
<g fill="#9d9d9d"><circle cx="625.8" cy="385.7" r="1.75"/><circle cx="628.2" cy="385.9" r="1.75"/><circle cx="629.9" cy="385.4" r="1.75"/><circle cx="631.7" cy="385.7" r="1.75"/><circle cx="632.1" cy="385.5" r="1.75"/><circle cx="634.2" cy="385.5" r="1.75"/><circle cx="638.5" cy="385.3" r="1.75"/><circle cx="636.5" cy="376.3" r="1.75"/></g>
<path d="M640.7,386.3 L640.2,379.4 L641.7,376.6 L642.6,376.3 L643.6,375.6 L644.5,375.3 L645.4,375.6 L646.3,374.1 L647.2,373.8 L648.1,373.7 L649.0,373.4 L649.9,373.7 L651.5,375.8 L651.0,386.3Z" fill="#cbcbcb"/>
<g fill="#cbcbcb"><circle cx="645.1" cy="385.8" r="1.75"/><circle cx="648.8" cy="385.8" r="1.75"/><circle cx="641.6" cy="376.4" r="1.75"/><circle cx="645.7" cy="377.8" r="1.75"/><circle cx="648.7" cy="373.5" r="1.75"/></g>
<path d="M652.5,386.3 L651.9,374.2 L653.5,372.0 L654.4,371.8 L655.4,372.0 L656.3,371.7 L657.3,372.0 L658.2,372.6 L659.1,371.6 L660.1,371.3 L661.0,371.6 L662.6,374.2 L662.0,386.3Z" fill="#9d9d9d"/>
<g fill="#9d9d9d"><circle cx="655.5" cy="385.5" r="1.75"/><circle cx="657.3" cy="385.5" r="1.75"/><circle cx="659.1" cy="385.8" r="1.75"/><circle cx="660.9" cy="385.5" r="1.75"/><circle cx="653.2" cy="371.9" r="1.75"/><circle cx="659.5" cy="371.1" r="1.75"/></g>
<line x1="39.3" x2="662" y1="364.36" y2="364.36" stroke="#333" stroke-width="1.25" stroke-dasharray="5.3 5.787"/>
<line x1="39.3" x2="662" y1="366.43" y2="366.43" stroke="#333" stroke-width="1.2" stroke-dasharray="1.2 4.3435"/>
<text x="32.8" y="389.62" font-size="10.7" fill="#4d4d4d" text-anchor="end">0</text>
<text x="32.8" y="376.34" font-size="10.7" fill="#4d4d4d" text-anchor="end">5</text>
<text x="32.8" y="363.06" font-size="10.7" fill="#4d4d4d" text-anchor="end">10</text>
<text x="32.8" y="349.78" font-size="10.7" fill="#4d4d4d" text-anchor="end">15</text>
<text x="32.8" y="336.50" font-size="10.7" fill="#4d4d4d" text-anchor="end">20</text>
<text x="32.8" y="323.22" font-size="10.7" fill="#4d4d4d" text-anchor="end">25</text>
<line x1="39.4" x2="662.1" y1="464.46" y2="464.46" stroke="#e8e8e8" stroke-width="1.0"/>
<line x1="39.4" x2="662.1" y1="457.82" y2="457.82" stroke="#f1f1f1" stroke-width="0.8"/>
<line x1="39.4" x2="662.1" y1="451.18" y2="451.18" stroke="#e8e8e8" stroke-width="1.0"/>
<line x1="39.4" x2="662.1" y1="444.54" y2="444.54" stroke="#f1f1f1" stroke-width="0.8"/>
<line x1="39.4" x2="662.1" y1="437.90" y2="437.90" stroke="#e8e8e8" stroke-width="1.0"/>
<line x1="39.4" x2="662.1" y1="431.26" y2="431.26" stroke="#f1f1f1" stroke-width="0.8"/>
<line x1="39.4" x2="662.1" y1="424.62" y2="424.62" stroke="#e8e8e8" stroke-width="1.0"/>
<line x1="39.4" x2="662.1" y1="417.98" y2="417.98" stroke="#f1f1f1" stroke-width="0.8"/>
<line x1="39.4" x2="662.1" y1="411.34" y2="411.34" stroke="#e8e8e8" stroke-width="1.0"/>
<line x1="39.4" x2="662.1" y1="404.70" y2="404.70" stroke="#f1f1f1" stroke-width="0.8"/>
<line x1="39.4" x2="662.1" y1="398.06" y2="398.06" stroke="#e8e8e8" stroke-width="1.0"/>
<path d="M39.2,465.0 L38.7,453.7 L40.3,452.0 L41.2,448.9 L42.1,448.1 L43.0,447.9 L43.9,448.1 L44.8,449.6 L45.7,452.0 L46.6,449.5 L47.5,449.3 L48.4,448.9 L49.3,448.6 L50.2,448.7 L51.1,448.9 L52.0,451.8 L52.9,452.1 L53.8,450.9 L54.7,450.6 L55.6,450.9 L56.5,452.4 L57.5,452.6 L58.4,453.5 L59.3,453.5 L60.2,453.1 L61.1,452.9 L62.0,453.1 L62.9,452.9 L63.8,453.2 L64.7,454.1 L65.6,453.5 L66.5,453.3 L68.1,455.0 L67.5,465.0Z" fill="#cbcbcb"/>
<path d="M70.0,465.0 L69.4,451.0 L71.0,449.2 L71.9,449.5 L72.8,451.9 L73.8,449.1 L74.7,447.6 L75.6,447.4 L76.5,447.6 L77.4,448.1 L78.4,448.4 L79.3,451.7 L80.2,451.4 L81.1,451.6 L82.0,451.3 L83.0,451.0 L83.9,451.2 L84.8,451.4 L85.7,451.5 L86.6,451.2 L87.6,451.4 L88.5,450.1 L89.4,449.9 L90.3,450.1 L91.2,450.0 L92.2,449.7 L93.1,446.9 L94.0,446.7 L95.6,448.4 L95.0,465.0Z" fill="#cbcbcb"/>
<g fill="#cbcbcb"><circle cx="39.9" cy="464.2" r="1.75"/><circle cx="49.5" cy="464.6" r="1.75"/><circle cx="52.8" cy="464.4" r="1.75"/><circle cx="56.9" cy="464.4" r="1.75"/><circle cx="58.1" cy="464.1" r="1.75"/><circle cx="62.3" cy="464.1" r="1.75"/><circle cx="45.5" cy="452.0" r="1.75"/><circle cx="49.1" cy="449.1" r="1.75"/><circle cx="53.0" cy="453.5" r="1.75"/><circle cx="55.1" cy="451.6" r="1.75"/><circle cx="56.7" cy="453.5" r="1.75"/><circle cx="58.0" cy="455.3" r="1.75"/><circle cx="60.5" cy="453.1" r="1.75"/><circle cx="61.8" cy="453.9" r="1.75"/><circle cx="65.2" cy="454.0" r="1.75"/><circle cx="64.7" cy="449.3" r="1.75"/><circle cx="73.2" cy="464.1" r="1.75"/><circle cx="75.0" cy="464.4" r="1.75"/><circle cx="78.2" cy="464.4" r="1.75"/><circle cx="81.9" cy="464.5" r="1.75"/><circle cx="85.9" cy="464.4" r="1.75"/><circle cx="87.6" cy="464.0" r="1.75"/><circle cx="91.5" cy="464.1" r="1.75"/><circle cx="74.3" cy="448.5" r="1.75"/><circle cx="76.5" cy="449.6" r="1.75"/><circle cx="83.7" cy="452.2" r="1.75"/><circle cx="91.3" cy="450.0" r="1.75"/><circle cx="84.1" cy="450.1" r="1.75"/></g>
<path d="M92.9,465.0 L92.4,447.0 L94.0,445.3 L94.9,445.5 L95.8,448.7 L96.7,450.1 L97.6,448.7 L98.5,448.5 L99.4,448.4 L100.3,448.2 L101.2,448.4 L102.1,449.6 L103.0,447.9 L103.9,447.6 L104.8,447.9 L105.7,448.1 L106.7,448.4 L107.6,450.6 L108.5,450.4 L109.4,450.6 L110.3,451.6 L111.2,450.0 L112.1,449.8 L113.0,450.0 L113.9,451.4 L115.5,453.2 L114.9,465.0Z" fill="#9d9d9d"/>
<path d="M113.5,465.0 L113.0,453.8 L114.5,452.0 L115.4,452.3 L116.4,453.3 L117.3,453.0 L118.2,452.7 L119.1,453.0 L120.0,452.8 L120.9,452.5 L121.8,452.8 L122.7,453.0 L123.6,451.7 L124.5,449.2 L125.5,448.6 L126.4,448.3 L127.3,448.6 L128.2,450.2 L129.1,448.3 L130.0,448.1 L130.9,446.8 L131.8,446.5 L132.7,446.8 L133.6,446.7 L134.6,446.9 L135.5,449.6 L136.4,449.9 L137.3,449.4 L138.2,449.1 L139.1,449.4 L140.0,449.0 L140.9,448.7 L141.8,449.0 L142.8,450.3 L143.7,452.6 L144.6,452.9 L145.5,453.5 L146.4,453.7 L148.0,456.1 L147.4,465.0Z" fill="#9d9d9d"/>
<g fill="#9d9d9d"><circle cx="93.8" cy="464.5" r="1.75"/><circle cx="97.2" cy="464.4" r="1.75"/><circle cx="99.5" cy="464.3" r="1.75"/><circle cx="100.9" cy="464.2" r="1.75"/><circle cx="103.3" cy="464.0" r="1.75"/><circle cx="104.6" cy="464.1" r="1.75"/><circle cx="106.9" cy="464.3" r="1.75"/><circle cx="108.5" cy="464.4" r="1.75"/><circle cx="110.3" cy="464.4" r="1.75"/><circle cx="112.1" cy="464.5" r="1.75"/><circle cx="101.3" cy="450.4" r="1.75"/><circle cx="104.9" cy="449.8" r="1.75"/><circle cx="107.0" cy="450.3" r="1.75"/><circle cx="108.5" cy="451.6" r="1.75"/><circle cx="109.9" cy="453.2" r="1.75"/><circle cx="112.4" cy="451.4" r="1.75"/><circle cx="113.8" cy="451.2" r="1.75"/><circle cx="98.9" cy="450.0" r="1.75"/><circle cx="114.5" cy="464.1" r="1.75"/><circle cx="116.4" cy="464.5" r="1.75"/><circle cx="118.6" cy="464.5" r="1.75"/><circle cx="120.1" cy="464.1" r="1.75"/><circle cx="123.8" cy="464.5" r="1.75"/><circle cx="127.5" cy="464.2" r="1.75"/><circle cx="129.1" cy="464.2" r="1.75"/><circle cx="132.9" cy="464.4" r="1.75"/><circle cx="136.5" cy="464.4" r="1.75"/><circle cx="138.1" cy="464.0" r="1.75"/><circle cx="145.8" cy="464.4" r="1.75"/><circle cx="120.0" cy="452.7" r="1.75"/><circle cx="121.6" cy="454.5" r="1.75"/><circle cx="123.7" cy="451.6" r="1.75"/><circle cx="129.0" cy="449.8" r="1.75"/><circle cx="130.9" cy="446.7" r="1.75"/><circle cx="133.1" cy="447.5" r="1.75"/><circle cx="134.6" cy="448.1" r="1.75"/><circle cx="136.1" cy="450.6" r="1.75"/><circle cx="139.8" cy="450.6" r="1.75"/><circle cx="143.9" cy="452.2" r="1.75"/><circle cx="142.3" cy="449.1" r="1.75"/></g>
<path d="M145.3,465.0 L144.8,452.7 L146.4,450.9 L147.3,451.2 L148.3,452.1 L149.2,451.8 L150.1,452.1 L151.0,443.5 L152.0,443.2 L152.9,443.5 L153.8,448.4 L154.8,448.6 L155.7,450.9 L156.6,451.2 L157.5,452.6 L158.5,452.9 L159.4,452.8 L160.3,450.1 L161.3,449.2 L162.2,448.9 L163.1,449.2 L164.0,450.6 L165.0,452.1 L165.9,452.3 L167.5,454.1 L166.9,465.0Z" fill="#cbcbcb"/>
<path d="M165.5,465.0 L165.0,452.0 L166.6,450.2 L167.5,450.4 L168.5,450.7 L169.4,451.9 L170.3,451.6 L171.3,451.7 L172.2,450.3 L173.1,448.7 L174.1,448.4 L175.0,448.7 L175.9,452.1 L176.9,451.9 L177.8,450.9 L178.8,447.2 L179.7,446.9 L180.6,447.2 L181.6,451.7 L182.5,453.5 L183.4,452.8 L184.4,452.2 L185.3,452.0 L186.2,452.2 L187.2,451.8 L188.1,451.5 L189.1,451.8 L190.6,453.5 L190.1,465.0Z" fill="#cbcbcb"/>
<g fill="#cbcbcb"><circle cx="146.5" cy="464.3" r="1.75"/><circle cx="148.4" cy="464.0" r="1.75"/><circle cx="153.8" cy="464.4" r="1.75"/><circle cx="155.4" cy="464.3" r="1.75"/><circle cx="157.6" cy="464.0" r="1.75"/><circle cx="159.5" cy="464.4" r="1.75"/><circle cx="151.7" cy="444.7" r="1.75"/><circle cx="159.3" cy="454.0" r="1.75"/><circle cx="162.9" cy="450.2" r="1.75"/><circle cx="162.7" cy="449.9" r="1.75"/><circle cx="166.9" cy="464.3" r="1.75"/><circle cx="168.6" cy="464.3" r="1.75"/><circle cx="170.2" cy="464.4" r="1.75"/><circle cx="172.2" cy="464.5" r="1.75"/><circle cx="174.3" cy="464.3" r="1.75"/><circle cx="179.4" cy="464.2" r="1.75"/><circle cx="181.7" cy="464.5" r="1.75"/><circle cx="183.2" cy="464.0" r="1.75"/><circle cx="187.0" cy="464.6" r="1.75"/><circle cx="189.1" cy="464.2" r="1.75"/><circle cx="170.6" cy="453.3" r="1.75"/><circle cx="172.4" cy="451.8" r="1.75"/><circle cx="174.3" cy="449.2" r="1.75"/><circle cx="176.2" cy="451.7" r="1.75"/><circle cx="179.4" cy="446.8" r="1.75"/><circle cx="181.3" cy="451.3" r="1.75"/><circle cx="183.8" cy="452.9" r="1.75"/><circle cx="185.6" cy="452.0" r="1.75"/><circle cx="187.5" cy="453.1" r="1.75"/><circle cx="189.0" cy="451.7" r="1.75"/><circle cx="174.0" cy="450.7" r="1.75"/></g>
<path d="M188.0,465.0 L187.5,452.4 L189.1,446.9 L190.0,446.6 L191.0,445.9 L192.0,444.8 L192.9,442.7 L193.9,442.4 L194.9,442.7 L195.9,447.5 L196.8,450.6 L197.8,450.9 L198.8,451.6 L199.7,451.9 L201.3,453.8 L200.8,465.0Z" fill="#9d9d9d"/>
<path d="M199.3,465.0 L198.8,449.3 L200.4,447.5 L201.3,447.8 L202.2,450.1 L203.1,450.3 L204.0,450.5 L204.9,450.4 L205.8,449.5 L206.7,449.2 L207.6,449.5 L208.5,450.4 L209.4,451.2 L210.3,451.0 L211.2,451.2 L212.1,451.7 L213.1,449.1 L214.0,448.6 L214.9,448.3 L215.8,448.6 L216.7,450.0 L217.6,451.4 L218.5,452.3 L219.4,449.4 L220.3,449.1 L221.2,449.4 L222.1,451.8 L223.0,451.7 L223.9,451.5 L224.8,451.4 L225.7,451.6 L226.6,448.9 L227.5,448.6 L228.4,448.4 L229.3,448.2 L230.2,448.4 L231.8,453.0 L231.3,465.0Z" fill="#9d9d9d"/>
<g fill="#9d9d9d"><circle cx="189.0" cy="464.0" r="1.75"/><circle cx="190.9" cy="464.5" r="1.75"/><circle cx="192.6" cy="464.1" r="1.75"/><circle cx="195.2" cy="464.3" r="1.75"/><circle cx="202.1" cy="464.3" r="1.75"/><circle cx="207.8" cy="464.3" r="1.75"/><circle cx="209.6" cy="464.5" r="1.75"/><circle cx="211.3" cy="464.4" r="1.75"/><circle cx="213.4" cy="464.5" r="1.75"/><circle cx="214.7" cy="464.5" r="1.75"/><circle cx="218.6" cy="464.1" r="1.75"/><circle cx="222.0" cy="464.5" r="1.75"/><circle cx="227.9" cy="464.1" r="1.75"/><circle cx="229.4" cy="464.4" r="1.75"/><circle cx="202.0" cy="450.4" r="1.75"/><circle cx="207.3" cy="449.7" r="1.75"/><circle cx="213.0" cy="451.0" r="1.75"/><circle cx="214.5" cy="449.5" r="1.75"/><circle cx="216.3" cy="451.2" r="1.75"/><circle cx="218.2" cy="453.2" r="1.75"/><circle cx="224.2" cy="451.6" r="1.75"/><circle cx="226.1" cy="452.1" r="1.75"/><circle cx="229.0" cy="450.4" r="1.75"/><circle cx="209.4" cy="450.0" r="1.75"/></g>
<path d="M229.2,465.0 L228.7,453.6 L230.2,451.9 L231.1,452.1 L232.1,452.2 L233.0,452.4 L233.9,452.9 L234.8,450.7 L235.7,450.4 L236.6,444.7 L237.5,444.4 L238.4,444.7 L239.3,448.6 L240.2,448.3 L241.8,450.1 L241.3,465.0Z" fill="#cbcbcb"/>
<path d="M239.8,465.0 L239.3,454.5 L240.9,452.4 L241.8,451.8 L242.7,449.1 L243.6,448.9 L244.5,449.1 L245.5,451.5 L246.4,451.2 L247.3,451.5 L248.2,451.3 L249.1,451.0 L250.0,450.7 L250.9,451.0 L251.9,450.9 L252.8,450.6 L253.7,446.1 L254.6,445.8 L255.5,441.1 L256.4,440.8 L257.3,441.1 L258.2,446.6 L259.2,450.8 L260.1,448.5 L261.0,448.3 L261.9,448.5 L262.8,449.8 L263.7,450.1 L264.6,451.6 L265.6,451.3 L266.5,451.5 L267.4,451.3 L268.3,450.7 L269.2,450.5 L270.8,452.2 L270.3,465.0Z" fill="#cbcbcb"/>
<g fill="#cbcbcb"><circle cx="233.9" cy="464.3" r="1.75"/><circle cx="235.7" cy="464.4" r="1.75"/><circle cx="237.3" cy="464.0" r="1.75"/><circle cx="230.5" cy="453.4" r="1.75"/><circle cx="234.0" cy="455.0" r="1.75"/><circle cx="241.1" cy="464.4" r="1.75"/><circle cx="244.8" cy="464.0" r="1.75"/><circle cx="246.6" cy="464.0" r="1.75"/><circle cx="249.9" cy="464.1" r="1.75"/><circle cx="252.0" cy="464.5" r="1.75"/><circle cx="257.0" cy="464.2" r="1.75"/><circle cx="259.2" cy="464.3" r="1.75"/><circle cx="262.5" cy="464.2" r="1.75"/><circle cx="266.8" cy="464.2" r="1.75"/><circle cx="268.1" cy="464.4" r="1.75"/><circle cx="241.2" cy="452.4" r="1.75"/><circle cx="244.3" cy="450.7" r="1.75"/><circle cx="246.6" cy="451.9" r="1.75"/><circle cx="248.0" cy="453.1" r="1.75"/><circle cx="252.2" cy="453.0" r="1.75"/><circle cx="253.4" cy="446.2" r="1.75"/><circle cx="257.3" cy="442.5" r="1.75"/><circle cx="266.2" cy="451.5" r="1.75"/><circle cx="268.1" cy="450.9" r="1.75"/><circle cx="255.9" cy="451.4" r="1.75"/></g>
<path d="M268.2,465.0 L267.6,453.0 L269.2,451.2 L270.1,451.4 L271.0,451.2 L271.9,445.3 L272.8,444.4 L273.7,444.1 L274.6,444.4 L275.6,445.9 L276.5,448.3 L277.4,447.3 L278.3,447.0 L279.2,447.3 L280.1,449.0 L281.0,449.1 L281.9,448.9 L283.5,450.6 L282.9,465.0Z" fill="#9d9d9d"/>
<path d="M281.5,465.0 L281.0,453.2 L282.5,451.5 L283.4,449.7 L284.3,449.5 L285.2,449.7 L286.2,452.9 L287.1,452.2 L288.0,451.6 L288.9,451.4 L289.8,451.0 L290.7,450.1 L291.6,448.5 L292.5,448.2 L293.4,448.5 L294.3,447.6 L295.2,447.4 L296.1,447.6 L297.0,448.9 L297.9,448.6 L298.8,448.9 L299.7,450.1 L300.6,449.1 L301.6,448.9 L302.5,449.1 L303.4,450.6 L304.3,450.1 L305.2,449.8 L306.1,450.1 L307.7,454.8 L307.1,465.0Z" fill="#9d9d9d"/>
<g fill="#9d9d9d"><circle cx="269.2" cy="464.3" r="1.75"/><circle cx="272.7" cy="464.1" r="1.75"/><circle cx="276.1" cy="464.4" r="1.75"/><circle cx="273.2" cy="444.7" r="1.75"/><circle cx="274.9" cy="445.7" r="1.75"/><circle cx="282.2" cy="464.0" r="1.75"/><circle cx="284.0" cy="464.5" r="1.75"/><circle cx="285.9" cy="464.0" r="1.75"/><circle cx="291.9" cy="464.1" r="1.75"/><circle cx="293.6" cy="464.1" r="1.75"/><circle cx="296.7" cy="464.1" r="1.75"/><circle cx="299.1" cy="464.3" r="1.75"/><circle cx="300.8" cy="464.3" r="1.75"/><circle cx="304.0" cy="464.1" r="1.75"/><circle cx="305.8" cy="464.4" r="1.75"/><circle cx="282.3" cy="452.9" r="1.75"/><circle cx="284.2" cy="449.6" r="1.75"/><circle cx="285.8" cy="454.3" r="1.75"/><circle cx="291.5" cy="448.1" r="1.75"/><circle cx="302.5" cy="450.1" r="1.75"/><circle cx="304.0" cy="451.2" r="1.75"/><circle cx="306.0" cy="449.9" r="1.75"/><circle cx="300.8" cy="451.5" r="1.75"/></g>
<path d="M305.0,465.0 L304.5,452.1 L306.1,450.4 L307.0,450.7 L308.0,448.7 L309.0,448.4 L309.9,448.7 L310.9,449.6 L311.9,449.3 L312.8,449.3 L313.8,449.0 L314.7,449.3 L315.7,448.5 L316.7,447.6 L317.6,447.3 L318.6,447.6 L320.2,450.0 L319.6,465.0Z" fill="#cbcbcb"/>
<path d="M318.3,465.0 L317.8,449.3 L319.4,447.5 L320.3,447.8 L321.2,449.8 L322.1,448.7 L323.0,448.5 L323.9,448.7 L324.9,449.9 L325.8,451.9 L326.7,451.6 L327.6,451.9 L328.5,450.9 L329.4,449.8 L330.3,449.6 L331.2,447.2 L332.2,446.9 L333.1,447.2 L334.0,450.0 L334.9,451.3 L335.8,451.0 L336.7,451.3 L337.6,452.5 L338.5,452.1 L339.5,451.9 L340.4,452.1 L341.9,454.7 L341.4,465.0Z" fill="#cbcbcb"/>
<g fill="#cbcbcb"><circle cx="305.9" cy="464.5" r="1.75"/><circle cx="309.8" cy="464.4" r="1.75"/><circle cx="314.0" cy="464.5" r="1.75"/><circle cx="315.8" cy="464.4" r="1.75"/><circle cx="309.8" cy="449.3" r="1.75"/><circle cx="311.5" cy="451.5" r="1.75"/><circle cx="314.0" cy="450.4" r="1.75"/><circle cx="317.5" cy="449.1" r="1.75"/><circle cx="319.7" cy="464.2" r="1.75"/><circle cx="323.0" cy="464.6" r="1.75"/><circle cx="325.2" cy="464.1" r="1.75"/><circle cx="327.0" cy="464.6" r="1.75"/><circle cx="330.4" cy="464.5" r="1.75"/><circle cx="333.8" cy="464.1" r="1.75"/><circle cx="335.4" cy="464.1" r="1.75"/><circle cx="338.0" cy="464.3" r="1.75"/><circle cx="339.7" cy="464.5" r="1.75"/><circle cx="319.6" cy="449.2" r="1.75"/><circle cx="321.6" cy="449.5" r="1.75"/><circle cx="323.3" cy="449.4" r="1.75"/><circle cx="326.7" cy="453.8" r="1.75"/><circle cx="335.5" cy="451.5" r="1.75"/><circle cx="337.5" cy="452.4" r="1.75"/><circle cx="336.6" cy="448.5" r="1.75"/></g>
<path d="M339.3,465.0 L338.8,454.5 L340.4,451.0 L341.3,450.8 L342.3,451.0 L343.2,452.4 L344.1,452.8 L345.1,452.6 L346.0,452.9 L347.0,450.0 L347.9,449.7 L348.9,450.0 L349.8,454.1 L351.4,456.3 L350.9,465.0Z" fill="#9d9d9d"/>
<path d="M349.4,465.0 L348.9,451.8 L350.5,450.1 L351.4,449.7 L352.3,449.4 L353.2,449.7 L354.2,450.4 L355.1,452.2 L356.0,451.0 L357.0,450.8 L357.9,450.8 L358.8,451.1 L359.8,451.6 L360.7,452.4 L361.6,452.2 L362.6,451.0 L363.5,450.2 L364.4,449.9 L365.4,450.2 L366.3,450.8 L367.2,452.2 L368.2,452.4 L369.1,452.6 L370.0,452.2 L371.0,452.0 L371.9,452.2 L373.5,455.5 L373.0,465.0Z" fill="#9d9d9d"/>
<g fill="#9d9d9d"><circle cx="340.3" cy="464.0" r="1.75"/><circle cx="342.2" cy="464.5" r="1.75"/><circle cx="344.2" cy="464.3" r="1.75"/><circle cx="348.3" cy="464.2" r="1.75"/><circle cx="349.4" cy="464.5" r="1.75"/><circle cx="344.3" cy="454.0" r="1.75"/><circle cx="345.7" cy="452.7" r="1.75"/><circle cx="350.2" cy="456.3" r="1.75"/><circle cx="350.8" cy="464.2" r="1.75"/><circle cx="352.2" cy="464.3" r="1.75"/><circle cx="355.9" cy="464.4" r="1.75"/><circle cx="358.2" cy="464.0" r="1.75"/><circle cx="363.9" cy="464.2" r="1.75"/><circle cx="367.4" cy="464.5" r="1.75"/><circle cx="369.4" cy="464.1" r="1.75"/><circle cx="370.7" cy="464.0" r="1.75"/><circle cx="358.1" cy="452.0" r="1.75"/><circle cx="361.9" cy="454.4" r="1.75"/><circle cx="363.7" cy="451.2" r="1.75"/><circle cx="370.9" cy="453.5" r="1.75"/><circle cx="352.3" cy="452.0" r="1.75"/></g>
<path d="M370.9,465.0 L370.3,455.2 L371.9,452.7 L372.8,452.4 L373.8,452.7 L374.7,448.6 L375.6,448.3 L376.6,448.6 L377.5,448.9 L378.4,448.6 L379.4,448.9 L380.3,452.1 L381.9,454.5 L381.4,465.0Z" fill="#cbcbcb"/>
<path d="M386.0,465.0 L385.5,446.3 L387.1,444.5 L388.0,444.8 L389.0,450.6 L389.9,450.9 L390.9,452.0 L391.9,451.7 L392.8,451.4 L393.8,445.3 L394.7,445.0 L395.7,445.3 L396.6,448.1 L397.6,447.8 L398.5,448.1 L399.5,451.5 L400.4,451.2 L401.4,451.4 L402.3,451.7 L403.9,454.9 L403.4,465.0Z" fill="#cbcbcb"/>
<g fill="#cbcbcb"><circle cx="372.1" cy="464.3" r="1.75"/><circle cx="375.5" cy="464.5" r="1.75"/><circle cx="377.3" cy="464.0" r="1.75"/><circle cx="379.1" cy="464.2" r="1.75"/><circle cx="375.5" cy="449.6" r="1.75"/><circle cx="377.8" cy="450.8" r="1.75"/><circle cx="379.2" cy="448.7" r="1.75"/><circle cx="387.5" cy="464.4" r="1.75"/><circle cx="390.6" cy="464.4" r="1.75"/><circle cx="393.1" cy="464.4" r="1.75"/><circle cx="394.6" cy="464.0" r="1.75"/><circle cx="396.5" cy="464.3" r="1.75"/><circle cx="398.4" cy="464.4" r="1.75"/><circle cx="402.4" cy="464.4" r="1.75"/><circle cx="387.4" cy="444.8" r="1.75"/><circle cx="390.6" cy="454.1" r="1.75"/><circle cx="392.5" cy="451.9" r="1.75"/><circle cx="398.5" cy="449.4" r="1.75"/></g>
<path d="M401.3,465.0 L400.8,454.5 L402.3,452.8 L403.3,452.9 L404.2,447.7 L405.1,447.5 L406.1,447.7 L407.0,451.9 L408.0,449.2 L408.9,448.9 L409.8,449.2 L410.8,452.0 L412.3,453.8 L411.8,465.0Z" fill="#9d9d9d"/>
<path d="M410.4,465.0 L409.9,452.9 L411.4,450.6 L412.4,450.3 L413.3,450.2 L414.2,450.5 L415.1,453.0 L416.0,452.0 L416.9,451.7 L417.8,451.6 L418.7,451.8 L419.7,449.7 L420.6,449.4 L421.5,449.7 L422.4,449.1 L423.3,448.8 L424.2,449.1 L425.1,450.7 L426.0,449.6 L427.0,446.1 L427.9,445.9 L428.8,446.1 L429.7,447.3 L430.6,447.1 L431.5,447.3 L433.1,452.1 L432.6,465.0Z" fill="#9d9d9d"/>
<g fill="#9d9d9d"><circle cx="404.6" cy="464.5" r="1.75"/><circle cx="406.4" cy="464.4" r="1.75"/><circle cx="407.9" cy="464.2" r="1.75"/><circle cx="402.4" cy="454.8" r="1.75"/><circle cx="404.5" cy="448.0" r="1.75"/><circle cx="407.8" cy="451.0" r="1.75"/><circle cx="411.4" cy="464.5" r="1.75"/><circle cx="418.6" cy="464.1" r="1.75"/><circle cx="420.8" cy="464.3" r="1.75"/><circle cx="431.5" cy="464.3" r="1.75"/><circle cx="415.2" cy="454.5" r="1.75"/><circle cx="422.7" cy="449.1" r="1.75"/><circle cx="424.4" cy="450.7" r="1.75"/><circle cx="431.3" cy="447.0" r="1.75"/><circle cx="420.8" cy="451.5" r="1.75"/></g>
<path d="M430.5,465.0 L430.0,450.4 L431.5,444.9 L432.5,444.7 L433.4,444.9 L434.3,448.4 L435.2,448.1 L436.1,448.4 L437.1,451.5 L438.0,451.2 L438.9,450.9 L439.8,451.0 L440.8,450.2 L441.7,449.9 L442.6,449.9 L444.2,451.7 L443.7,465.0Z" fill="#cbcbcb"/>
<path d="M442.3,465.0 L441.8,450.1 L443.4,448.3 L444.3,448.6 L445.2,449.7 L446.1,445.0 L447.0,444.7 L447.9,445.0 L448.8,444.5 L449.7,444.2 L450.6,444.5 L451.5,451.7 L452.4,445.1 L453.4,444.5 L454.3,444.3 L455.2,444.5 L456.1,445.2 L457.0,450.7 L457.9,450.2 L458.8,450.0 L459.7,448.8 L460.6,448.5 L462.2,450.3 L461.7,465.0Z" fill="#cbcbcb"/>
<g fill="#cbcbcb"><circle cx="431.8" cy="464.5" r="1.75"/><circle cx="433.5" cy="464.2" r="1.75"/><circle cx="435.1" cy="464.0" r="1.75"/><circle cx="436.7" cy="464.1" r="1.75"/><circle cx="439.2" cy="464.3" r="1.75"/><circle cx="440.9" cy="464.1" r="1.75"/><circle cx="431.4" cy="446.0" r="1.75"/><circle cx="438.9" cy="452.2" r="1.75"/><circle cx="444.9" cy="464.5" r="1.75"/><circle cx="448.6" cy="464.3" r="1.75"/><circle cx="450.8" cy="464.1" r="1.75"/><circle cx="456.3" cy="464.4" r="1.75"/><circle cx="443.7" cy="450.0" r="1.75"/><circle cx="445.2" cy="451.9" r="1.75"/><circle cx="448.9" cy="446.4" r="1.75"/><circle cx="457.6" cy="451.7" r="1.75"/><circle cx="460.1" cy="450.2" r="1.75"/></g>
<path d="M459.6,465.0 L459.0,450.8 L460.6,449.1 L461.5,449.4 L462.5,448.8 L463.4,447.1 L464.4,446.9 L465.3,447.1 L466.2,447.2 L467.2,447.2 L468.1,447.5 L469.7,452.7 L469.2,465.0Z" fill="#9d9d9d"/>
<path d="M467.7,465.0 L467.2,452.2 L468.8,450.4 L469.7,450.5 L470.6,450.3 L471.6,449.9 L472.5,445.9 L473.5,445.6 L474.4,445.8 L475.3,445.2 L476.3,444.9 L477.2,445.2 L478.2,446.5 L479.1,446.2 L480.0,446.5 L481.0,450.6 L481.9,449.7 L482.9,442.1 L483.8,441.9 L484.7,442.1 L485.7,444.9 L486.6,445.2 L487.6,446.8 L488.5,445.2 L489.4,444.9 L491.0,446.7 L490.5,465.0Z" fill="#9d9d9d"/>
<g fill="#9d9d9d"><circle cx="460.4" cy="464.4" r="1.75"/><circle cx="462.8" cy="464.1" r="1.75"/><circle cx="464.0" cy="464.3" r="1.75"/><circle cx="466.5" cy="464.5" r="1.75"/><circle cx="460.8" cy="450.5" r="1.75"/><circle cx="462.5" cy="450.7" r="1.75"/><circle cx="468.0" cy="448.9" r="1.75"/><circle cx="468.6" cy="464.1" r="1.75"/><circle cx="470.7" cy="464.2" r="1.75"/><circle cx="472.3" cy="464.3" r="1.75"/><circle cx="479.8" cy="464.3" r="1.75"/><circle cx="483.6" cy="464.3" r="1.75"/><circle cx="485.7" cy="464.5" r="1.75"/><circle cx="487.3" cy="464.0" r="1.75"/><circle cx="489.4" cy="464.5" r="1.75"/><circle cx="468.8" cy="451.4" r="1.75"/><circle cx="472.3" cy="445.8" r="1.75"/><circle cx="476.2" cy="447.1" r="1.75"/><circle cx="478.0" cy="446.4" r="1.75"/><circle cx="489.7" cy="446.0" r="1.75"/><circle cx="475.4" cy="448.6" r="1.75"/></g>
<path d="M492.6,465.0 L492.0,451.4 L493.6,448.2 L494.5,447.9 L495.5,448.2 L496.4,451.1 L497.4,448.0 L498.3,445.1 L499.2,444.9 L500.2,445.1 L501.1,446.3 L502.1,446.0 L503.0,446.3 L503.9,449.2 L504.9,452.0 L505.8,451.9 L506.8,451.9 L507.7,450.6 L508.6,450.4 L509.6,450.6 L510.5,452.0 L511.4,452.3 L512.4,452.4 L513.3,452.2 L514.3,452.5 L515.8,455.3 L515.3,465.0Z" fill="#cbcbcb"/>
<g fill="#cbcbcb"><circle cx="493.5" cy="464.4" r="1.75"/><circle cx="495.4" cy="464.3" r="1.75"/><circle cx="497.3" cy="464.2" r="1.75"/><circle cx="498.9" cy="464.0" r="1.75"/><circle cx="500.9" cy="464.5" r="1.75"/><circle cx="503.2" cy="464.5" r="1.75"/><circle cx="508.5" cy="464.1" r="1.75"/><circle cx="512.4" cy="464.5" r="1.75"/><circle cx="514.4" cy="464.5" r="1.75"/><circle cx="495.6" cy="448.1" r="1.75"/><circle cx="499.0" cy="445.2" r="1.75"/><circle cx="506.5" cy="451.5" r="1.75"/><circle cx="509.4" cy="451.6" r="1.75"/></g>
<path d="M517.4,465.0 L516.8,448.9 L518.4,447.2 L519.3,447.4 L520.2,450.9 L521.1,451.0 L522.0,450.7 L522.9,450.6 L523.8,450.7 L524.7,450.6 L525.6,445.3 L526.5,445.1 L527.5,445.3 L528.4,448.9 L529.3,449.4 L530.2,443.8 L531.1,443.6 L532.0,443.8 L532.9,449.0 L533.8,450.3 L534.7,450.6 L535.6,450.2 L536.5,449.4 L537.4,449.2 L539.0,450.9 L538.4,465.0Z" fill="#9d9d9d"/>
<g fill="#9d9d9d"><circle cx="518.2" cy="464.4" r="1.75"/><circle cx="524.0" cy="464.1" r="1.75"/><circle cx="527.8" cy="464.2" r="1.75"/><circle cx="529.6" cy="464.3" r="1.75"/><circle cx="530.8" cy="464.4" r="1.75"/><circle cx="532.8" cy="464.4" r="1.75"/><circle cx="535.0" cy="464.4" r="1.75"/><circle cx="536.4" cy="464.4" r="1.75"/><circle cx="523.9" cy="452.4" r="1.75"/><circle cx="533.0" cy="450.0" r="1.75"/><circle cx="536.2" cy="450.0" r="1.75"/><circle cx="530.2" cy="449.3" r="1.75"/></g>
<path d="M540.7,465.0 L540.2,452.5 L541.8,447.9 L542.7,446.9 L543.6,446.6 L544.6,446.9 L545.5,447.0 L546.4,447.3 L547.4,450.1 L548.3,450.1 L549.2,450.4 L550.2,450.4 L551.1,450.7 L552.0,450.0 L553.0,449.8 L553.9,449.6 L554.8,449.3 L555.7,449.6 L556.7,450.4 L557.6,450.1 L558.5,449.8 L559.5,449.6 L561.1,451.3 L560.5,465.0Z" fill="#cbcbcb"/>
<g fill="#cbcbcb"><circle cx="543.9" cy="464.2" r="1.75"/><circle cx="545.8" cy="464.0" r="1.75"/><circle cx="547.4" cy="464.2" r="1.75"/><circle cx="551.0" cy="464.4" r="1.75"/><circle cx="557.0" cy="464.3" r="1.75"/><circle cx="558.4" cy="464.3" r="1.75"/><circle cx="542.0" cy="447.7" r="1.75"/><circle cx="545.3" cy="449.2" r="1.75"/><circle cx="549.6" cy="451.2" r="1.75"/><circle cx="551.0" cy="452.5" r="1.75"/><circle cx="556.8" cy="450.0" r="1.75"/><circle cx="558.7" cy="451.7" r="1.75"/></g>
<path d="M558.4,465.0 L557.9,454.8 L559.5,447.4 L560.4,447.2 L561.4,447.4 L562.3,451.6 L563.3,452.7 L564.2,452.4 L565.2,452.5 L566.1,452.3 L567.1,452.0 L568.7,453.7 L568.1,465.0Z" fill="#9d9d9d"/>
<path d="M568.4,465.0 L567.9,448.1 L569.5,446.3 L570.4,446.6 L571.4,447.4 L572.3,447.7 L573.3,448.6 L574.2,450.5 L575.2,450.2 L576.1,450.5 L577.1,451.0 L578.0,450.9 L578.9,450.6 L580.5,452.4 L580.0,465.0Z" fill="#9d9d9d"/>
<g fill="#9d9d9d"><circle cx="561.0" cy="464.3" r="1.75"/><circle cx="563.3" cy="464.2" r="1.75"/><circle cx="566.9" cy="464.4" r="1.75"/><circle cx="569.3" cy="464.3" r="1.75"/><circle cx="571.7" cy="464.3" r="1.75"/><circle cx="573.2" cy="464.5" r="1.75"/><circle cx="577.1" cy="464.5" r="1.75"/><circle cx="569.4" cy="446.4" r="1.75"/><circle cx="577.2" cy="452.8" r="1.75"/><circle cx="578.7" cy="450.6" r="1.75"/></g>
<path d="M577.9,465.0 L577.4,450.9 L578.9,449.1 L579.9,446.7 L580.9,446.4 L581.8,446.5 L582.8,446.2 L583.7,446.5 L585.3,452.0 L584.8,465.0Z" fill="#cbcbcb"/>
<path d="M583.3,465.0 L582.8,452.2 L584.4,450.5 L585.3,447.0 L586.2,446.7 L587.2,447.0 L588.1,443.9 L589.0,443.6 L589.9,443.9 L590.9,446.4 L591.8,447.9 L592.7,449.2 L593.7,448.8 L594.6,447.1 L595.5,446.9 L596.4,447.1 L598.0,452.4 L597.5,465.0Z" fill="#cbcbcb"/>
<g fill="#cbcbcb"><circle cx="582.5" cy="464.1" r="1.75"/><circle cx="579.2" cy="450.3" r="1.75"/><circle cx="581.2" cy="448.4" r="1.75"/><circle cx="582.5" cy="447.9" r="1.75"/><circle cx="584.4" cy="464.1" r="1.75"/><circle cx="585.9" cy="464.3" r="1.75"/><circle cx="587.8" cy="464.0" r="1.75"/><circle cx="589.6" cy="464.0" r="1.75"/><circle cx="593.8" cy="464.3" r="1.75"/><circle cx="584.0" cy="452.2" r="1.75"/><circle cx="592.1" cy="448.8" r="1.75"/><circle cx="593.5" cy="450.4" r="1.75"/></g>
<path d="M595.4,465.0 L594.9,453.8 L596.4,452.1 L597.5,451.7 L598.7,446.2 L599.8,445.8 L601.3,447.6 L600.8,465.0Z" fill="#9d9d9d"/>
<path d="M599.4,465.0 L598.8,454.0 L600.4,452.3 L601.3,450.5 L602.3,450.2 L603.2,450.5 L604.1,452.3 L605.0,452.6 L605.9,452.7 L606.8,452.4 L607.8,452.7 L608.7,452.5 L609.6,452.3 L610.5,452.4 L611.4,446.8 L612.3,445.4 L613.3,445.1 L614.8,446.9 L614.3,465.0Z" fill="#9d9d9d"/>
<g fill="#9d9d9d"><circle cx="596.2" cy="464.2" r="1.75"/><circle cx="600.1" cy="464.0" r="1.75"/><circle cx="602.3" cy="464.2" r="1.75"/><circle cx="606.2" cy="464.6" r="1.75"/><circle cx="607.4" cy="464.4" r="1.75"/><circle cx="613.5" cy="464.3" r="1.75"/><circle cx="604.0" cy="453.2" r="1.75"/><circle cx="611.5" cy="447.0" r="1.75"/></g>
<path d="M612.2,465.0 L611.7,449.5 L613.3,447.7 L614.3,448.1 L615.4,448.8 L616.4,448.4 L617.5,448.8 L618.5,448.6 L620.1,450.4 L619.6,465.0Z" fill="#cbcbcb"/>
<path d="M618.4,465.0 L617.8,453.2 L619.4,450.1 L620.3,449.4 L621.3,446.2 L622.2,443.4 L623.2,443.2 L624.1,443.4 L625.1,449.1 L626.0,449.3 L627.6,451.0 L627.0,465.0Z" fill="#cbcbcb"/>
<g fill="#cbcbcb"><circle cx="617.8" cy="464.3" r="1.75"/><circle cx="619.4" cy="464.3" r="1.75"/><circle cx="625.1" cy="464.3" r="1.75"/><circle cx="621.5" cy="446.2" r="1.75"/></g>
<path d="M624.9,465.0 L624.4,451.0 L626.0,448.5 L626.9,448.2 L627.9,448.5 L628.8,450.3 L629.8,451.2 L630.7,450.4 L631.7,450.1 L633.2,451.9 L632.7,465.0Z" fill="#9d9d9d"/>
<path d="M631.4,465.0 L630.8,454.8 L632.4,452.7 L633.4,452.4 L634.5,452.7 L635.5,452.3 L636.5,446.2 L637.5,445.9 L638.6,446.2 L639.6,451.3 L641.2,453.0 L640.6,465.0Z" fill="#9d9d9d"/>
<g fill="#9d9d9d"><circle cx="625.9" cy="464.2" r="1.75"/><circle cx="629.4" cy="452.2" r="1.75"/><circle cx="632.0" cy="464.1" r="1.75"/><circle cx="638.5" cy="464.1" r="1.75"/></g>
<path d="M640.7,465.0 L640.2,453.6 L641.7,451.2 L642.6,449.4 L643.6,449.2 L644.5,449.4 L645.4,451.0 L646.3,451.2 L647.2,450.7 L648.1,450.0 L649.0,449.7 L649.9,450.0 L651.5,452.3 L651.0,465.0Z" fill="#cbcbcb"/>
<g fill="#cbcbcb"><circle cx="641.6" cy="464.2" r="1.75"/><circle cx="645.4" cy="464.5" r="1.75"/><circle cx="647.1" cy="464.2" r="1.75"/><circle cx="645.8" cy="451.0" r="1.75"/><circle cx="649.1" cy="451.4" r="1.75"/></g>
<path d="M652.5,465.0 L651.9,449.2 L653.5,447.5 L654.4,447.7 L655.4,447.5 L656.3,447.2 L657.3,447.5 L658.2,450.1 L659.1,450.4 L660.1,451.5 L661.0,451.7 L662.6,454.5 L662.0,465.0Z" fill="#9d9d9d"/>
<g fill="#9d9d9d"><circle cx="655.7" cy="464.1" r="1.75"/><circle cx="659.3" cy="464.2" r="1.75"/><circle cx="660.7" cy="464.3" r="1.75"/></g>
<line x1="39.3" x2="662" y1="443.00" y2="443.00" stroke="#333" stroke-width="1.25" stroke-dasharray="5.3 5.787"/>
<line x1="39.3" x2="662" y1="445.07" y2="445.07" stroke="#333" stroke-width="1.2" stroke-dasharray="1.2 4.3435"/>
<text x="32.8" y="468.26" font-size="10.7" fill="#4d4d4d" text-anchor="end">0</text>
<text x="32.8" y="454.98" font-size="10.7" fill="#4d4d4d" text-anchor="end">5</text>
<text x="32.8" y="441.70" font-size="10.7" fill="#4d4d4d" text-anchor="end">10</text>
<text x="32.8" y="428.42" font-size="10.7" fill="#4d4d4d" text-anchor="end">15</text>
<text x="32.8" y="415.14" font-size="10.7" fill="#4d4d4d" text-anchor="end">20</text>
<text x="32.8" y="401.86" font-size="10.7" fill="#4d4d4d" text-anchor="end">25</text>
<rect x="274.25" y="50.45" width="3.5" height="12.47" rx="1.75" fill="#9d9d9d"/><rect x="320.25" y="51.65" width="3.5" height="11.27" rx="1.75" fill="#cbcbcb"/><rect x="355.25" y="51.95" width="3.5" height="10.97" rx="1.75" fill="#9d9d9d"/><rect x="407.35" y="45.45" width="3.5" height="17.47" rx="1.75" fill="#9d9d9d"/><rect x="421.95" y="51.95" width="3.5" height="10.97" rx="1.75" fill="#9d9d9d"/><rect x="517.65" y="50.05" width="3.5" height="12.87" rx="1.75" fill="#9d9d9d"/><rect x="544.95" y="46.40" width="3.5" height="16.52" rx="1.75" fill="#cbcbcb"/><rect x="573.85" y="51.35" width="3.5" height="11.57" rx="1.75" fill="#9d9d9d"/>
<rect x="96.05" y="130.25" width="3.5" height="11.31" rx="1.75" fill="#9d9d9d"/><rect x="168.45" y="127.25" width="3.5" height="14.31" rx="1.75" fill="#cbcbcb"/><rect x="184.75" y="127.15" width="3.5" height="14.41" rx="1.75" fill="#cbcbcb"/><rect x="235.45" y="129.05" width="3.5" height="12.51" rx="1.75" fill="#cbcbcb"/><rect x="265.35" y="129.45" width="3.5" height="12.11" rx="1.75" fill="#cbcbcb"/><rect x="274.05" y="129.45" width="3.5" height="12.11" rx="1.75" fill="#9d9d9d"/><rect x="308.35" y="129.45" width="3.5" height="12.11" rx="1.75" fill="#cbcbcb"/><rect x="355.15" y="130.55" width="3.5" height="11.01" rx="1.75" fill="#9d9d9d"/><rect x="407.75" y="122.75" width="3.5" height="18.81" rx="1.75" fill="#9d9d9d"/><rect x="421.90" y="130.05" width="3.5" height="11.51" rx="1.75" fill="#9d9d9d"/><rect x="440.25" y="128.15" width="3.5" height="13.41" rx="1.75" fill="#cbcbcb"/><rect x="458.45" y="128.25" width="3.5" height="13.31" rx="1.75" fill="#cbcbcb"/><rect x="472.25" y="129.25" width="3.5" height="12.31" rx="1.75" fill="#9d9d9d"/><rect x="483.95" y="129.85" width="3.5" height="11.71" rx="1.75" fill="#9d9d9d"/><rect x="518.55" y="128.75" width="3.5" height="12.81" rx="1.75" fill="#9d9d9d"/><rect x="526.45" y="128.75" width="3.5" height="12.81" rx="1.75" fill="#9d9d9d"/><rect x="545.85" y="129.25" width="3.5" height="12.31" rx="1.75" fill="#cbcbcb"/><rect x="552.85" y="127.75" width="3.5" height="13.81" rx="1.75" fill="#cbcbcb"/><rect x="573.85" y="127.55" width="3.5" height="14.01" rx="1.75" fill="#9d9d9d"/><rect x="613.25" y="130.15" width="3.5" height="11.41" rx="1.75" fill="#cbcbcb"/><rect x="620.85" y="130.15" width="3.5" height="11.41" rx="1.75" fill="#cbcbcb"/>
<rect x="273.55" y="209.85" width="3.5" height="10.35" rx="1.75" fill="#9d9d9d"/><rect x="421.25" y="208.25" width="3.5" height="11.95" rx="1.75" fill="#9d9d9d"/><rect x="448.85" y="207.45" width="3.5" height="12.75" rx="1.75" fill="#cbcbcb"/><rect x="471.05" y="208.65" width="3.5" height="11.55" rx="1.75" fill="#9d9d9d"/><rect x="482.75" y="208.65" width="3.5" height="11.55" rx="1.75" fill="#9d9d9d"/><rect x="526.05" y="207.45" width="3.5" height="12.75" rx="1.75" fill="#9d9d9d"/><rect x="620.45" y="208.15" width="3.5" height="12.05" rx="1.75" fill="#cbcbcb"/>
<rect x="146.75" y="288.25" width="3.5" height="10.59" rx="1.75" fill="#cbcbcb"/><rect x="274.05" y="286.45" width="3.5" height="12.39" rx="1.75" fill="#9d9d9d"/><rect x="572.85" y="287.35" width="3.5" height="11.49" rx="1.75" fill="#9d9d9d"/><rect x="590.65" y="283.55" width="3.5" height="15.29" rx="1.75" fill="#cbcbcb"/>
<rect x="312.15" y="367.05" width="3.5" height="10.43" rx="1.75" fill="#cbcbcb"/><rect x="473.45" y="364.55" width="3.5" height="12.93" rx="1.75" fill="#9d9d9d"/>
<rect x="91.65" y="445.35" width="3.5" height="10.77" rx="1.75" fill="#cbcbcb"/><rect x="130.45" y="445.35" width="3.5" height="10.77" rx="1.75" fill="#9d9d9d"/><rect x="190.95" y="445.35" width="3.5" height="10.77" rx="1.75" fill="#9d9d9d"/><rect x="254.85" y="445.35" width="3.5" height="10.77" rx="1.75" fill="#cbcbcb"/><rect x="273.75" y="445.35" width="3.5" height="10.77" rx="1.75" fill="#9d9d9d"/><rect x="294.85" y="445.35" width="3.5" height="10.77" rx="1.75" fill="#9d9d9d"/><rect x="426.65" y="445.15" width="3.5" height="10.97" rx="1.75" fill="#9d9d9d"/><rect x="442.55" y="442.15" width="3.5" height="13.97" rx="1.75" fill="#cbcbcb"/><rect x="460.05" y="444.45" width="3.5" height="11.67" rx="1.75" fill="#9d9d9d"/><rect x="462.35" y="443.25" width="3.5" height="12.87" rx="1.75" fill="#9d9d9d"/><rect x="473.35" y="443.95" width="3.5" height="12.17" rx="1.75" fill="#9d9d9d"/><rect x="483.35" y="444.15" width="3.5" height="11.97" rx="1.75" fill="#9d9d9d"/><rect x="498.55" y="444.45" width="3.5" height="11.67" rx="1.75" fill="#cbcbcb"/><rect x="569.85" y="442.85" width="3.5" height="13.27" rx="1.75" fill="#9d9d9d"/><rect x="577.95" y="442.35" width="3.5" height="13.77" rx="1.75" fill="#9d9d9d"/><rect x="587.35" y="445.05" width="3.5" height="11.07" rx="1.75" fill="#cbcbcb"/><rect x="591.45" y="445.25" width="3.5" height="10.87" rx="1.75" fill="#cbcbcb"/><rect x="613.85" y="443.25" width="3.5" height="12.87" rx="1.75" fill="#cbcbcb"/><rect x="621.15" y="445.25" width="3.5" height="10.87" rx="1.75" fill="#cbcbcb"/><rect x="623.85" y="445.25" width="3.5" height="10.87" rx="1.75" fill="#cbcbcb"/>
<g fill="#f07ed4"><circle cx="276" cy="51.2" r="1.8"/><rect x="320.20" y="45.70" width="3.6" height="7.30" rx="1.8"/><rect x="355.20" y="45.60" width="3.6" height="7.70" rx="1.8"/><circle cx="409.1" cy="46.2" r="1.8"/><rect x="421.90" y="47.00" width="3.6" height="6.30" rx="1.8"/><circle cx="519.4" cy="50.8" r="1.8"/><circle cx="546.7" cy="47.15" r="1.8"/><circle cx="575.6" cy="39" r="1.8"/><rect x="573.80" y="41.90" width="3.6" height="10.80" rx="1.8"/></g>
<g fill="#5bbd48"><rect x="96.00" y="122.20" width="3.6" height="9.40" rx="1.8"/><circle cx="170.2" cy="128" r="1.8"/><circle cx="186.5" cy="127.9" r="1.8"/><circle cx="237.2" cy="129.8" r="1.8"/><rect x="265.30" y="126.10" width="3.6" height="5.90" rx="1.8"/><rect x="274.00" y="100.40" width="3.6" height="30.40" rx="1.8"/><rect x="308.30" y="114.90" width="3.6" height="15.90" rx="1.8"/><rect x="355.10" y="117.10" width="3.6" height="14.80" rx="1.8"/><circle cx="409.5" cy="123.5" r="1.8"/><rect x="421.85" y="83.70" width="3.6" height="7.80" rx="1.8"/><circle cx="423.65" cy="94.5" r="1.8"/><rect x="421.85" y="96.70" width="3.6" height="9.90" rx="1.8"/><rect x="421.85" y="107.90" width="3.6" height="9.60" rx="1.8"/><rect x="421.85" y="120.20" width="3.6" height="12.40" rx="1.8"/><circle cx="442" cy="128.9" r="1.8"/><circle cx="460.2" cy="129" r="1.8"/><rect x="472.20" y="125.20" width="3.6" height="6.60" rx="1.8"/><rect x="483.90" y="114.80" width="3.6" height="16.40" rx="1.8"/><circle cx="520.3" cy="129.5" r="1.8"/><circle cx="528.2" cy="129.5" r="1.8"/><circle cx="547.6" cy="130" r="1.8"/><circle cx="554.6" cy="128.5" r="1.8"/><circle cx="575.6" cy="128.3" r="1.8"/><rect x="613.20" y="116.40" width="3.6" height="15.10" rx="1.8"/><rect x="620.80" y="125.70" width="3.6" height="5.80" rx="1.8"/></g>
<g fill="#4183c8"><rect x="273.50" y="201.80" width="3.6" height="9.40" rx="1.8"/><rect x="421.20" y="183.00" width="3.6" height="10.80" rx="1.8"/><rect x="421.20" y="195.50" width="3.6" height="15.30" rx="1.8"/><circle cx="450.6" cy="208.2" r="1.8"/><rect x="471.00" y="199.40" width="3.6" height="10.60" rx="1.8"/><rect x="482.70" y="188.40" width="3.6" height="21.60" rx="1.8"/><circle cx="527.8" cy="208.2" r="1.8"/><circle cx="622.2" cy="208.9" r="1.8"/></g>
<g fill="#b5561f"><circle cx="148.5" cy="270.7" r="1.8"/><circle cx="148.5" cy="275.3" r="1.8"/><rect x="146.70" y="279.60" width="3.6" height="10.00" rx="1.8"/><circle cx="275.8" cy="287.2" r="1.8"/><rect x="572.80" y="283.10" width="3.6" height="5.60" rx="1.8"/><circle cx="592.4" cy="284.3" r="1.8"/></g>
<g fill="#f07a1a"><rect x="312.10" y="361.40" width="3.6" height="7.00" rx="1.8"/><circle cx="475.2" cy="365.3" r="1.8"/></g>
<g fill="#e61e1c"><rect x="91.60" y="436.70" width="3.6" height="10.00" rx="1.8"/><rect x="130.40" y="439.70" width="3.6" height="7.00" rx="1.8"/><rect x="190.90" y="436.70" width="3.6" height="10.00" rx="1.8"/><rect x="254.80" y="436.70" width="3.6" height="10.00" rx="1.8"/><rect x="273.70" y="435.90" width="3.6" height="10.80" rx="1.8"/><rect x="294.80" y="433.20" width="3.6" height="13.50" rx="1.8"/><rect x="426.60" y="439.90" width="3.6" height="6.60" rx="1.8"/><circle cx="444.3" cy="442.9" r="1.8"/><rect x="460.00" y="438.80" width="3.6" height="7.00" rx="1.8"/><circle cx="464.1" cy="444" r="1.8"/><rect x="473.30" y="418.90" width="3.6" height="8.30" rx="1.8"/><rect x="473.30" y="428.80" width="3.6" height="9.00" rx="1.8"/><rect x="473.30" y="440.00" width="3.6" height="6.50" rx="1.8"/><rect x="483.30" y="427.00" width="3.6" height="19.70" rx="1.8"/><rect x="498.50" y="439.90" width="3.6" height="7.10" rx="1.8"/><circle cx="571.6" cy="443.6" r="1.8"/><circle cx="579.7" cy="443.1" r="1.8"/><rect x="587.30" y="428.20" width="3.6" height="18.20" rx="1.8"/><rect x="591.40" y="441.20" width="3.6" height="6.60" rx="1.8"/><circle cx="615.6" cy="444" r="1.8"/><rect x="621.10" y="439.00" width="3.6" height="7.60" rx="1.8"/><rect x="623.80" y="441.20" width="3.6" height="6.60" rx="1.8"/></g>
<text x="236.6" y="51.3" font-size="11.3" fill="#111" stroke="#111" stroke-width="0.25" textLength="32.1" lengthAdjust="spacingAndGlyphs">HLA-B</text>
<text x="283.4" y="61.5" font-size="11.3" fill="#111" stroke="#111" stroke-width="0.25" textLength="13.6" lengthAdjust="spacingAndGlyphs">C6</text>
<text x="295.0" y="44.0" font-size="11.3" fill="#111" stroke="#111" stroke-width="0.25" textLength="19.6" lengthAdjust="spacingAndGlyphs">ELN</text>
<text x="329.0" y="42.3" font-size="11.3" fill="#111" stroke="#111" stroke-width="0.25" textLength="22.8" lengthAdjust="spacingAndGlyphs">PI15</text>
<text x="362.3" y="41.3" font-size="11.3" fill="#111" stroke="#111" stroke-width="0.25" textLength="52.6" lengthAdjust="spacingAndGlyphs">KIAA1462</text>
<text x="430.6" y="55.0" font-size="11.3" fill="#111" stroke="#111" stroke-width="0.25" textLength="32.4" lengthAdjust="spacingAndGlyphs">PLCE1</text>
<text x="474.7" y="63.8" font-size="11.3" fill="#111" stroke="#111" stroke-width="0.25" textLength="58.3" lengthAdjust="spacingAndGlyphs">ARHGEF40</text>
<text x="502.3" y="46.1" font-size="11.3" fill="#111" stroke="#111" stroke-width="0.25" textLength="36.7" lengthAdjust="spacingAndGlyphs">PHGR1</text>
<text x="550.4" y="33.8" font-size="11.3" fill="#111" stroke="#111" stroke-width="0.25" textLength="34.6" lengthAdjust="spacingAndGlyphs">WWP2</text>
<text x="582.0" y="53.1" font-size="11.3" fill="#111" stroke="#111" stroke-width="0.25" textLength="49.7" lengthAdjust="spacingAndGlyphs">CLEC18A</text>
<text transform="translate(669.2,38.1) rotate(90)" font-size="11.4" fill="#1a1a1a" text-anchor="middle">Aortic Arch</text>
<line x1="464.8" y1="116" x2="485.7" y2="116" stroke="#000" stroke-width="1.35"/>
<line x1="539.4" y1="108.4" x2="546.9" y2="128.9" stroke="#000" stroke-width="1.35"/>
<text x="61.0" y="120.4" font-size="11.3" fill="#111" stroke="#111" stroke-width="0.25" textLength="29.8" lengthAdjust="spacingAndGlyphs">GDF7</text>
<text x="120.6" y="135.8" font-size="11.3" fill="#111" stroke="#111" stroke-width="0.25" textLength="43.4" lengthAdjust="spacingAndGlyphs">ZBTB20</text>
<text x="190.5" y="123.0" font-size="11.3" fill="#111" stroke="#111" stroke-width="0.25" textLength="36.7" lengthAdjust="spacingAndGlyphs">MASP1</text>
<text x="200.6" y="140.1" font-size="11.3" fill="#111" stroke="#111" stroke-width="0.25" textLength="28.9" lengthAdjust="spacingAndGlyphs">NPR3</text>
<text x="239.6" y="124.2" font-size="11.3" fill="#111" stroke="#111" stroke-width="0.25" textLength="29.2" lengthAdjust="spacingAndGlyphs">NKX2</text>
<text x="236.8" y="102.7" font-size="11.3" fill="#111" stroke="#111" stroke-width="0.25" textLength="32.0" lengthAdjust="spacingAndGlyphs">HLA-B</text>
<text x="279.3" y="111.8" font-size="11.3" fill="#111" stroke="#111" stroke-width="0.25" textLength="38.1" lengthAdjust="spacingAndGlyphs">HDAC9</text>
<text x="282.3" y="137.0" font-size="11.3" fill="#111" stroke="#111" stroke-width="0.25" textLength="42.5" lengthAdjust="spacingAndGlyphs">BTN3A2</text>
<text x="323.5" y="119.8" font-size="11.3" fill="#111" stroke="#111" stroke-width="0.25" textLength="22.7" lengthAdjust="spacingAndGlyphs">PI15</text>
<text x="357.4" y="125.2" font-size="11.3" fill="#111" stroke="#111" stroke-width="0.25" textLength="52.1" lengthAdjust="spacingAndGlyphs">KIAA1462</text>
<text x="383.0" y="96.0" font-size="11.3" fill="#111" stroke="#111" stroke-width="0.25" textLength="32.8" lengthAdjust="spacingAndGlyphs">PLCE1</text>
<text x="408.3" y="132.0" font-size="11.3" fill="#111" stroke="#111" stroke-width="0.25" textLength="28.5" lengthAdjust="spacingAndGlyphs">DDB2</text>
<text x="434.5" y="114.5" font-size="11.3" fill="#111" stroke="#111" stroke-width="0.25" textLength="35.5" lengthAdjust="spacingAndGlyphs">ATXN2</text>
<text x="438.0" y="149.0" font-size="11.3" fill="#111" stroke="#111" stroke-width="0.25" textLength="52.8" lengthAdjust="spacingAndGlyphs">ADAMTS8</text>
<text x="480.6" y="111.2" font-size="11.3" fill="#111" stroke="#111" stroke-width="0.25" textLength="26.1" lengthAdjust="spacingAndGlyphs">RPL6</text>
<text x="480.6" y="129.7" font-size="11.3" fill="#111" stroke="#111" stroke-width="0.25" textLength="25.6" lengthAdjust="spacingAndGlyphs">LRP1</text>
<text x="501.6" y="146.7" font-size="11.3" fill="#111" stroke="#111" stroke-width="0.25" textLength="57.7" lengthAdjust="spacingAndGlyphs">ARHGEF40</text>
<text x="517.9" y="106.5" font-size="11.3" fill="#111" stroke="#111" stroke-width="0.25" textLength="44.1" lengthAdjust="spacingAndGlyphs">KNSTRN</text>
<text x="517.9" y="123.8" font-size="11.3" fill="#111" stroke="#111" stroke-width="0.25" textLength="27.4" lengthAdjust="spacingAndGlyphs">RTN1</text>
<text x="572.6" y="107.0" font-size="11.3" fill="#111" stroke="#111" stroke-width="0.25" textLength="44.2" lengthAdjust="spacingAndGlyphs">PLEKHJ1</text>
<text x="576.8" y="129.2" font-size="11.3" fill="#111" stroke="#111" stroke-width="0.25" textLength="34.6" lengthAdjust="spacingAndGlyphs">WWP2</text>
<text x="570.5" y="146.7" font-size="11.3" fill="#111" stroke="#111" stroke-width="0.25" textLength="32.5" lengthAdjust="spacingAndGlyphs">LOXL1</text>
<text x="614.0" y="124.6" font-size="11.3" fill="#111" stroke="#111" stroke-width="0.25" textLength="42.3" lengthAdjust="spacingAndGlyphs">CAPN12</text>
<text x="614.0" y="146.3" font-size="11.3" fill="#111" stroke="#111" stroke-width="0.25" textLength="42.6" lengthAdjust="spacingAndGlyphs">SPTBN4</text>
<text transform="translate(669.2,116.7) rotate(90)" font-size="11.4" fill="#1a1a1a" text-anchor="middle">Thoracic DA</text>
<text x="262.2" y="199.6" font-size="11.3" fill="#111" stroke="#111" stroke-width="0.25" textLength="31.8" lengthAdjust="spacingAndGlyphs">HLA-B</text>
<text x="384.5" y="180.5" font-size="11.3" fill="#111" stroke="#111" stroke-width="0.25" textLength="32.2" lengthAdjust="spacingAndGlyphs">PLCE1</text>
<text x="413.9" y="210.4" font-size="11.3" fill="#111" stroke="#111" stroke-width="0.25" textLength="30.4" lengthAdjust="spacingAndGlyphs">NOX4</text>
<text x="441.2" y="192.1" font-size="11.3" fill="#111" stroke="#111" stroke-width="0.25" textLength="36.3" lengthAdjust="spacingAndGlyphs">SH2B3</text>
<text x="479.8" y="210.4" font-size="11.3" fill="#111" stroke="#111" stroke-width="0.25" textLength="32.2" lengthAdjust="spacingAndGlyphs">STAT6</text>
<text x="491.4" y="192.8" font-size="11.3" fill="#111" stroke="#111" stroke-width="0.25" textLength="58.9" lengthAdjust="spacingAndGlyphs">MAPKAPK5</text>
<text x="533.9" y="210.2" font-size="11.3" fill="#111" stroke="#111" stroke-width="0.25" textLength="28.4" lengthAdjust="spacingAndGlyphs">RTN1</text>
<text x="609.3" y="203.6" font-size="11.3" fill="#111" stroke="#111" stroke-width="0.25" textLength="32.3" lengthAdjust="spacingAndGlyphs">LTBP4</text>
<text transform="translate(669.2,195.3) rotate(90)" font-size="11.4" fill="#1a1a1a" text-anchor="middle">Suprarenal DA</text>
<text x="129.9" y="266.0" font-size="11.3" fill="#111" stroke="#111" stroke-width="0.25" textLength="40.0" lengthAdjust="spacingAndGlyphs">WNT7A</text>
<text x="259.8" y="282.1" font-size="11.3" fill="#111" stroke="#111" stroke-width="0.25" textLength="32.4" lengthAdjust="spacingAndGlyphs">HLA-B</text>
<text x="533.2" y="282.9" font-size="11.3" fill="#111" stroke="#111" stroke-width="0.25" textLength="34.4" lengthAdjust="spacingAndGlyphs">WWP2</text>
<text x="558.6" y="300.4" font-size="11.3" fill="#111" stroke="#111" stroke-width="0.25" textLength="21.3" lengthAdjust="spacingAndGlyphs">FUK</text>
<text x="598.9" y="285.8" font-size="11.3" fill="#111" stroke="#111" stroke-width="0.25" textLength="30.6" lengthAdjust="spacingAndGlyphs">MRC2</text>
<text transform="translate(669.2,274.0) rotate(90)" font-size="11.4" fill="#1a1a1a" text-anchor="middle">Infrarenal DA</text>
<text x="287.2" y="358.4" font-size="11.3" fill="#111" stroke="#111" stroke-width="0.25" textLength="52.4" lengthAdjust="spacingAndGlyphs">HERPUD2</text>
<text x="452.7" y="358.4" font-size="11.3" fill="#111" stroke="#111" stroke-width="0.25" textLength="40.6" lengthAdjust="spacingAndGlyphs">HMGA2</text>
<text transform="translate(669.2,352.6) rotate(90)" font-size="11.4" fill="#1a1a1a" text-anchor="middle">Vena Cava</text>
<line x1="170.8" y1="422.2" x2="192.7" y2="438.2" stroke="#000" stroke-width="1.35"/>
<line x1="509.5" y1="450.9" x2="570.8" y2="444.1" stroke="#000" stroke-width="1.35"/>
<line x1="570.8" y1="411.2" x2="589.1" y2="428.8" stroke="#000" stroke-width="1.35"/>
<line x1="546.4" y1="424.2" x2="578.3" y2="442.3" stroke="#000" stroke-width="1.35"/>
<line x1="629.1" y1="423.4" x2="623.7" y2="438.2" stroke="#000" stroke-width="1.35"/>
<line x1="578.3" y1="452.3" x2="615.6" y2="444.1" stroke="#000" stroke-width="1.35"/>
<text x="45.2" y="433.6" font-size="11.3" fill="#111" stroke="#111" stroke-width="0.25" textLength="45.3" lengthAdjust="spacingAndGlyphs">TMEM18</text>
<text x="133.7" y="437.7" font-size="11.3" fill="#111" stroke="#111" stroke-width="0.25" textLength="51.7" lengthAdjust="spacingAndGlyphs">CCDC141</text>
<text x="153.2" y="420.2" font-size="11.3" fill="#111" stroke="#111" stroke-width="0.25" textLength="36.0" lengthAdjust="spacingAndGlyphs">LCORL</text>
<text x="198.8" y="433.6" font-size="11.3" fill="#111" stroke="#111" stroke-width="0.25" textLength="53.1" lengthAdjust="spacingAndGlyphs">CSNK1G3</text>
<text x="271.8" y="441.5" font-size="11.3" fill="#111" stroke="#111" stroke-width="0.25" textLength="32.1" lengthAdjust="spacingAndGlyphs">HLA-B</text>
<text x="315.0" y="436.3" font-size="11.3" fill="#111" stroke="#111" stroke-width="0.25" textLength="39.1" lengthAdjust="spacingAndGlyphs">CENPW</text>
<text x="315.0" y="453.2" font-size="11.3" fill="#111" stroke="#111" stroke-width="0.25" textLength="48.7" lengthAdjust="spacingAndGlyphs">L3MBTL3</text>
<text x="380.5" y="439.9" font-size="11.3" fill="#111" stroke="#111" stroke-width="0.25" textLength="28.7" lengthAdjust="spacingAndGlyphs">TIAL1</text>
<text x="420.2" y="435.7" font-size="11.3" fill="#111" stroke="#111" stroke-width="0.25" textLength="38.1" lengthAdjust="spacingAndGlyphs">CCND2</text>
<text x="428.4" y="418.2" font-size="11.3" fill="#111" stroke="#111" stroke-width="0.25" textLength="39.2" lengthAdjust="spacingAndGlyphs">HMGA2</text>
<text x="482.1" y="421.2" font-size="11.3" fill="#111" stroke="#111" stroke-width="0.25" textLength="28.1" lengthAdjust="spacingAndGlyphs">BRAP</text>
<text x="491.9" y="439.2" font-size="11.3" fill="#111" stroke="#111" stroke-width="0.25" textLength="36.5" lengthAdjust="spacingAndGlyphs">ALDH2</text>
<text x="402.7" y="457.4" font-size="11.3" fill="#111" stroke="#111" stroke-width="0.25" textLength="37.4" lengthAdjust="spacingAndGlyphs">OR9Q1</text>
<text x="450.6" y="456.7" font-size="11.3" fill="#111" stroke="#111" stroke-width="0.25" textLength="36.2" lengthAdjust="spacingAndGlyphs">GPR19</text>
<text x="498.0" y="461.4" font-size="11.3" fill="#111" stroke="#111" stroke-width="0.25" textLength="20.3" lengthAdjust="spacingAndGlyphs">FTO</text>
<text x="550.8" y="408.8" font-size="11.3" fill="#111" stroke="#111" stroke-width="0.25" textLength="39.1" lengthAdjust="spacingAndGlyphs">WNT9B</text>
<text x="520.3" y="422.3" font-size="11.3" fill="#111" stroke="#111" stroke-width="0.25" textLength="52.1" lengthAdjust="spacingAndGlyphs">CENPBD1</text>
<text x="577.8" y="438.5" font-size="11.3" fill="#111" stroke="#111" stroke-width="0.25" textLength="29.7" lengthAdjust="spacingAndGlyphs">CSH2</text>
<text x="599.9" y="421.8" font-size="11.3" fill="#111" stroke="#111" stroke-width="0.25" textLength="56.7" lengthAdjust="spacingAndGlyphs">AC074212</text>
<text x="616.7" y="444.8" font-size="11.3" fill="#111" stroke="#111" stroke-width="0.25" textLength="39.9" lengthAdjust="spacingAndGlyphs">ATP5SL</text>
<text x="528.4" y="450.2" font-size="11.3" fill="#111" stroke="#111" stroke-width="0.25" textLength="37.8" lengthAdjust="spacingAndGlyphs">DLEU1</text>
<text x="543.7" y="462.9" font-size="11.3" fill="#111" stroke="#111" stroke-width="0.25" textLength="60.3" lengthAdjust="spacingAndGlyphs">ADAMTS10</text>
<text x="614.8" y="462.3" font-size="11.3" fill="#111" stroke="#111" stroke-width="0.25" textLength="41.8" lengthAdjust="spacingAndGlyphs">ZNF628</text>
<text transform="translate(669.2,431.3) rotate(90)" font-size="11.4" fill="#1a1a1a" text-anchor="middle">Heart vol</text>
<text transform="translate(70.8,481) rotate(-90)" font-size="10.9" fill="#4d4d4d" text-anchor="middle">1</text>
<text transform="translate(124.5,481) rotate(-90)" font-size="10.9" fill="#4d4d4d" text-anchor="middle">2</text>
<text transform="translate(171.2,481) rotate(-90)" font-size="10.9" fill="#4d4d4d" text-anchor="middle">3</text>
<text transform="translate(214.9,481) rotate(-90)" font-size="10.9" fill="#4d4d4d" text-anchor="middle">4</text>
<text transform="translate(254.2,481) rotate(-90)" font-size="10.9" fill="#4d4d4d" text-anchor="middle">5</text>
<text transform="translate(292.7,481) rotate(-90)" font-size="10.9" fill="#4d4d4d" text-anchor="middle">6</text>
<text transform="translate(326.9,481) rotate(-90)" font-size="10.9" fill="#4d4d4d" text-anchor="middle">7</text>
<text transform="translate(360.3,481) rotate(-90)" font-size="10.9" fill="#4d4d4d" text-anchor="middle">8</text>
<text transform="translate(391.9,481) rotate(-90)" font-size="10.9" fill="#4d4d4d" text-anchor="middle">9</text>
<text transform="translate(420.9,481) rotate(-90)" font-size="10.9" fill="#4d4d4d" text-anchor="middle">10</text>
<text transform="translate(450.2,481) rotate(-90)" font-size="10.9" fill="#4d4d4d" text-anchor="middle">11</text>
<text transform="translate(479.9,481) rotate(-90)" font-size="10.9" fill="#4d4d4d" text-anchor="middle">12</text>
<text transform="translate(509.8,481) rotate(-90)" font-size="10.9" fill="#4d4d4d" text-anchor="middle">13</text>
<text transform="translate(533.4,481) rotate(-90)" font-size="10.9" fill="#4d4d4d" text-anchor="middle">14</text>
<text transform="translate(555.4,481) rotate(-90)" font-size="10.9" fill="#4d4d4d" text-anchor="middle">15</text>
<text transform="translate(573.9,481) rotate(-90)" font-size="10.9" fill="#4d4d4d" text-anchor="middle">16</text>
<text transform="translate(590.9,481) rotate(-90)" font-size="10.9" fill="#4d4d4d" text-anchor="middle">17</text>
<text transform="translate(608.9,481) rotate(-90)" font-size="10.9" fill="#4d4d4d" text-anchor="middle">18</text>
<text transform="translate(623.5,481) rotate(-90)" font-size="10.9" fill="#4d4d4d" text-anchor="middle">19</text>
<text transform="translate(636.7,481) rotate(-90)" font-size="10.9" fill="#4d4d4d" text-anchor="middle">20</text>
<text transform="translate(649.4,481) rotate(-90)" font-size="10.9" fill="#4d4d4d" text-anchor="middle">21</text>
<text transform="translate(661.9,481) rotate(-90)" font-size="10.9" fill="#4d4d4d" text-anchor="middle">22</text>
<text transform="translate(14.6,235.4) rotate(-90)" font-size="14" fill="#000" text-anchor="middle">-log10(p)</text>
<text x="3.6" y="15.5" font-size="17.3" font-weight="bold" fill="#000" stroke="#000" stroke-width="0.7">A</text>
<text x="3.6" y="515.1" font-size="17.3" font-weight="bold" fill="#000" stroke="#000" stroke-width="0.7">B</text>
<text x="409.1" y="515.9" font-size="17.3" font-weight="bold" fill="#000" stroke="#000" stroke-width="0.7">C</text>
<circle cx="176.40" cy="520.20" r="6.20" fill="#eee0e0" fill-opacity="0.62" stroke="#eee0e0" stroke-opacity="0.37" stroke-width="0.6"/>
<circle cx="205.33" cy="520.20" r="8.40" fill="#ebdcdc" fill-opacity="0.62" stroke="#ebdcdc" stroke-opacity="0.37" stroke-width="0.6"/>
<circle cx="234.26" cy="520.20" r="8.20" fill="#ebdcdc" fill-opacity="0.62" stroke="#ebdcdc" stroke-opacity="0.37" stroke-width="0.6"/>
<circle cx="263.19" cy="520.20" r="9.45" fill="#e1c9c9" fill-opacity="0.62" stroke="#e1c9c9" stroke-opacity="0.37" stroke-width="0.6"/>
<circle cx="292.12" cy="520.20" r="12.50" fill="#d4b2b2" fill-opacity="0.62" stroke="#d4b2b2" stroke-opacity="0.37" stroke-width="0.6"/>
<circle cx="321.05" cy="520.20" r="14.55" fill="#e0c7c7" fill-opacity="0.62" stroke="#e0c7c7" stroke-opacity="0.37" stroke-width="0.6"/>
<circle cx="176.40" cy="549.10" r="7.25" fill="#c39393" fill-opacity="0.62" stroke="#c39393" stroke-opacity="0.37" stroke-width="0.6"/>
<circle cx="205.33" cy="549.10" r="9.00" fill="#b57a7a" fill-opacity="0.62" stroke="#b57a7a" stroke-opacity="0.37" stroke-width="0.6"/>
<circle cx="234.26" cy="549.10" r="9.00" fill="#9b4b4b" fill-opacity="0.62" stroke="#9b4b4b" stroke-opacity="0.37" stroke-width="0.6"/>
<circle cx="263.19" cy="549.10" r="6.45" fill="#d0aaaa" fill-opacity="0.62" stroke="#d0aaaa" stroke-opacity="0.37" stroke-width="0.6"/>
<circle cx="292.12" cy="549.10" r="7.40" fill="#c29191" fill-opacity="0.62" stroke="#c29191" stroke-opacity="0.37" stroke-width="0.6"/>
<circle cx="321.05" cy="549.10" r="7.30" fill="#cda6a6" fill-opacity="0.62" stroke="#cda6a6" stroke-opacity="0.37" stroke-width="0.6"/>
<circle cx="176.40" cy="578.00" r="7.15" fill="#dabdbd" fill-opacity="0.62" stroke="#dabdbd" stroke-opacity="0.37" stroke-width="0.6"/>
<circle cx="205.33" cy="578.00" r="7.30" fill="#e2cbcb" fill-opacity="0.62" stroke="#e2cbcb" stroke-opacity="0.37" stroke-width="0.6"/>
<circle cx="234.26" cy="578.00" r="5.80" fill="#ebdcdc" fill-opacity="0.62" stroke="#ebdcdc" stroke-opacity="0.37" stroke-width="0.6"/>
<circle cx="263.19" cy="578.00" r="4.50" fill="#f7f0f0" fill-opacity="0.62" stroke="#f7f0f0" stroke-opacity="0.37" stroke-width="0.6"/>
<circle cx="292.12" cy="578.00" r="3.50" fill="#f6f6fa" fill-opacity="0.62" stroke="#f6f6fa" stroke-opacity="0.37" stroke-width="0.6"/>
<circle cx="321.05" cy="578.00" r="6.75" fill="#e4cfcf" fill-opacity="0.62" stroke="#e4cfcf" stroke-opacity="0.37" stroke-width="0.6"/>
<circle cx="176.40" cy="606.90" r="5.65" fill="#ebeaf5" fill-opacity="0.62" stroke="#ebeaf5" stroke-opacity="0.37" stroke-width="0.6"/>
<circle cx="205.33" cy="606.90" r="3.50" fill="#fdfdfe" fill-opacity="0.62" stroke="#fdfdfe" stroke-opacity="0.37" stroke-width="0.6"/>
<circle cx="234.26" cy="606.90" r="3.50" fill="#fbfbfd" fill-opacity="0.62" stroke="#fbfbfd" stroke-opacity="0.37" stroke-width="0.6"/>
<circle cx="263.19" cy="606.90" r="4.50" fill="#faf7f7" fill-opacity="0.62" stroke="#faf7f7" stroke-opacity="0.37" stroke-width="0.6"/>
<circle cx="292.12" cy="606.90" r="8.35" fill="#dfddee" fill-opacity="0.62" stroke="#dfddee" stroke-opacity="0.37" stroke-width="0.6"/>
<circle cx="321.05" cy="606.90" r="3.50" fill="#ffffff" fill-opacity="0.62" stroke="#ffffff" stroke-opacity="0.37" stroke-width="0.6"/>
<circle cx="176.40" cy="635.80" r="6.00" fill="#f7f0f0" fill-opacity="0.62" stroke="#f7f0f0" stroke-opacity="0.37" stroke-width="0.6"/>
<circle cx="205.33" cy="635.80" r="4.00" fill="#fdfbfb" fill-opacity="0.62" stroke="#fdfbfb" stroke-opacity="0.37" stroke-width="0.6"/>
<circle cx="234.26" cy="635.80" r="4.00" fill="#fefdfd" fill-opacity="0.62" stroke="#fefdfd" stroke-opacity="0.37" stroke-width="0.6"/>
<circle cx="263.19" cy="635.80" r="7.15" fill="#f5ecec" fill-opacity="0.62" stroke="#f5ecec" stroke-opacity="0.37" stroke-width="0.6"/>
<circle cx="292.12" cy="635.80" r="4.00" fill="#fdfbfb" fill-opacity="0.62" stroke="#fdfbfb" stroke-opacity="0.37" stroke-width="0.6"/>
<circle cx="321.05" cy="635.80" r="4.00" fill="#faf7f7" fill-opacity="0.62" stroke="#faf7f7" stroke-opacity="0.37" stroke-width="0.6"/>
<circle cx="176.40" cy="664.70" r="6.00" fill="#eae8f4" fill-opacity="0.62" stroke="#eae8f4" stroke-opacity="0.37" stroke-width="0.6"/>
<circle cx="205.33" cy="664.70" r="4.00" fill="#f6f6fa" fill-opacity="0.62" stroke="#f6f6fa" stroke-opacity="0.37" stroke-width="0.6"/>
<circle cx="234.26" cy="664.70" r="6.00" fill="#f1f0f8" fill-opacity="0.62" stroke="#f1f0f8" stroke-opacity="0.37" stroke-width="0.6"/>
<circle cx="263.19" cy="664.70" r="7.00" fill="#e4e3f1" fill-opacity="0.62" stroke="#e4e3f1" stroke-opacity="0.37" stroke-width="0.6"/>
<circle cx="292.12" cy="664.70" r="7.00" fill="#e2e1f0" fill-opacity="0.62" stroke="#e2e1f0" stroke-opacity="0.37" stroke-width="0.6"/>
<circle cx="321.05" cy="664.70" r="4.00" fill="#fbfbfd" fill-opacity="0.62" stroke="#fbfbfd" stroke-opacity="0.37" stroke-width="0.6"/>
<circle cx="176.40" cy="693.60" r="4.00" fill="#f7f0f0" fill-opacity="0.62" stroke="#f7f0f0" stroke-opacity="0.37" stroke-width="0.6"/>
<circle cx="205.33" cy="693.60" r="4.00" fill="#faf7f7" fill-opacity="0.62" stroke="#faf7f7" stroke-opacity="0.37" stroke-width="0.6"/>
<circle cx="234.26" cy="693.60" r="4.00" fill="#faf9fc" fill-opacity="0.62" stroke="#faf9fc" stroke-opacity="0.37" stroke-width="0.6"/>
<circle cx="263.19" cy="693.60" r="7.50" fill="#e1dfef" fill-opacity="0.62" stroke="#e1dfef" stroke-opacity="0.37" stroke-width="0.6"/>
<circle cx="292.12" cy="693.60" r="4.00" fill="#faf9fc" fill-opacity="0.62" stroke="#faf9fc" stroke-opacity="0.37" stroke-width="0.6"/>
<circle cx="321.05" cy="693.60" r="4.00" fill="#ffffff" fill-opacity="0.62" stroke="#ffffff" stroke-opacity="0.37" stroke-width="0.6"/>
<circle cx="176.40" cy="722.50" r="10.00" fill="#e2cbcb" fill-opacity="0.62" stroke="#e2cbcb" stroke-opacity="0.37" stroke-width="0.6"/>
<circle cx="205.33" cy="722.50" r="6.00" fill="#f1e6e6" fill-opacity="0.62" stroke="#f1e6e6" stroke-opacity="0.37" stroke-width="0.6"/>
<circle cx="234.26" cy="722.50" r="4.00" fill="#faf7f7" fill-opacity="0.62" stroke="#faf7f7" stroke-opacity="0.37" stroke-width="0.6"/>
<circle cx="263.19" cy="722.50" r="6.00" fill="#eae8f4" fill-opacity="0.62" stroke="#eae8f4" stroke-opacity="0.37" stroke-width="0.6"/>
<circle cx="292.12" cy="722.50" r="6.00" fill="#efe2e2" fill-opacity="0.62" stroke="#efe2e2" stroke-opacity="0.37" stroke-width="0.6"/>
<circle cx="321.05" cy="722.50" r="4.50" fill="#fcf9f9" fill-opacity="0.62" stroke="#fcf9f9" stroke-opacity="0.37" stroke-width="0.6"/>
<text x="165.95" y="524.00" font-size="10.7" fill="#111" textLength="24.38" lengthAdjust="spacingAndGlyphs">0.15</text>
<text x="194.88" y="524.00" font-size="10.7" fill="#111" textLength="24.38" lengthAdjust="spacingAndGlyphs">0.17</text>
<text x="223.81" y="524.00" font-size="10.7" fill="#111" textLength="24.38" lengthAdjust="spacingAndGlyphs">0.17</text>
<text x="252.74" y="524.00" font-size="10.7" fill="#111" textLength="24.38" lengthAdjust="spacingAndGlyphs">0.26</text>
<text x="281.67" y="524.00" font-size="10.7" fill="#111" textLength="24.38" lengthAdjust="spacingAndGlyphs">0.37</text>
<text x="310.60" y="524.00" font-size="10.7" fill="#111" textLength="24.38" lengthAdjust="spacingAndGlyphs">0.27</text>
<text transform="translate(153.4,525.5) rotate(-15)" font-size="12.8" fill="#4d4d4d" text-anchor="end">Varicose veins</text>
<text x="165.95" y="552.90" font-size="10.7" fill="#111" textLength="24.38" lengthAdjust="spacingAndGlyphs">0.52</text>
<text x="194.88" y="552.90" font-size="10.7" fill="#111" textLength="24.38" lengthAdjust="spacingAndGlyphs">0.64</text>
<text x="223.81" y="552.90" font-size="10.7" fill="#111" textLength="24.38" lengthAdjust="spacingAndGlyphs">0.87</text>
<text x="252.74" y="552.90" font-size="10.7" fill="#111" textLength="24.38" lengthAdjust="spacingAndGlyphs">0.41</text>
<text x="281.67" y="552.90" font-size="10.7" fill="#111" textLength="24.38" lengthAdjust="spacingAndGlyphs">0.53</text>
<text x="310.60" y="552.90" font-size="10.7" fill="#111" textLength="24.38" lengthAdjust="spacingAndGlyphs">0.43</text>
<text transform="translate(153.4,554.4) rotate(-15)" font-size="12.8" fill="#4d4d4d" text-anchor="end">Other aneurysm</text>
<text x="165.95" y="581.80" font-size="10.7" fill="#111" textLength="24.38" lengthAdjust="spacingAndGlyphs">0.32</text>
<text x="194.88" y="581.80" font-size="10.7" fill="#111" textLength="24.38" lengthAdjust="spacingAndGlyphs">0.25</text>
<text x="223.81" y="581.80" font-size="10.7" fill="#111" textLength="24.38" lengthAdjust="spacingAndGlyphs">0.17</text>
<text x="252.74" y="581.80" font-size="10.7" fill="#111" textLength="24.38" lengthAdjust="spacingAndGlyphs">0.07</text>
<text x="277.95" y="581.80" font-size="10.7" fill="#111" textLength="28.33" lengthAdjust="spacingAndGlyphs">-0.05</text>
<text x="310.60" y="581.80" font-size="10.7" fill="#111" textLength="24.38" lengthAdjust="spacingAndGlyphs">0.23</text>
<text transform="translate(153.4,583.3) rotate(-15)" font-size="12.8" fill="#4d4d4d" text-anchor="end">CVD</text>
<text x="162.23" y="610.70" font-size="10.7" fill="#111" textLength="28.33" lengthAdjust="spacingAndGlyphs">-0.11</text>
<text x="191.16" y="610.70" font-size="10.7" fill="#111" textLength="28.33" lengthAdjust="spacingAndGlyphs">-0.01</text>
<text x="220.09" y="610.70" font-size="10.7" fill="#111" textLength="28.33" lengthAdjust="spacingAndGlyphs">-0.02</text>
<text x="252.74" y="610.70" font-size="10.7" fill="#111" textLength="24.38" lengthAdjust="spacingAndGlyphs">0.04</text>
<text x="277.95" y="610.70" font-size="10.7" fill="#111" textLength="28.33" lengthAdjust="spacingAndGlyphs">-0.18</text>
<text x="310.60" y="610.70" font-size="10.7" fill="#111" textLength="24.38" lengthAdjust="spacingAndGlyphs">0.00</text>
<text transform="translate(153.4,612.2) rotate(-15)" font-size="12.8" fill="#4d4d4d" text-anchor="end">IHD</text>
<text x="165.95" y="639.60" font-size="10.7" fill="#111" textLength="24.38" lengthAdjust="spacingAndGlyphs">0.07</text>
<text x="194.88" y="639.60" font-size="10.7" fill="#111" textLength="24.38" lengthAdjust="spacingAndGlyphs">0.02</text>
<text x="223.81" y="639.60" font-size="10.7" fill="#111" textLength="24.38" lengthAdjust="spacingAndGlyphs">0.01</text>
<text x="252.74" y="639.60" font-size="10.7" fill="#111" textLength="24.38" lengthAdjust="spacingAndGlyphs">0.09</text>
<text x="281.67" y="639.60" font-size="10.7" fill="#111" textLength="24.38" lengthAdjust="spacingAndGlyphs">0.02</text>
<text x="310.60" y="639.60" font-size="10.7" fill="#111" textLength="24.38" lengthAdjust="spacingAndGlyphs">0.04</text>
<text transform="translate(153.4,641.1) rotate(-15)" font-size="12.8" fill="#4d4d4d" text-anchor="end">CAD</text>
<text x="162.23" y="668.50" font-size="10.7" fill="#111" textLength="28.33" lengthAdjust="spacingAndGlyphs">-0.12</text>
<text x="191.16" y="668.50" font-size="10.7" fill="#111" textLength="28.33" lengthAdjust="spacingAndGlyphs">-0.05</text>
<text x="220.09" y="668.50" font-size="10.7" fill="#111" textLength="28.33" lengthAdjust="spacingAndGlyphs">-0.08</text>
<text x="249.02" y="668.50" font-size="10.7" fill="#111" textLength="28.33" lengthAdjust="spacingAndGlyphs">-0.15</text>
<text x="277.95" y="668.50" font-size="10.7" fill="#111" textLength="28.33" lengthAdjust="spacingAndGlyphs">-0.16</text>
<text x="306.88" y="668.50" font-size="10.7" fill="#111" textLength="28.33" lengthAdjust="spacingAndGlyphs">-0.02</text>
<text transform="translate(153.4,670.0) rotate(-15)" font-size="12.8" fill="#4d4d4d" text-anchor="end">PP</text>
<text x="165.95" y="697.40" font-size="10.7" fill="#111" textLength="24.38" lengthAdjust="spacingAndGlyphs">0.07</text>
<text x="194.88" y="697.40" font-size="10.7" fill="#111" textLength="24.38" lengthAdjust="spacingAndGlyphs">0.04</text>
<text x="220.09" y="697.40" font-size="10.7" fill="#111" textLength="28.33" lengthAdjust="spacingAndGlyphs">-0.03</text>
<text x="249.02" y="697.40" font-size="10.7" fill="#111" textLength="28.33" lengthAdjust="spacingAndGlyphs">-0.17</text>
<text x="277.95" y="697.40" font-size="10.7" fill="#111" textLength="28.33" lengthAdjust="spacingAndGlyphs">-0.03</text>
<text x="310.60" y="697.40" font-size="10.7" fill="#111" textLength="24.38" lengthAdjust="spacingAndGlyphs">0.00</text>
<text transform="translate(153.4,698.9) rotate(-15)" font-size="12.8" fill="#4d4d4d" text-anchor="end">SBP</text>
<text x="165.95" y="726.30" font-size="10.7" fill="#111" textLength="24.38" lengthAdjust="spacingAndGlyphs">0.25</text>
<text x="194.88" y="726.30" font-size="10.7" fill="#111" textLength="24.38" lengthAdjust="spacingAndGlyphs">0.12</text>
<text x="223.81" y="726.30" font-size="10.7" fill="#111" textLength="24.38" lengthAdjust="spacingAndGlyphs">0.04</text>
<text x="249.02" y="726.30" font-size="10.7" fill="#111" textLength="28.33" lengthAdjust="spacingAndGlyphs">-0.12</text>
<text x="281.67" y="726.30" font-size="10.7" fill="#111" textLength="24.38" lengthAdjust="spacingAndGlyphs">0.14</text>
<text x="310.60" y="726.30" font-size="10.7" fill="#111" textLength="24.38" lengthAdjust="spacingAndGlyphs">0.03</text>
<text transform="translate(153.4,727.8) rotate(-15)" font-size="12.8" fill="#4d4d4d" text-anchor="end">DBP</text>
<text transform="translate(184.7,750.1) rotate(-75)" font-size="12.7" fill="#4d4d4d" text-anchor="end">Aortic Arch</text>
<text transform="translate(213.6,750.1) rotate(-75)" font-size="12.7" fill="#4d4d4d" text-anchor="end">Thoracic DA</text>
<text transform="translate(242.6,750.1) rotate(-75)" font-size="12.7" fill="#4d4d4d" text-anchor="end">Suprarenal DA</text>
<text transform="translate(271.5,750.1) rotate(-75)" font-size="12.7" fill="#4d4d4d" text-anchor="end">Infrarenal DA</text>
<text transform="translate(300.4,750.1) rotate(-75)" font-size="12.7" fill="#4d4d4d" text-anchor="end">Vena Cava</text>
<text transform="translate(329.4,750.1) rotate(-75)" font-size="12.7" fill="#4d4d4d" text-anchor="end">Heart vol</text>
<circle cx="531.10" cy="556.30" r="5.35" fill="#ba8383" fill-opacity="0.62" stroke="#ba8383" stroke-opacity="0.37" stroke-width="0.6"/>
<circle cx="558.50" cy="556.30" r="7.05" fill="#ad6c6c" fill-opacity="0.62" stroke="#ad6c6c" stroke-opacity="0.37" stroke-width="0.6"/>
<circle cx="585.90" cy="556.30" r="5.35" fill="#b98181" fill-opacity="0.62" stroke="#b98181" stroke-opacity="0.37" stroke-width="0.6"/>
<circle cx="613.30" cy="556.30" r="4.95" fill="#b77e7e" fill-opacity="0.62" stroke="#b77e7e" stroke-opacity="0.37" stroke-width="0.6"/>
<circle cx="640.70" cy="556.30" r="5.35" fill="#ae6e6e" fill-opacity="0.62" stroke="#ae6e6e" stroke-opacity="0.37" stroke-width="0.6"/>
<circle cx="668.10" cy="556.30" r="12.80" fill="#964242" fill-opacity="0.62" stroke="#964242" stroke-opacity="0.37" stroke-width="0.6"/>
<circle cx="531.10" cy="583.70" r="3.10" fill="#e4e3f1" fill-opacity="0.62" stroke="#e4e3f1" stroke-opacity="0.37" stroke-width="0.6"/>
<circle cx="558.50" cy="583.70" r="3.10" fill="#d4d2e9" fill-opacity="0.62" stroke="#d4d2e9" stroke-opacity="0.37" stroke-width="0.6"/>
<circle cx="585.90" cy="583.70" r="3.10" fill="#d4d2e9" fill-opacity="0.62" stroke="#d4d2e9" stroke-opacity="0.37" stroke-width="0.6"/>
<circle cx="613.30" cy="583.70" r="3.10" fill="#cbc8e4" fill-opacity="0.62" stroke="#cbc8e4" stroke-opacity="0.37" stroke-width="0.6"/>
<circle cx="640.70" cy="583.70" r="2.50" fill="#edecf6" fill-opacity="0.62" stroke="#edecf6" stroke-opacity="0.37" stroke-width="0.6"/>
<circle cx="668.10" cy="583.70" r="3.70" fill="#cbc8e4" fill-opacity="0.62" stroke="#cbc8e4" stroke-opacity="0.37" stroke-width="0.6"/>
<circle cx="531.10" cy="611.10" r="4.95" fill="#bd8989" fill-opacity="0.62" stroke="#bd8989" stroke-opacity="0.37" stroke-width="0.6"/>
<circle cx="558.50" cy="611.10" r="7.05" fill="#af7070" fill-opacity="0.62" stroke="#af7070" stroke-opacity="0.37" stroke-width="0.6"/>
<circle cx="585.90" cy="611.10" r="5.35" fill="#b98181" fill-opacity="0.62" stroke="#b98181" stroke-opacity="0.37" stroke-width="0.6"/>
<circle cx="613.30" cy="611.10" r="5.35" fill="#b67c7c" fill-opacity="0.62" stroke="#b67c7c" stroke-opacity="0.37" stroke-width="0.6"/>
<circle cx="640.70" cy="611.10" r="5.35" fill="#b67c7c" fill-opacity="0.62" stroke="#b67c7c" stroke-opacity="0.37" stroke-width="0.6"/>
<circle cx="668.10" cy="611.10" r="14.65" fill="#994949" fill-opacity="0.62" stroke="#994949" stroke-opacity="0.37" stroke-width="0.6"/>
<circle cx="531.10" cy="638.50" r="4.35" fill="#cfa8a8" fill-opacity="0.62" stroke="#cfa8a8" stroke-opacity="0.37" stroke-width="0.6"/>
<circle cx="558.50" cy="638.50" r="4.95" fill="#c18f8f" fill-opacity="0.62" stroke="#c18f8f" stroke-opacity="0.37" stroke-width="0.6"/>
<circle cx="585.90" cy="638.50" r="4.60" fill="#c89c9c" fill-opacity="0.62" stroke="#c89c9c" stroke-opacity="0.37" stroke-width="0.6"/>
<circle cx="613.30" cy="638.50" r="4.70" fill="#c29191" fill-opacity="0.62" stroke="#c29191" stroke-opacity="0.37" stroke-width="0.6"/>
<circle cx="640.70" cy="638.50" r="3.70" fill="#cca4a4" fill-opacity="0.62" stroke="#cca4a4" stroke-opacity="0.37" stroke-width="0.6"/>
<circle cx="668.10" cy="638.50" r="9.30" fill="#af7070" fill-opacity="0.62" stroke="#af7070" stroke-opacity="0.37" stroke-width="0.6"/>
<circle cx="531.10" cy="665.90" r="6.80" fill="#ab6868" fill-opacity="0.62" stroke="#ab6868" stroke-opacity="0.37" stroke-width="0.6"/>
<circle cx="558.50" cy="665.90" r="0.05" fill="#923c3c" fill-opacity="0.62" stroke="#923c3c" stroke-opacity="0.37" stroke-width="0.6"/>
<circle cx="585.90" cy="665.90" r="9.55" fill="#a05555" fill-opacity="0.62" stroke="#a05555" stroke-opacity="0.37" stroke-width="0.6"/>
<circle cx="613.30" cy="665.90" r="6.80" fill="#a45b5b" fill-opacity="0.62" stroke="#a45b5b" stroke-opacity="0.37" stroke-width="0.6"/>
<circle cx="640.70" cy="665.90" r="4.95" fill="#c39393" fill-opacity="0.62" stroke="#c39393" stroke-opacity="0.37" stroke-width="0.6"/>
<circle cx="668.10" cy="665.90" r="9.30" fill="#ae6e6e" fill-opacity="0.62" stroke="#ae6e6e" stroke-opacity="0.37" stroke-width="0.6"/>
<circle cx="531.10" cy="693.30" r="7.70" fill="#a65f5f" fill-opacity="0.62" stroke="#a65f5f" stroke-opacity="0.37" stroke-width="0.6"/>
<circle cx="558.50" cy="693.30" r="5.60" fill="#c49595" fill-opacity="0.62" stroke="#c49595" stroke-opacity="0.37" stroke-width="0.6"/>
<circle cx="585.90" cy="693.30" r="4.60" fill="#c99e9e" fill-opacity="0.62" stroke="#c99e9e" stroke-opacity="0.37" stroke-width="0.6"/>
<circle cx="613.30" cy="693.30" r="4.35" fill="#dbbfbf" fill-opacity="0.62" stroke="#dbbfbf" stroke-opacity="0.37" stroke-width="0.6"/>
<circle cx="640.70" cy="693.30" r="4.95" fill="#b98181" fill-opacity="0.62" stroke="#b98181" stroke-opacity="0.37" stroke-width="0.6"/>
<circle cx="668.10" cy="693.30" r="8.05" fill="#c18f8f" fill-opacity="0.62" stroke="#c18f8f" stroke-opacity="0.37" stroke-width="0.6"/>
<text x="520.65" y="560.10" font-size="10.7" fill="#111" textLength="24.38" lengthAdjust="spacingAndGlyphs">0.60</text>
<text x="548.05" y="560.10" font-size="10.7" fill="#111" textLength="24.38" lengthAdjust="spacingAndGlyphs">0.71</text>
<text x="575.45" y="560.10" font-size="10.7" fill="#111" textLength="24.38" lengthAdjust="spacingAndGlyphs">0.61</text>
<text x="602.85" y="560.10" font-size="10.7" fill="#111" textLength="24.38" lengthAdjust="spacingAndGlyphs">0.62</text>
<text x="630.25" y="560.10" font-size="10.7" fill="#111" textLength="24.38" lengthAdjust="spacingAndGlyphs">0.70</text>
<text x="657.65" y="560.10" font-size="10.7" fill="#111" textLength="24.38" lengthAdjust="spacingAndGlyphs">0.91</text>
<text transform="translate(509.3,561.6) rotate(-15)" font-size="12.8" fill="#4d4d4d" text-anchor="end">SV</text>
<text x="516.93" y="587.50" font-size="10.7" fill="#111" textLength="28.33" lengthAdjust="spacingAndGlyphs">-0.15</text>
<text x="544.33" y="587.50" font-size="10.7" fill="#111" textLength="28.33" lengthAdjust="spacingAndGlyphs">-0.24</text>
<text x="571.73" y="587.50" font-size="10.7" fill="#111" textLength="28.33" lengthAdjust="spacingAndGlyphs">-0.24</text>
<text x="599.13" y="587.50" font-size="10.7" fill="#111" textLength="28.33" lengthAdjust="spacingAndGlyphs">-0.29</text>
<text x="626.53" y="587.50" font-size="10.7" fill="#111" textLength="28.33" lengthAdjust="spacingAndGlyphs">-0.10</text>
<text x="653.93" y="587.50" font-size="10.7" fill="#111" textLength="28.33" lengthAdjust="spacingAndGlyphs">-0.29</text>
<text transform="translate(509.3,589.0) rotate(-15)" font-size="12.8" fill="#4d4d4d" text-anchor="end">L Ventricle EF</text>
<text x="520.65" y="614.90" font-size="10.7" fill="#111" textLength="24.38" lengthAdjust="spacingAndGlyphs">0.57</text>
<text x="548.05" y="614.90" font-size="10.7" fill="#111" textLength="24.38" lengthAdjust="spacingAndGlyphs">0.69</text>
<text x="575.45" y="614.90" font-size="10.7" fill="#111" textLength="24.38" lengthAdjust="spacingAndGlyphs">0.61</text>
<text x="602.85" y="614.90" font-size="10.7" fill="#111" textLength="24.38" lengthAdjust="spacingAndGlyphs">0.63</text>
<text x="630.25" y="614.90" font-size="10.7" fill="#111" textLength="24.38" lengthAdjust="spacingAndGlyphs">0.63</text>
<text x="657.65" y="614.90" font-size="10.7" fill="#111" textLength="24.38" lengthAdjust="spacingAndGlyphs">0.88</text>
<text transform="translate(509.3,616.4) rotate(-15)" font-size="12.8" fill="#4d4d4d" text-anchor="end">L Ventricle EDV</text>
<text x="520.65" y="642.30" font-size="10.7" fill="#111" textLength="24.38" lengthAdjust="spacingAndGlyphs">0.42</text>
<text x="548.05" y="642.30" font-size="10.7" fill="#111" textLength="24.38" lengthAdjust="spacingAndGlyphs">0.54</text>
<text x="575.45" y="642.30" font-size="10.7" fill="#111" textLength="24.38" lengthAdjust="spacingAndGlyphs">0.48</text>
<text x="602.85" y="642.30" font-size="10.7" fill="#111" textLength="24.38" lengthAdjust="spacingAndGlyphs">0.53</text>
<text x="630.25" y="642.30" font-size="10.7" fill="#111" textLength="24.38" lengthAdjust="spacingAndGlyphs">0.44</text>
<text x="657.65" y="642.30" font-size="10.7" fill="#111" textLength="24.38" lengthAdjust="spacingAndGlyphs">0.69</text>
<text transform="translate(509.3,643.8) rotate(-15)" font-size="12.8" fill="#4d4d4d" text-anchor="end">L Ventricle ESV</text>
<text x="520.65" y="669.70" font-size="10.7" fill="#111" textLength="24.38" lengthAdjust="spacingAndGlyphs">0.73</text>
<text x="548.05" y="669.70" font-size="10.7" fill="#111" textLength="24.38" lengthAdjust="spacingAndGlyphs">0.94</text>
<text x="575.45" y="669.70" font-size="10.7" fill="#111" textLength="24.38" lengthAdjust="spacingAndGlyphs">0.82</text>
<text x="602.85" y="669.70" font-size="10.7" fill="#111" textLength="24.38" lengthAdjust="spacingAndGlyphs">0.79</text>
<text x="630.25" y="669.70" font-size="10.7" fill="#111" textLength="24.38" lengthAdjust="spacingAndGlyphs">0.52</text>
<text x="657.65" y="669.70" font-size="10.7" fill="#111" textLength="24.38" lengthAdjust="spacingAndGlyphs">0.70</text>
<text transform="translate(509.3,671.2) rotate(-15)" font-size="12.8" fill="#4d4d4d" text-anchor="end">Desc. Aorta diam</text>
<text x="520.65" y="697.10" font-size="10.7" fill="#111" textLength="24.38" lengthAdjust="spacingAndGlyphs">0.77</text>
<text x="548.05" y="697.10" font-size="10.7" fill="#111" textLength="24.38" lengthAdjust="spacingAndGlyphs">0.51</text>
<text x="575.45" y="697.10" font-size="10.7" fill="#111" textLength="24.38" lengthAdjust="spacingAndGlyphs">0.47</text>
<text x="602.85" y="697.10" font-size="10.7" fill="#111" textLength="24.38" lengthAdjust="spacingAndGlyphs">0.31</text>
<text x="630.25" y="697.10" font-size="10.7" fill="#111" textLength="24.38" lengthAdjust="spacingAndGlyphs">0.61</text>
<text x="657.65" y="697.10" font-size="10.7" fill="#111" textLength="24.38" lengthAdjust="spacingAndGlyphs">0.54</text>
<text transform="translate(509.3,698.6) rotate(-15)" font-size="12.8" fill="#4d4d4d" text-anchor="end">Asc. Aorta diam</text>
<text transform="translate(539.4,718.3) rotate(-75)" font-size="12.7" fill="#4d4d4d" text-anchor="end">Aortic Arch</text>
<text transform="translate(566.8,718.3) rotate(-75)" font-size="12.7" fill="#4d4d4d" text-anchor="end">Thoracic DA</text>
<text transform="translate(594.2,718.3) rotate(-75)" font-size="12.7" fill="#4d4d4d" text-anchor="end">Suprarenal DA</text>
<text transform="translate(621.6,718.3) rotate(-75)" font-size="12.7" fill="#4d4d4d" text-anchor="end">Infrarenal DA</text>
<text transform="translate(649.0,718.3) rotate(-75)" font-size="12.7" fill="#4d4d4d" text-anchor="end">Vena Cava</text>
<text transform="translate(676.4,718.3) rotate(-75)" font-size="12.7" fill="#4d4d4d" text-anchor="end">Heart vol</text>
<circle cx="80.9" cy="869.5" r="8.9" fill="#7f7f7f" stroke="#4d4d4d" stroke-width="0.6"/>
<text x="99" y="874.2" font-size="12.4" fill="#222">2</text>
<circle cx="127.9" cy="869.5" r="11.4" fill="#7f7f7f" stroke="#4d4d4d" stroke-width="0.6"/>
<text x="148.8" y="874.2" font-size="12.4" fill="#222">4</text>
<circle cx="180.7" cy="869.5" r="13.45" fill="#7f7f7f" stroke="#4d4d4d" stroke-width="0.6"/>
<text x="204.8" y="874.2" font-size="12.4" fill="#222">6</text>
<circle cx="551.8" cy="837.6" r="9.55" fill="#7f7f7f" stroke="#4d4d4d" stroke-width="0.6"/>
<text x="571.4" y="842.3" font-size="12.4" fill="#222">100</text>
<circle cx="615" cy="837.6" r="12.5" fill="#7f7f7f" stroke="#4d4d4d" stroke-width="0.6"/>
<text x="637.9" y="842.3" font-size="12.4" fill="#222">200</text>
<defs><linearGradient id="cb" x1="0" x2="1" y1="0" y2="0"><stop offset="0" stop-color="#3a2f9a"/><stop offset="0.047" stop-color="#4539a0"/><stop offset="0.16" stop-color="#7a70b9"/><stop offset="0.273" stop-color="#a199cc"/><stop offset="0.39" stop-color="#d2cee6"/><stop offset="0.5" stop-color="#ffffff"/><stop offset="0.61" stop-color="#ecdcdc"/><stop offset="0.7265" stop-color="#c39090"/><stop offset="0.84" stop-color="#a85858"/><stop offset="0.953" stop-color="#8a2828"/><stop offset="1" stop-color="#801b1b"/></linearGradient></defs>
<rect x="240.8" y="852.5" width="186.8" height="18.4" fill="url(#cb)"/>
<line x1="249.6" x2="249.6" y1="852.5" y2="856.8" stroke="#fff" stroke-width="0.9"/>
<line x1="249.6" x2="249.6" y1="866.6" y2="870.9" stroke="#fff" stroke-width="0.9"/>
<line x1="291.8" x2="291.8" y1="852.5" y2="856.8" stroke="#fff" stroke-width="0.9"/>
<line x1="291.8" x2="291.8" y1="866.6" y2="870.9" stroke="#fff" stroke-width="0.9"/>
<line x1="334.1" x2="334.1" y1="852.5" y2="856.8" stroke="#fff" stroke-width="0.9"/>
<line x1="334.1" x2="334.1" y1="866.6" y2="870.9" stroke="#fff" stroke-width="0.9"/>
<line x1="376.4" x2="376.4" y1="852.5" y2="856.8" stroke="#fff" stroke-width="0.9"/>
<line x1="376.4" x2="376.4" y1="866.6" y2="870.9" stroke="#fff" stroke-width="0.9"/>
<line x1="418.6" x2="418.6" y1="852.5" y2="856.8" stroke="#fff" stroke-width="0.9"/>
<line x1="418.6" x2="418.6" y1="866.6" y2="870.9" stroke="#fff" stroke-width="0.9"/>
<text x="249.6" y="888.7" font-size="12.4" fill="#222" text-anchor="middle">-1.0</text>
<text x="291.8" y="888.7" font-size="12.4" fill="#222" text-anchor="middle">-0.5</text>
<text x="334.1" y="888.7" font-size="12.4" fill="#222" text-anchor="middle">0.0</text>
<text x="376.4" y="888.7" font-size="12.4" fill="#222" text-anchor="middle">0.5</text>
<text x="418.6" y="888.7" font-size="12.4" fill="#222" text-anchor="middle">1.0</text></svg>
</body></html>
